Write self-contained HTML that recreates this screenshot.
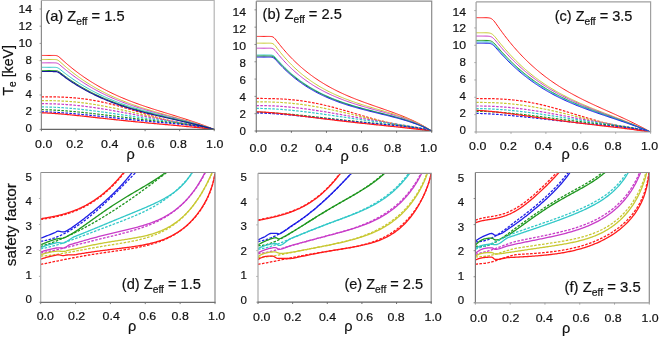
<!DOCTYPE html><html><head><meta charset="utf-8"><style>html,body{margin:0;padding:0;background:#fff;overflow:hidden;}svg{display:block;will-change:transform;}text{font-family:"Liberation Sans",sans-serif;stroke:#111111;stroke-width:0.2px;}</style></head><body>
<svg width="659" height="337" viewBox="0 0 659 337">
<rect width="659" height="337" fill="#fff"/>
<clipPath id="cla"><rect x="41.4" y="0.4" width="172.79999999999998" height="129.0"/></clipPath>
<g clip-path="url(#cla)">
<path d="M41.40,96.81 42.49,96.81 43.57,96.81 44.66,96.81 45.75,96.81 46.83,96.81 47.92,96.82 49.01,96.83 50.09,96.84 51.18,96.85 52.27,96.86 53.35,96.88 54.44,96.90 55.53,96.92 56.62,96.94 57.70,96.97 58.79,97.00 59.88,97.03 60.96,97.07 62.05,97.11 63.14,97.16 64.22,97.21 65.31,97.26 66.40,97.32 67.48,97.38 68.57,97.45 69.66,97.52 70.74,97.60 71.83,97.68 72.92,97.76 74.00,97.85 75.09,97.95 76.18,98.05 77.26,98.15 78.35,98.26 79.44,98.38 80.52,98.50 81.61,98.62 82.70,98.75 83.78,98.89 84.87,99.03 85.96,99.18 87.05,99.34 88.13,99.49 89.22,99.66 90.31,99.83 91.39,100.00 92.48,100.19 93.57,100.37 94.65,100.56 95.74,100.76 96.83,100.96 97.91,101.17 99.00,101.39 100.09,101.60 101.17,101.83 102.26,102.06 103.35,102.29 104.43,102.53 105.52,102.77 106.61,103.02 107.69,103.28 108.78,103.53 109.87,103.80 110.95,104.06 112.04,104.34 113.13,104.61 114.22,104.89 115.30,105.17 116.39,105.46 117.48,105.75 118.56,106.05 119.65,106.34 120.74,106.65 121.82,106.95 122.91,107.26 124.00,107.57 125.08,107.88 126.17,108.19 127.26,108.51 128.34,108.83 129.43,109.15 130.52,109.47 131.60,109.79 132.69,110.12 133.78,110.45 134.86,110.77 135.95,111.10 137.04,111.43 138.12,111.76 139.21,112.09 140.30,112.42 141.38,112.74 142.47,113.07 143.56,113.40 144.65,113.73 145.73,114.06 146.82,114.38 147.91,114.71 148.99,115.03 150.08,115.35 151.17,115.67 152.25,115.99 153.34,116.30 154.43,116.62 155.51,116.93 156.60,117.24 157.69,117.55 158.77,117.85 159.86,118.16 160.95,118.46 162.03,118.75 163.12,119.05 164.21,119.34 165.29,119.62 166.38,119.91 167.47,120.19 168.55,120.47 169.64,120.74 170.73,121.01 171.82,121.28 172.90,121.55 173.99,121.81 175.08,122.07 176.16,122.32 177.25,122.57 178.34,122.82 179.42,123.06 180.51,123.30 181.60,123.54 182.68,123.78 183.77,124.01 184.86,124.23 185.94,124.46 187.03,124.68 188.12,124.90 189.20,125.11 190.29,125.33 191.38,125.54 192.46,125.74 193.55,125.95 194.64,126.15 195.72,126.35 196.81,126.55 197.90,126.74 198.98,126.93 200.07,127.12 201.16,127.31 202.25,127.50 203.33,127.68 204.42,127.86 205.51,128.04 206.59,128.22 207.68,128.39 208.77,128.56 209.85,128.73 210.94,128.90 212.03,129.07 213.11,129.24 214.20,129.40" fill="none" stroke="#ff1a1a" stroke-width="1.2" stroke-dasharray="2.6,1.4" stroke-linejoin="round"/>
<path d="M41.40,100.59 42.49,100.59 43.57,100.59 44.66,100.60 45.75,100.60 46.83,100.61 47.92,100.62 49.01,100.63 50.09,100.65 51.18,100.66 52.27,100.69 53.35,100.71 54.44,100.74 55.53,100.77 56.62,100.80 57.70,100.84 58.79,100.88 59.88,100.93 60.96,100.98 62.05,101.03 63.14,101.08 64.22,101.14 65.31,101.21 66.40,101.28 67.48,101.35 68.57,101.43 69.66,101.51 70.74,101.59 71.83,101.68 72.92,101.77 74.00,101.87 75.09,101.97 76.18,102.07 77.26,102.18 78.35,102.30 79.44,102.41 80.52,102.54 81.61,102.66 82.70,102.79 83.78,102.93 84.87,103.07 85.96,103.21 87.05,103.36 88.13,103.51 89.22,103.66 90.31,103.82 91.39,103.98 92.48,104.15 93.57,104.32 94.65,104.49 95.74,104.67 96.83,104.85 97.91,105.04 99.00,105.22 100.09,105.42 101.17,105.61 102.26,105.81 103.35,106.01 104.43,106.21 105.52,106.42 106.61,106.63 107.69,106.85 108.78,107.06 109.87,107.28 110.95,107.50 112.04,107.73 113.13,107.96 114.22,108.18 115.30,108.42 116.39,108.65 117.48,108.88 118.56,109.12 119.65,109.36 120.74,109.60 121.82,109.84 122.91,110.09 124.00,110.33 125.08,110.58 126.17,110.83 127.26,111.08 128.34,111.33 129.43,111.58 130.52,111.83 131.60,112.08 132.69,112.33 133.78,112.59 134.86,112.84 135.95,113.09 137.04,113.35 138.12,113.60 139.21,113.85 140.30,114.11 141.38,114.36 142.47,114.61 143.56,114.87 144.65,115.12 145.73,115.37 146.82,115.62 147.91,115.87 148.99,116.12 150.08,116.37 151.17,116.61 152.25,116.86 153.34,117.10 154.43,117.34 155.51,117.59 156.60,117.83 157.69,118.07 158.77,118.30 159.86,118.54 160.95,118.77 162.03,119.01 163.12,119.24 164.21,119.47 165.29,119.70 166.38,119.92 167.47,120.15 168.55,120.37 169.64,120.59 170.73,120.81 171.82,121.03 172.90,121.25 173.99,121.46 175.08,121.68 176.16,121.89 177.25,122.10 178.34,122.31 179.42,122.52 180.51,122.73 181.60,122.94 182.68,123.14 183.77,123.35 184.86,123.55 185.94,123.76 187.03,123.96 188.12,124.17 189.20,124.37 190.29,124.57 191.38,124.78 192.46,124.98 193.55,125.18 194.64,125.39 195.72,125.60 196.81,125.80 197.90,126.01 198.98,126.22 200.07,126.43 201.16,126.64 202.25,126.86 203.33,127.07 204.42,127.29 205.51,127.51 206.59,127.74 207.68,127.97 208.77,128.20 209.85,128.43 210.94,128.67 212.03,128.91 213.11,129.15 214.20,129.40" fill="none" stroke="#c8c832" stroke-width="1.2" stroke-dasharray="2.6,1.4" stroke-linejoin="round"/>
<path d="M41.40,103.69 42.49,103.69 43.57,103.69 44.66,103.70 45.75,103.71 46.83,103.72 47.92,103.74 49.01,103.75 50.09,103.78 51.18,103.80 52.27,103.83 53.35,103.87 54.44,103.90 55.53,103.94 56.62,103.99 57.70,104.03 58.79,104.08 59.88,104.14 60.96,104.19 62.05,104.26 63.14,104.32 64.22,104.39 65.31,104.46 66.40,104.54 67.48,104.62 68.57,104.70 69.66,104.78 70.74,104.87 71.83,104.97 72.92,105.06 74.00,105.16 75.09,105.27 76.18,105.37 77.26,105.48 78.35,105.60 79.44,105.71 80.52,105.83 81.61,105.95 82.70,106.08 83.78,106.21 84.87,106.34 85.96,106.48 87.05,106.61 88.13,106.76 89.22,106.90 90.31,107.05 91.39,107.19 92.48,107.35 93.57,107.50 94.65,107.66 95.74,107.82 96.83,107.98 97.91,108.14 99.00,108.31 100.09,108.48 101.17,108.65 102.26,108.82 103.35,109.00 104.43,109.17 105.52,109.35 106.61,109.53 107.69,109.72 108.78,109.90 109.87,110.09 110.95,110.27 112.04,110.46 113.13,110.65 114.22,110.84 115.30,111.04 116.39,111.23 117.48,111.43 118.56,111.62 119.65,111.82 120.74,112.02 121.82,112.21 122.91,112.41 124.00,112.61 125.08,112.81 126.17,113.02 127.26,113.22 128.34,113.42 129.43,113.62 130.52,113.82 131.60,114.03 132.69,114.23 133.78,114.43 134.86,114.63 135.95,114.84 137.04,115.04 138.12,115.24 139.21,115.44 140.30,115.65 141.38,115.85 142.47,116.05 143.56,116.25 144.65,116.45 145.73,116.65 146.82,116.85 147.91,117.04 148.99,117.24 150.08,117.44 151.17,117.63 152.25,117.83 153.34,118.02 154.43,118.21 155.51,118.41 156.60,118.60 157.69,118.79 158.77,118.98 159.86,119.17 160.95,119.35 162.03,119.54 163.12,119.73 164.21,119.91 165.29,120.09 166.38,120.28 167.47,120.46 168.55,120.64 169.64,120.82 170.73,121.00 171.82,121.18 172.90,121.36 173.99,121.54 175.08,121.72 176.16,121.90 177.25,122.07 178.34,122.25 179.42,122.43 180.51,122.61 181.60,122.78 182.68,122.96 183.77,123.14 184.86,123.32 185.94,123.50 187.03,123.68 188.12,123.87 189.20,124.05 190.29,124.24 191.38,124.42 192.46,124.62 193.55,124.81 194.64,125.00 195.72,125.20 196.81,125.41 197.90,125.61 198.98,125.82 200.07,126.04 201.16,126.26 202.25,126.48 203.33,126.71 204.42,126.95 205.51,127.19 206.59,127.44 207.68,127.69 208.77,127.95 209.85,128.23 210.94,128.51 212.03,128.79 213.11,129.09 214.20,129.40" fill="none" stroke="#c83cc8" stroke-width="1.2" stroke-dasharray="2.6,1.4" stroke-linejoin="round"/>
<path d="M41.40,106.95 42.49,106.96 43.57,106.96 44.66,106.98 45.75,106.99 46.83,107.01 47.92,107.04 49.01,107.07 50.09,107.10 51.18,107.14 52.27,107.18 53.35,107.22 54.44,107.27 55.53,107.32 56.62,107.37 57.70,107.43 58.79,107.49 59.88,107.55 60.96,107.62 62.05,107.69 63.14,107.76 64.22,107.84 65.31,107.91 66.40,108.00 67.48,108.08 68.57,108.17 69.66,108.26 70.74,108.35 71.83,108.45 72.92,108.55 74.00,108.65 75.09,108.75 76.18,108.86 77.26,108.96 78.35,109.08 79.44,109.19 80.52,109.30 81.61,109.42 82.70,109.54 83.78,109.66 84.87,109.78 85.96,109.91 87.05,110.04 88.13,110.17 89.22,110.30 90.31,110.43 91.39,110.56 92.48,110.70 93.57,110.84 94.65,110.98 95.74,111.12 96.83,111.26 97.91,111.40 99.00,111.55 100.09,111.69 101.17,111.84 102.26,111.99 103.35,112.14 104.43,112.29 105.52,112.44 106.61,112.59 107.69,112.74 108.78,112.90 109.87,113.05 110.95,113.21 112.04,113.36 113.13,113.52 114.22,113.68 115.30,113.83 116.39,113.99 117.48,114.15 118.56,114.31 119.65,114.47 120.74,114.63 121.82,114.79 122.91,114.95 124.00,115.11 125.08,115.27 126.17,115.43 127.26,115.59 128.34,115.74 129.43,115.90 130.52,116.06 131.60,116.22 132.69,116.38 133.78,116.54 134.86,116.70 135.95,116.86 137.04,117.02 138.12,117.17 139.21,117.33 140.30,117.49 141.38,117.64 142.47,117.80 143.56,117.96 144.65,118.11 145.73,118.26 146.82,118.42 147.91,118.57 148.99,118.72 150.08,118.87 151.17,119.03 152.25,119.18 153.34,119.33 154.43,119.47 155.51,119.62 156.60,119.77 157.69,119.92 158.77,120.06 159.86,120.21 160.95,120.36 162.03,120.50 163.12,120.64 164.21,120.79 165.29,120.93 166.38,121.07 167.47,121.22 168.55,121.36 169.64,121.50 170.73,121.64 171.82,121.78 172.90,121.93 173.99,122.07 175.08,122.21 176.16,122.35 177.25,122.49 178.34,122.64 179.42,122.78 180.51,122.92 181.60,123.07 182.68,123.22 183.77,123.37 184.86,123.52 185.94,123.67 187.03,123.82 188.12,123.98 189.20,124.14 190.29,124.30 191.38,124.46 192.46,124.63 193.55,124.80 194.64,124.98 195.72,125.16 196.81,125.34 197.90,125.53 198.98,125.73 200.07,125.93 201.16,126.14 202.25,126.36 203.33,126.58 204.42,126.82 205.51,127.06 206.59,127.31 207.68,127.57 208.77,127.85 209.85,128.13 210.94,128.43 212.03,128.74 213.11,129.06 214.20,129.40" fill="none" stroke="#32c8c8" stroke-width="1.2" stroke-dasharray="2.6,1.4" stroke-linejoin="round"/>
<path d="M41.40,109.71 42.49,109.71 43.57,109.73 44.66,109.74 45.75,109.77 46.83,109.80 47.92,109.83 49.01,109.87 50.09,109.91 51.18,109.96 52.27,110.01 53.35,110.06 54.44,110.11 55.53,110.17 56.62,110.24 57.70,110.30 58.79,110.37 59.88,110.44 60.96,110.51 62.05,110.59 63.14,110.67 64.22,110.75 65.31,110.83 66.40,110.92 67.48,111.00 68.57,111.09 69.66,111.19 70.74,111.28 71.83,111.38 72.92,111.47 74.00,111.57 75.09,111.68 76.18,111.78 77.26,111.88 78.35,111.99 79.44,112.10 80.52,112.21 81.61,112.32 82.70,112.43 83.78,112.55 84.87,112.66 85.96,112.78 87.05,112.90 88.13,113.02 89.22,113.14 90.31,113.26 91.39,113.38 92.48,113.50 93.57,113.62 94.65,113.75 95.74,113.87 96.83,114.00 97.91,114.13 99.00,114.25 100.09,114.38 101.17,114.51 102.26,114.64 103.35,114.77 104.43,114.90 105.52,115.03 106.61,115.16 107.69,115.29 108.78,115.42 109.87,115.56 110.95,115.69 112.04,115.82 113.13,115.95 114.22,116.08 115.30,116.22 116.39,116.35 117.48,116.48 118.56,116.61 119.65,116.75 120.74,116.88 121.82,117.01 122.91,117.14 124.00,117.28 125.08,117.41 126.17,117.54 127.26,117.67 128.34,117.80 129.43,117.93 130.52,118.06 131.60,118.19 132.69,118.32 133.78,118.45 134.86,118.58 135.95,118.71 137.04,118.83 138.12,118.96 139.21,119.09 140.30,119.21 141.38,119.34 142.47,119.47 143.56,119.59 144.65,119.71 145.73,119.84 146.82,119.96 147.91,120.08 148.99,120.20 150.08,120.33 151.17,120.45 152.25,120.57 153.34,120.69 154.43,120.80 155.51,120.92 156.60,121.04 157.69,121.16 158.77,121.27 159.86,121.39 160.95,121.51 162.03,121.62 163.12,121.74 164.21,121.85 165.29,121.96 166.38,122.08 167.47,122.19 168.55,122.31 169.64,122.42 170.73,122.53 171.82,122.65 172.90,122.76 173.99,122.87 175.08,122.99 176.16,123.10 177.25,123.22 178.34,123.34 179.42,123.45 180.51,123.57 181.60,123.69 182.68,123.81 183.77,123.93 184.86,124.06 185.94,124.18 187.03,124.31 188.12,124.44 189.20,124.58 190.29,124.71 191.38,124.85 192.46,125.00 193.55,125.15 194.64,125.30 195.72,125.46 196.81,125.62 197.90,125.79 198.98,125.96 200.07,126.14 201.16,126.33 202.25,126.53 203.33,126.73 204.42,126.95 205.51,127.17 206.59,127.40 207.68,127.65 208.77,127.91 209.85,128.18 210.94,128.46 212.03,128.76 213.11,129.07 214.20,129.40" fill="none" stroke="#1e961e" stroke-width="1.2" stroke-dasharray="2.6,1.4" stroke-linejoin="round"/>
<path d="M41.40,111.77 42.49,111.78 43.57,111.80 44.66,111.82 45.75,111.85 46.83,111.89 47.92,111.93 49.01,111.97 50.09,112.02 51.18,112.07 52.27,112.12 53.35,112.18 54.44,112.24 55.53,112.30 56.62,112.37 57.70,112.43 58.79,112.51 59.88,112.58 60.96,112.65 62.05,112.73 63.14,112.81 64.22,112.89 65.31,112.98 66.40,113.06 67.48,113.15 68.57,113.24 69.66,113.33 70.74,113.42 71.83,113.52 72.92,113.61 74.00,113.71 75.09,113.81 76.18,113.91 77.26,114.01 78.35,114.11 79.44,114.21 80.52,114.32 81.61,114.42 82.70,114.53 83.78,114.63 84.87,114.74 85.96,114.85 87.05,114.96 88.13,115.07 89.22,115.18 90.31,115.29 91.39,115.41 92.48,115.52 93.57,115.63 94.65,115.75 95.74,115.86 96.83,115.97 97.91,116.09 99.00,116.20 100.09,116.32 101.17,116.44 102.26,116.55 103.35,116.67 104.43,116.78 105.52,116.90 106.61,117.02 107.69,117.13 108.78,117.25 109.87,117.37 110.95,117.48 112.04,117.60 113.13,117.72 114.22,117.83 115.30,117.95 116.39,118.07 117.48,118.18 118.56,118.30 119.65,118.41 120.74,118.53 121.82,118.64 122.91,118.76 124.00,118.87 125.08,118.99 126.17,119.10 127.26,119.21 128.34,119.33 129.43,119.44 130.52,119.55 131.60,119.66 132.69,119.78 133.78,119.89 134.86,120.00 135.95,120.11 137.04,120.22 138.12,120.32 139.21,120.43 140.30,120.54 141.38,120.65 142.47,120.75 143.56,120.86 144.65,120.97 145.73,121.07 146.82,121.18 147.91,121.28 148.99,121.38 150.08,121.49 151.17,121.59 152.25,121.69 153.34,121.79 154.43,121.89 155.51,121.99 156.60,122.09 157.69,122.19 158.77,122.29 159.86,122.39 160.95,122.48 162.03,122.58 163.12,122.68 164.21,122.77 165.29,122.87 166.38,122.97 167.47,123.06 168.55,123.16 169.64,123.26 170.73,123.35 171.82,123.45 172.90,123.54 173.99,123.64 175.08,123.74 176.16,123.83 177.25,123.93 178.34,124.03 179.42,124.13 180.51,124.23 181.60,124.33 182.68,124.44 183.77,124.54 184.86,124.65 185.94,124.75 187.03,124.86 188.12,124.98 189.20,125.09 190.29,125.21 191.38,125.33 192.46,125.46 193.55,125.59 194.64,125.72 195.72,125.86 196.81,126.00 197.90,126.15 198.98,126.30 200.07,126.46 201.16,126.63 202.25,126.80 203.33,126.99 204.42,127.18 205.51,127.38 206.59,127.59 207.68,127.81 208.77,128.04 209.85,128.28 210.94,128.54 212.03,128.81 213.11,129.10 214.20,129.40" fill="none" stroke="#1e1ee6" stroke-width="1.2" stroke-dasharray="2.6,1.4" stroke-linejoin="round"/>
<path d="M41.40,112.80 42.49,112.82 43.57,112.85 44.66,112.88 45.75,112.93 46.83,112.98 47.92,113.03 49.01,113.09 50.09,113.16 51.18,113.22 52.27,113.29 53.35,113.37 54.44,113.45 55.53,113.53 56.62,113.61 57.70,113.70 58.79,113.78 59.88,113.87 60.96,113.97 62.05,114.06 63.14,114.16 64.22,114.26 65.31,114.36 66.40,114.46 67.48,114.56 68.57,114.67 69.66,114.77 70.74,114.88 71.83,114.99 72.92,115.10 74.00,115.21 75.09,115.32 76.18,115.43 77.26,115.54 78.35,115.66 79.44,115.77 80.52,115.89 81.61,116.01 82.70,116.12 83.78,116.24 84.87,116.36 85.96,116.47 87.05,116.59 88.13,116.71 89.22,116.83 90.31,116.95 91.39,117.07 92.48,117.19 93.57,117.31 94.65,117.43 95.74,117.55 96.83,117.67 97.91,117.79 99.00,117.91 100.09,118.03 101.17,118.15 102.26,118.27 103.35,118.39 104.43,118.51 105.52,118.62 106.61,118.74 107.69,118.86 108.78,118.98 109.87,119.10 110.95,119.21 112.04,119.33 113.13,119.45 114.22,119.56 115.30,119.68 116.39,119.80 117.48,119.91 118.56,120.02 119.65,120.14 120.74,120.25 121.82,120.37 122.91,120.48 124.00,120.59 125.08,120.70 126.17,120.81 127.26,120.92 128.34,121.03 129.43,121.14 130.52,121.25 131.60,121.36 132.69,121.47 133.78,121.58 134.86,121.68 135.95,121.79 137.04,121.90 138.12,122.00 139.21,122.11 140.30,122.21 141.38,122.32 142.47,122.42 143.56,122.52 144.65,122.63 145.73,122.73 146.82,122.83 147.91,122.93 148.99,123.04 150.08,123.14 151.17,123.24 152.25,123.34 153.34,123.44 154.43,123.54 155.51,123.64 156.60,123.74 157.69,123.84 158.77,123.94 159.86,124.03 160.95,124.13 162.03,124.23 163.12,124.33 164.21,124.43 165.29,124.53 166.38,124.63 167.47,124.72 168.55,124.82 169.64,124.92 170.73,125.02 171.82,125.12 172.90,125.22 173.99,125.32 175.08,125.42 176.16,125.52 177.25,125.62 178.34,125.72 179.42,125.82 180.51,125.92 181.60,126.02 182.68,126.12 183.77,126.22 184.86,126.33 185.94,126.43 187.03,126.53 188.12,126.64 189.20,126.74 190.29,126.85 191.38,126.96 192.46,127.06 193.55,127.17 194.64,127.28 195.72,127.39 196.81,127.50 197.90,127.61 198.98,127.72 200.07,127.84 201.16,127.95 202.25,128.07 203.33,128.18 204.42,128.30 205.51,128.42 206.59,128.54 207.68,128.66 208.77,128.78 209.85,128.90 210.94,129.02 212.03,129.15 213.11,129.27 214.20,129.40" fill="none" stroke="#ff1a1a" stroke-width="1.2" stroke-linejoin="round"/>
<path d="M41.40,55.44 42.49,55.44 43.57,55.44 44.66,55.44 45.75,55.44 46.83,55.44 47.92,55.44 49.01,55.44 50.09,55.44 51.18,55.44 52.27,55.44 53.35,55.45 54.44,55.46 55.53,55.51 56.62,55.66 57.70,56.05 58.79,56.74 59.88,57.64 60.96,58.61 62.05,59.60 63.14,60.59 64.22,61.56 65.31,62.53 66.40,63.47 67.48,64.41 68.57,65.33 69.66,66.24 70.74,67.13 71.83,68.02 72.92,68.89 74.00,69.74 75.09,70.59 76.18,71.42 77.26,72.24 78.35,73.05 79.44,73.85 80.52,74.64 81.61,75.42 82.70,76.18 83.78,76.94 84.87,77.68 85.96,78.41 87.05,79.14 88.13,79.85 89.22,80.55 90.31,81.24 91.39,81.93 92.48,82.60 93.57,83.26 94.65,83.92 95.74,84.56 96.83,85.20 97.91,85.83 99.00,86.45 100.09,87.06 101.17,87.66 102.26,88.25 103.35,88.84 104.43,89.41 105.52,89.98 106.61,90.54 107.69,91.09 108.78,91.64 109.87,92.18 110.95,92.71 112.04,93.23 113.13,93.75 114.22,94.26 115.30,94.76 116.39,95.26 117.48,95.75 118.56,96.23 119.65,96.71 120.74,97.18 121.82,97.64 122.91,98.10 124.00,98.55 125.08,99.00 126.17,99.44 127.26,99.88 128.34,100.31 129.43,100.74 130.52,101.16 131.60,101.58 132.69,101.99 133.78,102.39 134.86,102.80 135.95,103.20 137.04,103.59 138.12,103.98 139.21,104.37 140.30,104.75 141.38,105.13 142.47,105.50 143.56,105.88 144.65,106.24 145.73,106.61 146.82,106.97 147.91,107.33 148.99,107.69 150.08,108.04 151.17,108.40 152.25,108.75 153.34,109.09 154.43,109.44 155.51,109.78 156.60,110.13 157.69,110.47 158.77,110.80 159.86,111.14 160.95,111.48 162.03,111.81 163.12,112.15 164.21,112.48 165.29,112.82 166.38,113.15 167.47,113.48 168.55,113.81 169.64,114.15 170.73,114.48 171.82,114.81 172.90,115.14 173.99,115.48 175.08,115.81 176.16,116.15 177.25,116.48 178.34,116.82 179.42,117.16 180.51,117.50 181.60,117.84 182.68,118.18 183.77,118.52 184.86,118.87 185.94,119.22 187.03,119.57 188.12,119.92 189.20,120.28 190.29,120.63 191.38,120.99 192.46,121.36 193.55,121.72 194.64,122.09 195.72,122.46 196.81,122.84 197.90,123.22 198.98,123.60 200.07,123.99 201.16,124.38 202.25,124.77 203.33,125.17 204.42,125.57 205.51,125.98 206.59,126.39 207.68,126.80 208.77,127.23 209.85,127.65 210.94,128.08 212.03,128.51 213.11,128.95 214.20,129.40" fill="none" stroke="#ff1a1a" stroke-width="1.0" stroke-linejoin="round"/>
<path d="M41.40,59.48 42.49,59.48 43.57,59.48 44.66,59.48 45.75,59.48 46.83,59.48 47.92,59.48 49.01,59.48 50.09,59.48 51.18,59.48 52.27,59.48 53.35,59.49 54.44,59.50 55.53,59.55 56.62,59.70 57.70,60.08 58.79,60.76 59.88,61.65 60.96,62.61 62.05,63.59 63.14,64.56 64.22,65.52 65.31,66.46 66.40,67.39 67.48,68.31 68.57,69.21 69.66,70.10 70.74,70.98 71.83,71.84 72.92,72.70 74.00,73.54 75.09,74.36 76.18,75.18 77.26,75.98 78.35,76.77 79.44,77.55 80.52,78.31 81.61,79.07 82.70,79.82 83.78,80.55 84.87,81.27 85.96,81.98 87.05,82.69 88.13,83.38 89.22,84.06 90.31,84.73 91.39,85.39 92.48,86.04 93.57,86.68 94.65,87.32 95.74,87.94 96.83,88.55 97.91,89.16 99.00,89.75 100.09,90.34 101.17,90.92 102.26,91.49 103.35,92.05 104.43,92.61 105.52,93.15 106.61,93.69 107.69,94.22 108.78,94.74 109.87,95.26 110.95,95.77 112.04,96.27 113.13,96.76 114.22,97.25 115.30,97.73 116.39,98.20 117.48,98.67 118.56,99.13 119.65,99.58 120.74,100.03 121.82,100.47 122.91,100.91 124.00,101.34 125.08,101.76 126.17,102.18 127.26,102.60 128.34,103.00 129.43,103.41 130.52,103.81 131.60,104.20 132.69,104.59 133.78,104.97 134.86,105.35 135.95,105.73 137.04,106.10 138.12,106.46 139.21,106.83 140.30,107.18 141.38,107.54 142.47,107.89 143.56,108.24 144.65,108.58 145.73,108.93 146.82,109.26 147.91,109.60 148.99,109.93 150.08,110.26 151.17,110.59 152.25,110.91 153.34,111.24 154.43,111.56 155.51,111.88 156.60,112.19 157.69,112.51 158.77,112.82 159.86,113.13 160.95,113.44 162.03,113.75 163.12,114.06 164.21,114.36 165.29,114.67 166.38,114.97 167.47,115.28 168.55,115.58 169.64,115.88 170.73,116.19 171.82,116.49 172.90,116.79 173.99,117.10 175.08,117.40 176.16,117.70 177.25,118.00 178.34,118.31 179.42,118.61 180.51,118.92 181.60,119.23 182.68,119.53 183.77,119.84 184.86,120.15 185.94,120.46 187.03,120.78 188.12,121.09 189.20,121.41 190.29,121.72 191.38,122.04 192.46,122.37 193.55,122.69 194.64,123.02 195.72,123.35 196.81,123.68 197.90,124.01 198.98,124.35 200.07,124.69 201.16,125.03 202.25,125.38 203.33,125.72 204.42,126.08 205.51,126.43 206.59,126.79 207.68,127.15 208.77,127.52 209.85,127.89 210.94,128.26 212.03,128.63 213.11,129.02 214.20,129.40" fill="none" stroke="#c8c832" stroke-width="1.0" stroke-linejoin="round"/>
<path d="M41.40,62.84 42.49,62.84 43.57,62.84 44.66,62.84 45.75,62.84 46.83,62.84 47.92,62.84 49.01,62.84 50.09,62.84 51.18,62.84 52.27,62.84 53.35,62.84 54.44,62.86 55.53,62.90 56.62,63.05 57.70,63.41 58.79,64.06 59.88,64.90 60.96,65.81 62.05,66.74 63.14,67.67 64.22,68.58 65.31,69.48 66.40,70.37 67.48,71.24 68.57,72.10 69.66,72.95 70.74,73.78 71.83,74.61 72.92,75.42 74.00,76.22 75.09,77.00 76.18,77.78 77.26,78.54 78.35,79.29 79.44,80.03 80.52,80.77 81.61,81.48 82.70,82.19 83.78,82.89 84.87,83.58 85.96,84.26 87.05,84.93 88.13,85.58 89.22,86.23 90.31,86.87 91.39,87.50 92.48,88.12 93.57,88.73 94.65,89.33 95.74,89.93 96.83,90.51 97.91,91.09 99.00,91.66 100.09,92.22 101.17,92.77 102.26,93.31 103.35,93.84 104.43,94.37 105.52,94.89 106.61,95.40 107.69,95.91 108.78,96.41 109.87,96.90 110.95,97.38 112.04,97.86 113.13,98.33 114.22,98.79 115.30,99.25 116.39,99.70 117.48,100.14 118.56,100.58 119.65,101.01 120.74,101.44 121.82,101.86 122.91,102.28 124.00,102.68 125.08,103.09 126.17,103.49 127.26,103.88 128.34,104.27 129.43,104.65 130.52,105.03 131.60,105.41 132.69,105.78 133.78,106.14 134.86,106.50 135.95,106.86 137.04,107.21 138.12,107.56 139.21,107.91 140.30,108.25 141.38,108.59 142.47,108.92 143.56,109.25 144.65,109.58 145.73,109.91 146.82,110.23 147.91,110.55 148.99,110.87 150.08,111.18 151.17,111.49 152.25,111.80 153.34,112.11 154.43,112.41 155.51,112.72 156.60,113.02 157.69,113.32 158.77,113.62 159.86,113.91 160.95,114.21 162.03,114.50 163.12,114.79 164.21,115.09 165.29,115.38 166.38,115.67 167.47,115.96 168.55,116.24 169.64,116.53 170.73,116.82 171.82,117.11 172.90,117.40 173.99,117.69 175.08,117.97 176.16,118.26 177.25,118.55 178.34,118.84 179.42,119.13 180.51,119.42 181.60,119.71 182.68,120.01 183.77,120.30 184.86,120.60 185.94,120.89 187.03,121.19 188.12,121.49 189.20,121.79 190.29,122.09 191.38,122.40 192.46,122.70 193.55,123.01 194.64,123.32 195.72,123.64 196.81,123.95 197.90,124.27 198.98,124.59 200.07,124.91 201.16,125.24 202.25,125.57 203.33,125.90 204.42,126.24 205.51,126.57 206.59,126.91 207.68,127.26 208.77,127.61 209.85,127.96 210.94,128.31 212.03,128.67 213.11,129.03 214.20,129.40" fill="none" stroke="#c83cc8" stroke-width="1.0" stroke-linejoin="round"/>
<path d="M41.40,67.31 42.49,67.31 43.57,67.31 44.66,67.31 45.75,67.31 46.83,67.31 47.92,67.31 49.01,67.31 50.09,67.31 51.18,67.31 52.27,67.31 53.35,67.31 54.44,67.33 55.53,67.37 56.62,67.50 57.70,67.84 58.79,68.45 59.88,69.23 60.96,70.09 62.05,70.95 63.14,71.81 64.22,72.67 65.31,73.51 66.40,74.33 67.48,75.15 68.57,75.95 69.66,76.74 70.74,77.52 71.83,78.29 72.92,79.04 74.00,79.79 75.09,80.52 76.18,81.25 77.26,81.96 78.35,82.66 79.44,83.35 80.52,84.03 81.61,84.70 82.70,85.37 83.78,86.02 84.87,86.66 85.96,87.29 87.05,87.91 88.13,88.53 89.22,89.13 90.31,89.73 91.39,90.32 92.48,90.89 93.57,91.46 94.65,92.03 95.74,92.58 96.83,93.12 97.91,93.66 99.00,94.19 100.09,94.71 101.17,95.23 102.26,95.73 103.35,96.23 104.43,96.73 105.52,97.21 106.61,97.69 107.69,98.16 108.78,98.62 109.87,99.08 110.95,99.53 112.04,99.98 113.13,100.42 114.22,100.85 115.30,101.27 116.39,101.69 117.48,102.11 118.56,102.52 119.65,102.92 120.74,103.32 121.82,103.71 122.91,104.10 124.00,104.48 125.08,104.86 126.17,105.23 127.26,105.60 128.34,105.96 129.43,106.32 130.52,106.67 131.60,107.02 132.69,107.36 133.78,107.71 134.86,108.04 135.95,108.38 137.04,108.70 138.12,109.03 139.21,109.35 140.30,109.67 141.38,109.99 142.47,110.30 143.56,110.61 144.65,110.91 145.73,111.22 146.82,111.52 147.91,111.82 148.99,112.11 150.08,112.40 151.17,112.70 152.25,112.98 153.34,113.27 154.43,113.55 155.51,113.84 156.60,114.12 157.69,114.40 158.77,114.68 159.86,114.95 160.95,115.23 162.03,115.50 163.12,115.77 164.21,116.05 165.29,116.32 166.38,116.59 167.47,116.86 168.55,117.13 169.64,117.40 170.73,117.67 171.82,117.94 172.90,118.20 173.99,118.47 175.08,118.74 176.16,119.01 177.25,119.28 178.34,119.55 179.42,119.82 180.51,120.09 181.60,120.36 182.68,120.64 183.77,120.91 184.86,121.19 185.94,121.46 187.03,121.74 188.12,122.02 189.20,122.30 190.29,122.58 191.38,122.87 192.46,123.15 193.55,123.44 194.64,123.73 195.72,124.02 196.81,124.32 197.90,124.61 198.98,124.91 200.07,125.22 201.16,125.52 202.25,125.83 203.33,126.14 204.42,126.45 205.51,126.76 206.59,127.08 207.68,127.40 208.77,127.73 209.85,128.05 210.94,128.39 212.03,128.72 213.11,129.06 214.20,129.40" fill="none" stroke="#32c8c8" stroke-width="1.0" stroke-linejoin="round"/>
<path d="M41.40,70.49 42.49,70.49 43.57,70.49 44.66,70.49 45.75,70.49 46.83,70.49 47.92,70.49 49.01,70.49 50.09,70.49 51.18,70.49 52.27,70.49 53.35,70.49 54.44,70.51 55.53,70.55 56.62,70.68 57.70,71.00 58.79,71.57 59.88,72.32 60.96,73.13 62.05,73.95 63.14,74.77 64.22,75.57 65.31,76.37 66.40,77.15 67.48,77.93 68.57,78.69 69.66,79.44 70.74,80.18 71.83,80.91 72.92,81.62 74.00,82.33 75.09,83.03 76.18,83.71 77.26,84.39 78.35,85.06 79.44,85.71 80.52,86.36 81.61,86.99 82.70,87.62 83.78,88.24 84.87,88.85 85.96,89.45 87.05,90.04 88.13,90.62 89.22,91.20 90.31,91.76 91.39,92.32 92.48,92.87 93.57,93.41 94.65,93.94 95.74,94.47 96.83,94.98 97.91,95.49 99.00,96.00 100.09,96.49 101.17,96.98 102.26,97.46 103.35,97.93 104.43,98.40 105.52,98.86 106.61,99.31 107.69,99.76 108.78,100.20 109.87,100.63 110.95,101.06 112.04,101.48 113.13,101.90 114.22,102.31 115.30,102.71 116.39,103.11 117.48,103.51 118.56,103.89 119.65,104.28 120.74,104.65 121.82,105.03 122.91,105.39 124.00,105.76 125.08,106.11 126.17,106.47 127.26,106.82 128.34,107.16 129.43,107.50 130.52,107.83 131.60,108.17 132.69,108.49 133.78,108.82 134.86,109.14 135.95,109.45 137.04,109.77 138.12,110.07 139.21,110.38 140.30,110.68 141.38,110.98 142.47,111.28 143.56,111.57 144.65,111.86 145.73,112.15 146.82,112.43 147.91,112.72 148.99,113.00 150.08,113.28 151.17,113.55 152.25,113.83 153.34,114.10 154.43,114.37 155.51,114.64 156.60,114.90 157.69,115.17 158.77,115.43 159.86,115.69 160.95,115.95 162.03,116.21 163.12,116.47 164.21,116.73 165.29,116.99 166.38,117.25 167.47,117.50 168.55,117.76 169.64,118.01 170.73,118.27 171.82,118.52 172.90,118.78 173.99,119.03 175.08,119.29 176.16,119.54 177.25,119.80 178.34,120.05 179.42,120.31 180.51,120.57 181.60,120.83 182.68,121.09 183.77,121.35 184.86,121.61 185.94,121.87 187.03,122.13 188.12,122.40 189.20,122.67 190.29,122.93 191.38,123.20 192.46,123.47 193.55,123.75 194.64,124.02 195.72,124.30 196.81,124.58 197.90,124.86 198.98,125.14 200.07,125.43 201.16,125.72 202.25,126.01 203.33,126.30 204.42,126.60 205.51,126.90 206.59,127.20 207.68,127.50 208.77,127.81 209.85,128.12 210.94,128.44 212.03,128.76 213.11,129.08 214.20,129.40" fill="none" stroke="#1e961e" stroke-width="1.0" stroke-linejoin="round"/>
<path d="M41.40,71.52 42.49,71.52 43.57,71.52 44.66,71.52 45.75,71.52 46.83,71.52 47.92,71.52 49.01,71.52 50.09,71.52 51.18,71.52 52.27,71.52 53.35,71.53 54.44,71.54 55.53,71.58 56.62,71.71 57.70,72.03 58.79,72.60 59.88,73.35 60.96,74.15 62.05,74.98 63.14,75.79 64.22,76.60 65.31,77.39 66.40,78.17 67.48,78.94 68.57,79.70 69.66,80.45 70.74,81.19 71.83,81.91 72.92,82.63 74.00,83.33 75.09,84.02 76.18,84.71 77.26,85.38 78.35,86.04 79.44,86.69 80.52,87.34 81.61,87.97 82.70,88.59 83.78,89.21 84.87,89.81 85.96,90.41 87.05,90.99 88.13,91.57 89.22,92.14 90.31,92.70 91.39,93.25 92.48,93.80 93.57,94.33 94.65,94.86 95.74,95.38 96.83,95.89 97.91,96.40 99.00,96.89 100.09,97.38 101.17,97.87 102.26,98.34 103.35,98.81 104.43,99.27 105.52,99.73 106.61,100.17 107.69,100.61 108.78,101.05 109.87,101.48 110.95,101.90 112.04,102.32 113.13,102.73 114.22,103.13 115.30,103.53 116.39,103.92 117.48,104.31 118.56,104.69 119.65,105.07 120.74,105.44 121.82,105.81 122.91,106.17 124.00,106.52 125.08,106.88 126.17,107.22 127.26,107.57 128.34,107.90 129.43,108.24 130.52,108.57 131.60,108.89 132.69,109.21 133.78,109.53 134.86,109.84 135.95,110.15 137.04,110.46 138.12,110.76 139.21,111.06 140.30,111.36 141.38,111.65 142.47,111.94 143.56,112.23 144.65,112.51 145.73,112.79 146.82,113.07 147.91,113.35 148.99,113.62 150.08,113.89 151.17,114.16 152.25,114.43 153.34,114.69 154.43,114.96 155.51,115.22 156.60,115.48 157.69,115.74 158.77,115.99 159.86,116.25 160.95,116.50 162.03,116.75 163.12,117.01 164.21,117.26 165.29,117.51 166.38,117.76 167.47,118.00 168.55,118.25 169.64,118.50 170.73,118.75 171.82,118.99 172.90,119.24 173.99,119.48 175.08,119.73 176.16,119.98 177.25,120.22 178.34,120.47 179.42,120.72 180.51,120.97 181.60,121.22 182.68,121.47 183.77,121.72 184.86,121.97 185.94,122.22 187.03,122.47 188.12,122.73 189.20,122.98 190.29,123.24 191.38,123.50 192.46,123.76 193.55,124.02 194.64,124.28 195.72,124.55 196.81,124.81 197.90,125.08 198.98,125.35 200.07,125.63 201.16,125.90 202.25,126.18 203.33,126.46 204.42,126.74 205.51,127.02 206.59,127.31 207.68,127.60 208.77,127.89 209.85,128.19 210.94,128.49 212.03,128.79 213.11,129.09 214.20,129.40" fill="none" stroke="#16169a" stroke-width="1.2" stroke-linejoin="round"/>
</g>
<path d="M41.4,0.4 H214.2 V129.4" fill="none" stroke="#b4b4b4" stroke-width="1.2"/>
<line x1="41.4" y1="0.4" x2="41.4" y2="129.4" stroke="#8c8c8c" stroke-width="1.2"/>
<line x1="40.8" y1="129.4" x2="214.79999999999998" y2="129.4" stroke="#656565" stroke-width="1.2"/>
<line x1="39.6" y1="129.40" x2="41.4" y2="129.40" stroke="#8c8c8c" stroke-width="0.9"/>
<line x1="39.6" y1="112.20" x2="41.4" y2="112.20" stroke="#8c8c8c" stroke-width="0.9"/>
<line x1="39.6" y1="95.00" x2="41.4" y2="95.00" stroke="#8c8c8c" stroke-width="0.9"/>
<line x1="39.6" y1="77.80" x2="41.4" y2="77.80" stroke="#8c8c8c" stroke-width="0.9"/>
<line x1="39.6" y1="60.60" x2="41.4" y2="60.60" stroke="#8c8c8c" stroke-width="0.9"/>
<line x1="39.6" y1="43.40" x2="41.4" y2="43.40" stroke="#8c8c8c" stroke-width="0.9"/>
<line x1="39.6" y1="26.20" x2="41.4" y2="26.20" stroke="#8c8c8c" stroke-width="0.9"/>
<line x1="39.6" y1="9.00" x2="41.4" y2="9.00" stroke="#8c8c8c" stroke-width="0.9"/>
<line x1="41.40" y1="129.4" x2="41.40" y2="131.20000000000002" stroke="#656565" stroke-width="0.9"/>
<line x1="75.96" y1="129.4" x2="75.96" y2="131.20000000000002" stroke="#656565" stroke-width="0.9"/>
<line x1="110.52" y1="129.4" x2="110.52" y2="131.20000000000002" stroke="#656565" stroke-width="0.9"/>
<line x1="145.08" y1="129.4" x2="145.08" y2="131.20000000000002" stroke="#656565" stroke-width="0.9"/>
<line x1="179.64" y1="129.4" x2="179.64" y2="131.20000000000002" stroke="#656565" stroke-width="0.9"/>
<line x1="214.20" y1="129.4" x2="214.20" y2="131.20000000000002" stroke="#656565" stroke-width="0.9"/>
<clipPath id="clb"><rect x="256.3" y="1.2" width="175.39999999999998" height="129.8"/></clipPath>
<g clip-path="url(#clb)">
<path d="M256.30,98.46 257.40,98.46 258.51,98.46 259.61,98.47 260.71,98.47 261.82,98.47 262.92,98.48 264.02,98.49 265.13,98.49 266.23,98.51 267.33,98.52 268.43,98.54 269.54,98.56 270.64,98.58 271.74,98.60 272.85,98.63 273.95,98.66 275.05,98.70 276.16,98.74 277.26,98.78 278.36,98.83 279.47,98.88 280.57,98.93 281.67,98.99 282.78,99.05 283.88,99.12 284.98,99.19 286.08,99.27 287.19,99.35 288.29,99.44 289.39,99.53 290.50,99.63 291.60,99.73 292.70,99.83 293.81,99.94 294.91,100.06 296.01,100.18 297.12,100.31 298.22,100.44 299.32,100.58 300.43,100.72 301.53,100.87 302.63,101.03 303.74,101.19 304.84,101.35 305.94,101.52 307.04,101.70 308.15,101.88 309.25,102.06 310.35,102.26 311.46,102.45 312.56,102.66 313.66,102.86 314.77,103.08 315.87,103.30 316.97,103.52 318.08,103.75 319.18,103.98 320.28,104.22 321.39,104.46 322.49,104.71 323.59,104.96 324.69,105.22 325.80,105.48 326.90,105.75 328.00,106.02 329.11,106.29 330.21,106.57 331.31,106.85 332.42,107.14 333.52,107.42 334.62,107.72 335.73,108.01 336.83,108.31 337.93,108.61 339.04,108.92 340.14,109.22 341.24,109.53 342.35,109.84 343.45,110.16 344.55,110.47 345.65,110.79 346.76,111.11 347.86,111.43 348.96,111.75 350.07,112.07 351.17,112.40 352.27,112.72 353.38,113.05 354.48,113.37 355.58,113.70 356.69,114.02 357.79,114.35 358.89,114.67 360.00,115.00 361.10,115.32 362.20,115.64 363.31,115.97 364.41,116.29 365.51,116.61 366.61,116.93 367.72,117.24 368.82,117.56 369.92,117.87 371.03,118.18 372.13,118.49 373.23,118.80 374.34,119.10 375.44,119.40 376.54,119.70 377.65,120.00 378.75,120.29 379.85,120.58 380.96,120.87 382.06,121.16 383.16,121.44 384.26,121.72 385.37,121.99 386.47,122.27 387.57,122.54 388.68,122.80 389.78,123.07 390.88,123.33 391.99,123.58 393.09,123.84 394.19,124.09 395.30,124.33 396.40,124.58 397.50,124.82 398.61,125.05 399.71,125.29 400.81,125.52 401.92,125.75 403.02,125.97 404.12,126.19 405.22,126.41 406.33,126.63 407.43,126.84 408.53,127.05 409.64,127.26 410.74,127.47 411.84,127.67 412.95,127.87 414.05,128.07 415.15,128.27 416.26,128.47 417.36,128.66 418.46,128.85 419.57,129.04 420.67,129.22 421.77,129.41 422.87,129.59 423.98,129.77 425.08,129.95 426.18,130.13 427.29,130.31 428.39,130.48 429.49,130.66 430.60,130.83 431.70,131.00" fill="none" stroke="#ff1a1a" stroke-width="1.2" stroke-dasharray="2.6,1.4" stroke-linejoin="round"/>
<path d="M256.30,101.84 257.40,101.84 258.51,101.84 259.61,101.84 260.71,101.85 261.82,101.86 262.92,101.87 264.02,101.88 265.13,101.89 266.23,101.91 267.33,101.93 268.43,101.96 269.54,101.98 270.64,102.01 271.74,102.05 272.85,102.09 273.95,102.13 275.05,102.17 276.16,102.22 277.26,102.27 278.36,102.33 279.47,102.39 280.57,102.45 281.67,102.52 282.78,102.59 283.88,102.67 284.98,102.75 286.08,102.83 287.19,102.92 288.29,103.02 289.39,103.11 290.50,103.21 291.60,103.32 292.70,103.43 293.81,103.54 294.91,103.66 296.01,103.79 297.12,103.91 298.22,104.04 299.32,104.18 300.43,104.32 301.53,104.46 302.63,104.61 303.74,104.76 304.84,104.92 305.94,105.08 307.04,105.24 308.15,105.41 309.25,105.58 310.35,105.76 311.46,105.94 312.56,106.12 313.66,106.31 314.77,106.50 315.87,106.69 316.97,106.89 318.08,107.09 319.18,107.30 320.28,107.50 321.39,107.72 322.49,107.93 323.59,108.15 324.69,108.37 325.80,108.59 326.90,108.81 328.00,109.04 329.11,109.27 330.21,109.50 331.31,109.74 332.42,109.98 333.52,110.22 334.62,110.46 335.73,110.70 336.83,110.94 337.93,111.19 339.04,111.44 340.14,111.69 341.24,111.94 342.35,112.19 343.45,112.45 344.55,112.70 345.65,112.95 346.76,113.21 347.86,113.47 348.96,113.72 350.07,113.98 351.17,114.24 352.27,114.50 353.38,114.76 354.48,115.02 355.58,115.27 356.69,115.53 357.79,115.79 358.89,116.05 360.00,116.30 361.10,116.56 362.20,116.82 363.31,117.07 364.41,117.33 365.51,117.58 366.61,117.83 367.72,118.08 368.82,118.33 369.92,118.58 371.03,118.83 372.13,119.08 373.23,119.32 374.34,119.56 375.44,119.81 376.54,120.05 377.65,120.28 378.75,120.52 379.85,120.76 380.96,120.99 382.06,121.22 383.16,121.45 384.26,121.68 385.37,121.91 386.47,122.14 387.57,122.36 388.68,122.58 389.78,122.80 390.88,123.02 391.99,123.24 393.09,123.46 394.19,123.67 395.30,123.88 396.40,124.10 397.50,124.31 398.61,124.52 399.71,124.73 400.81,124.93 401.92,125.14 403.02,125.35 404.12,125.55 405.22,125.76 406.33,125.97 407.43,126.17 408.53,126.38 409.64,126.58 410.74,126.79 411.84,126.99 412.95,127.20 414.05,127.41 415.15,127.62 416.26,127.83 417.36,128.04 418.46,128.25 419.57,128.47 420.67,128.68 421.77,128.90 422.87,129.12 423.98,129.35 425.08,129.57 426.18,129.80 427.29,130.04 428.39,130.27 429.49,130.51 430.60,130.75 431.70,131.00" fill="none" stroke="#c8c832" stroke-width="1.2" stroke-dasharray="2.6,1.4" stroke-linejoin="round"/>
<path d="M256.30,105.56 257.40,105.56 258.51,105.56 259.61,105.57 260.71,105.58 261.82,105.60 262.92,105.61 264.02,105.63 265.13,105.66 266.23,105.68 267.33,105.72 268.43,105.75 269.54,105.79 270.64,105.83 271.74,105.87 272.85,105.92 273.95,105.97 275.05,106.03 276.16,106.09 277.26,106.15 278.36,106.22 279.47,106.29 280.57,106.36 281.67,106.44 282.78,106.52 283.88,106.60 284.98,106.69 286.08,106.78 287.19,106.88 288.29,106.97 289.39,107.07 290.50,107.18 291.60,107.28 292.70,107.40 293.81,107.51 294.91,107.63 296.01,107.75 297.12,107.87 298.22,107.99 299.32,108.12 300.43,108.26 301.53,108.39 302.63,108.53 303.74,108.67 304.84,108.81 305.94,108.96 307.04,109.10 308.15,109.25 309.25,109.41 310.35,109.56 311.46,109.72 312.56,109.88 313.66,110.04 314.77,110.21 315.87,110.38 316.97,110.54 318.08,110.71 319.18,110.89 320.28,111.06 321.39,111.24 322.49,111.42 323.59,111.60 324.69,111.78 325.80,111.96 326.90,112.14 328.00,112.33 329.11,112.51 330.21,112.70 331.31,112.89 332.42,113.08 333.52,113.27 334.62,113.46 335.73,113.66 336.83,113.85 337.93,114.04 339.04,114.24 340.14,114.43 341.24,114.63 342.35,114.83 343.45,115.02 344.55,115.22 345.65,115.42 346.76,115.61 347.86,115.81 348.96,116.01 350.07,116.21 351.17,116.41 352.27,116.60 353.38,116.80 354.48,117.00 355.58,117.19 356.69,117.39 357.79,117.59 358.89,117.78 360.00,117.98 361.10,118.17 362.20,118.36 363.31,118.56 364.41,118.75 365.51,118.94 366.61,119.13 367.72,119.32 368.82,119.51 369.92,119.70 371.03,119.89 372.13,120.08 373.23,120.26 374.34,120.45 375.44,120.63 376.54,120.82 377.65,121.00 378.75,121.18 379.85,121.36 380.96,121.54 382.06,121.72 383.16,121.90 384.26,122.08 385.37,122.26 386.47,122.43 387.57,122.61 388.68,122.78 389.78,122.96 390.88,123.13 391.99,123.31 393.09,123.48 394.19,123.65 395.30,123.83 396.40,124.00 397.50,124.18 398.61,124.35 399.71,124.53 400.81,124.70 401.92,124.88 403.02,125.06 404.12,125.24 405.22,125.42 406.33,125.60 407.43,125.79 408.53,125.97 409.64,126.16 410.74,126.35 411.84,126.55 412.95,126.75 414.05,126.95 415.15,127.16 416.26,127.37 417.36,127.58 418.46,127.80 419.57,128.03 420.67,128.26 421.77,128.50 422.87,128.74 423.98,128.99 425.08,129.25 426.18,129.52 427.29,129.80 428.39,130.08 429.49,130.38 430.60,130.68 431.70,131.00" fill="none" stroke="#c83cc8" stroke-width="1.2" stroke-dasharray="2.6,1.4" stroke-linejoin="round"/>
<path d="M256.30,108.41 257.40,108.42 258.51,108.43 259.61,108.44 260.71,108.45 261.82,108.48 262.92,108.50 264.02,108.53 265.13,108.56 266.23,108.60 267.33,108.64 268.43,108.68 269.54,108.73 270.64,108.78 271.74,108.83 272.85,108.89 273.95,108.95 275.05,109.01 276.16,109.08 277.26,109.15 278.36,109.23 279.47,109.30 280.57,109.38 281.67,109.46 282.78,109.55 283.88,109.64 284.98,109.73 286.08,109.82 287.19,109.92 288.29,110.02 289.39,110.12 290.50,110.22 291.60,110.33 292.70,110.44 293.81,110.55 294.91,110.66 296.01,110.78 297.12,110.90 298.22,111.02 299.32,111.14 300.43,111.26 301.53,111.39 302.63,111.52 303.74,111.65 304.84,111.78 305.94,111.91 307.04,112.05 308.15,112.18 309.25,112.32 310.35,112.46 311.46,112.60 312.56,112.75 313.66,112.89 314.77,113.04 315.87,113.18 316.97,113.33 318.08,113.48 319.18,113.63 320.28,113.78 321.39,113.93 322.49,114.09 323.59,114.24 324.69,114.39 325.80,114.55 326.90,114.71 328.00,114.86 329.11,115.02 330.21,115.18 331.31,115.34 332.42,115.50 333.52,115.66 334.62,115.81 335.73,115.97 336.83,116.14 337.93,116.30 339.04,116.46 340.14,116.62 341.24,116.78 342.35,116.94 343.45,117.10 344.55,117.26 345.65,117.42 346.76,117.58 347.86,117.74 348.96,117.90 350.07,118.06 351.17,118.22 352.27,118.38 353.38,118.54 354.48,118.70 355.58,118.86 356.69,119.01 357.79,119.17 358.89,119.33 360.00,119.48 361.10,119.64 362.20,119.80 363.31,119.95 364.41,120.10 365.51,120.26 366.61,120.41 367.72,120.56 368.82,120.71 369.92,120.86 371.03,121.01 372.13,121.16 373.23,121.31 374.34,121.46 375.44,121.61 376.54,121.75 377.65,121.90 378.75,122.05 379.85,122.19 380.96,122.33 382.06,122.48 383.16,122.62 384.26,122.77 385.37,122.91 386.47,123.05 387.57,123.19 388.68,123.34 389.78,123.48 390.88,123.62 391.99,123.76 393.09,123.91 394.19,124.05 395.30,124.19 396.40,124.34 397.50,124.48 398.61,124.63 399.71,124.78 400.81,124.93 401.92,125.08 403.02,125.23 404.12,125.39 405.22,125.54 406.33,125.70 407.43,125.87 408.53,126.03 409.64,126.20 410.74,126.37 411.84,126.55 412.95,126.73 414.05,126.92 415.15,127.11 416.26,127.31 417.36,127.51 418.46,127.72 419.57,127.94 420.67,128.17 421.77,128.40 422.87,128.65 423.98,128.90 425.08,129.16 426.18,129.44 427.29,129.72 428.39,130.02 429.49,130.33 430.60,130.66 431.70,131.00" fill="none" stroke="#32c8c8" stroke-width="1.2" stroke-dasharray="2.6,1.4" stroke-linejoin="round"/>
<path d="M256.30,112.22 257.40,112.23 258.51,112.25 259.61,112.27 260.71,112.30 261.82,112.33 262.92,112.37 264.02,112.41 265.13,112.45 266.23,112.50 267.33,112.55 268.43,112.61 269.54,112.67 270.64,112.73 271.74,112.80 272.85,112.86 273.95,112.93 275.05,113.01 276.16,113.08 277.26,113.16 278.36,113.24 279.47,113.32 280.57,113.41 281.67,113.49 282.78,113.58 283.88,113.67 284.98,113.77 286.08,113.86 287.19,113.96 288.29,114.06 289.39,114.15 290.50,114.26 291.60,114.36 292.70,114.46 293.81,114.57 294.91,114.67 296.01,114.78 297.12,114.89 298.22,115.00 299.32,115.11 300.43,115.23 301.53,115.34 302.63,115.45 303.74,115.57 304.84,115.69 305.94,115.80 307.04,115.92 308.15,116.04 309.25,116.16 310.35,116.28 311.46,116.40 312.56,116.52 313.66,116.64 314.77,116.76 315.87,116.89 316.97,117.01 318.08,117.13 319.18,117.26 320.28,117.38 321.39,117.50 322.49,117.63 323.59,117.75 324.69,117.88 325.80,118.00 326.90,118.13 328.00,118.25 329.11,118.38 330.21,118.50 331.31,118.63 332.42,118.75 333.52,118.88 334.62,119.00 335.73,119.12 336.83,119.25 337.93,119.37 339.04,119.50 340.14,119.62 341.24,119.74 342.35,119.87 343.45,119.99 344.55,120.11 345.65,120.23 346.76,120.35 347.86,120.48 348.96,120.60 350.07,120.72 351.17,120.84 352.27,120.96 353.38,121.07 354.48,121.19 355.58,121.31 356.69,121.43 357.79,121.54 358.89,121.66 360.00,121.77 361.10,121.89 362.20,122.00 363.31,122.12 364.41,122.23 365.51,122.34 366.61,122.46 367.72,122.57 368.82,122.68 369.92,122.79 371.03,122.90 372.13,123.01 373.23,123.12 374.34,123.22 375.44,123.33 376.54,123.44 377.65,123.55 378.75,123.65 379.85,123.76 380.96,123.86 382.06,123.97 383.16,124.07 384.26,124.18 385.37,124.28 386.47,124.39 387.57,124.49 388.68,124.60 389.78,124.70 390.88,124.81 391.99,124.92 393.09,125.02 394.19,125.13 395.30,125.24 396.40,125.34 397.50,125.45 398.61,125.57 399.71,125.68 400.81,125.79 401.92,125.91 403.02,126.02 404.12,126.14 405.22,126.27 406.33,126.39 407.43,126.52 408.53,126.65 409.64,126.79 410.74,126.93 411.84,127.07 412.95,127.22 414.05,127.37 415.15,127.53 416.26,127.70 417.36,127.87 418.46,128.05 419.57,128.24 420.67,128.43 421.77,128.64 422.87,128.85 423.98,129.07 425.08,129.31 426.18,129.56 427.29,129.82 428.39,130.09 429.49,130.38 430.60,130.68 431.70,131.00" fill="none" stroke="#1e961e" stroke-width="1.2" stroke-dasharray="2.6,1.4" stroke-linejoin="round"/>
<path d="M256.30,113.00 257.40,113.01 258.51,113.03 259.61,113.05 260.71,113.08 261.82,113.12 262.92,113.16 264.02,113.20 265.13,113.25 266.23,113.30 267.33,113.35 268.43,113.41 269.54,113.47 270.64,113.53 271.74,113.60 272.85,113.67 273.95,113.74 275.05,113.81 276.16,113.89 277.26,113.97 278.36,114.05 279.47,114.13 280.57,114.21 281.67,114.30 282.78,114.39 283.88,114.48 284.98,114.57 286.08,114.67 287.19,114.76 288.29,114.86 289.39,114.96 290.50,115.05 291.60,115.16 292.70,115.26 293.81,115.36 294.91,115.47 296.01,115.57 297.12,115.68 298.22,115.79 299.32,115.89 300.43,116.00 301.53,116.12 302.63,116.23 303.74,116.34 304.84,116.45 305.94,116.56 307.04,116.68 308.15,116.79 309.25,116.91 310.35,117.02 311.46,117.14 312.56,117.26 313.66,117.38 314.77,117.49 315.87,117.61 316.97,117.73 318.08,117.85 319.18,117.97 320.28,118.08 321.39,118.20 322.49,118.32 323.59,118.44 324.69,118.56 325.80,118.68 326.90,118.80 328.00,118.92 329.11,119.04 330.21,119.16 331.31,119.28 332.42,119.39 333.52,119.51 334.62,119.63 335.73,119.75 336.83,119.87 337.93,119.99 339.04,120.10 340.14,120.22 341.24,120.34 342.35,120.45 343.45,120.57 344.55,120.68 345.65,120.80 346.76,120.92 347.86,121.03 348.96,121.14 350.07,121.26 351.17,121.37 352.27,121.48 353.38,121.59 354.48,121.71 355.58,121.82 356.69,121.93 357.79,122.04 358.89,122.15 360.00,122.26 361.10,122.36 362.20,122.47 363.31,122.58 364.41,122.69 365.51,122.79 366.61,122.90 367.72,123.00 368.82,123.11 369.92,123.21 371.03,123.31 372.13,123.41 373.23,123.52 374.34,123.62 375.44,123.72 376.54,123.82 377.65,123.92 378.75,124.02 379.85,124.12 380.96,124.22 382.06,124.32 383.16,124.42 384.26,124.51 385.37,124.61 386.47,124.71 387.57,124.81 388.68,124.91 389.78,125.01 390.88,125.11 391.99,125.21 393.09,125.31 394.19,125.41 395.30,125.51 396.40,125.61 397.50,125.71 398.61,125.82 399.71,125.92 400.81,126.03 401.92,126.14 403.02,126.25 404.12,126.36 405.22,126.48 406.33,126.60 407.43,126.72 408.53,126.84 409.64,126.97 410.74,127.10 411.84,127.24 412.95,127.38 414.05,127.52 415.15,127.68 416.26,127.83 417.36,128.00 418.46,128.17 419.57,128.35 420.67,128.53 421.77,128.73 422.87,128.93 423.98,129.15 425.08,129.37 426.18,129.61 427.29,129.86 428.39,130.12 429.49,130.40 430.60,130.69 431.70,131.00" fill="none" stroke="#1e1ee6" stroke-width="1.2" stroke-dasharray="2.6,1.4" stroke-linejoin="round"/>
<path d="M256.30,111.79 257.40,111.81 258.51,111.84 259.61,111.88 260.71,111.94 261.82,111.99 262.92,112.06 264.02,112.13 265.13,112.20 266.23,112.28 267.33,112.36 268.43,112.45 269.54,112.54 270.64,112.63 271.74,112.72 272.85,112.82 273.95,112.93 275.05,113.03 276.16,113.14 277.26,113.25 278.36,113.36 279.47,113.47 280.57,113.59 281.67,113.71 282.78,113.83 283.88,113.95 284.98,114.07 286.08,114.19 287.19,114.32 288.29,114.45 289.39,114.57 290.50,114.70 291.60,114.83 292.70,114.96 293.81,115.10 294.91,115.23 296.01,115.36 297.12,115.50 298.22,115.63 299.32,115.77 300.43,115.90 301.53,116.04 302.63,116.18 303.74,116.32 304.84,116.45 305.94,116.59 307.04,116.73 308.15,116.87 309.25,117.01 310.35,117.15 311.46,117.28 312.56,117.42 313.66,117.56 314.77,117.70 315.87,117.84 316.97,117.98 318.08,118.12 319.18,118.25 320.28,118.39 321.39,118.53 322.49,118.67 323.59,118.80 324.69,118.94 325.80,119.08 326.90,119.21 328.00,119.35 329.11,119.48 330.21,119.62 331.31,119.75 332.42,119.88 333.52,120.02 334.62,120.15 335.73,120.28 336.83,120.41 337.93,120.54 339.04,120.67 340.14,120.80 341.24,120.93 342.35,121.06 343.45,121.19 344.55,121.32 345.65,121.44 346.76,121.57 347.86,121.70 348.96,121.82 350.07,121.95 351.17,122.07 352.27,122.19 353.38,122.32 354.48,122.44 355.58,122.56 356.69,122.68 357.79,122.80 358.89,122.92 360.00,123.04 361.10,123.16 362.20,123.28 363.31,123.40 364.41,123.52 365.51,123.63 366.61,123.75 367.72,123.87 368.82,123.98 369.92,124.10 371.03,124.22 372.13,124.33 373.23,124.45 374.34,124.56 375.44,124.68 376.54,124.79 377.65,124.90 378.75,125.02 379.85,125.13 380.96,125.25 382.06,125.36 383.16,125.48 384.26,125.59 385.37,125.70 386.47,125.82 387.57,125.93 388.68,126.05 389.78,126.16 390.88,126.28 391.99,126.39 393.09,126.51 394.19,126.62 395.30,126.74 396.40,126.85 397.50,126.97 398.61,127.09 399.71,127.21 400.81,127.32 401.92,127.44 403.02,127.56 404.12,127.68 405.22,127.80 406.33,127.93 407.43,128.05 408.53,128.17 409.64,128.30 410.74,128.42 411.84,128.55 412.95,128.67 414.05,128.80 415.15,128.93 416.26,129.06 417.36,129.19 418.46,129.32 419.57,129.46 420.67,129.59 421.77,129.72 422.87,129.86 423.98,130.00 425.08,130.14 426.18,130.28 427.29,130.42 428.39,130.56 429.49,130.71 430.60,130.85 431.70,131.00" fill="none" stroke="#ff1a1a" stroke-width="1.2" stroke-linejoin="round"/>
<path d="M256.30,36.42 257.40,36.42 258.51,36.42 259.61,36.42 260.71,36.42 261.82,36.42 262.92,36.42 264.02,36.42 265.13,36.42 266.23,36.42 267.33,36.42 268.43,36.42 269.54,36.43 270.64,36.47 271.74,36.58 272.85,36.90 273.95,37.63 275.05,38.77 276.16,40.13 277.26,41.55 278.36,42.97 279.47,44.37 280.57,45.75 281.67,47.10 282.78,48.43 283.88,49.73 284.98,51.01 286.08,52.26 287.19,53.49 288.29,54.70 289.39,55.88 290.50,57.05 291.60,58.19 292.70,59.30 293.81,60.40 294.91,61.48 296.01,62.54 297.12,63.57 298.22,64.59 299.32,65.59 300.43,66.58 301.53,67.54 302.63,68.49 303.74,69.41 304.84,70.33 305.94,71.22 307.04,72.10 308.15,72.96 309.25,73.81 310.35,74.65 311.46,75.46 312.56,76.27 313.66,77.06 314.77,77.83 315.87,78.59 316.97,79.34 318.08,80.07 319.18,80.80 320.28,81.51 321.39,82.20 322.49,82.89 323.59,83.56 324.69,84.22 325.80,84.88 326.90,85.52 328.00,86.14 329.11,86.76 330.21,87.37 331.31,87.97 332.42,88.56 333.52,89.14 334.62,89.71 335.73,90.27 336.83,90.82 337.93,91.36 339.04,91.90 340.14,92.43 341.24,92.94 342.35,93.46 343.45,93.96 344.55,94.46 345.65,94.95 346.76,95.43 347.86,95.91 348.96,96.37 350.07,96.84 351.17,97.30 352.27,97.75 353.38,98.19 354.48,98.64 355.58,99.07 356.69,99.50 357.79,99.93 358.89,100.35 360.00,100.77 361.10,101.18 362.20,101.59 363.31,102.00 364.41,102.40 365.51,102.80 366.61,103.20 367.72,103.60 368.82,103.99 369.92,104.38 371.03,104.77 372.13,105.15 373.23,105.54 374.34,105.92 375.44,106.31 376.54,106.69 377.65,107.07 378.75,107.45 379.85,107.83 380.96,108.21 382.06,108.59 383.16,108.98 384.26,109.36 385.37,109.74 386.47,110.13 387.57,110.52 388.68,110.91 389.78,111.30 390.88,111.69 391.99,112.09 393.09,112.49 394.19,112.90 395.30,113.30 396.40,113.72 397.50,114.13 398.61,114.55 399.71,114.98 400.81,115.41 401.92,115.85 403.02,116.29 404.12,116.74 405.22,117.19 406.33,117.65 407.43,118.12 408.53,118.60 409.64,119.08 410.74,119.57 411.84,120.07 412.95,120.58 414.05,121.10 415.15,121.63 416.26,122.17 417.36,122.72 418.46,123.28 419.57,123.85 420.67,124.44 421.77,125.03 422.87,125.64 423.98,126.26 425.08,126.89 426.18,127.54 427.29,128.20 428.39,128.88 429.49,129.57 430.60,130.28 431.70,131.00" fill="none" stroke="#ff1a1a" stroke-width="1.0" stroke-linejoin="round"/>
<path d="M256.30,43.17 257.40,43.17 258.51,43.17 259.61,43.17 260.71,43.17 261.82,43.17 262.92,43.17 264.02,43.17 265.13,43.17 266.23,43.17 267.33,43.17 268.43,43.17 269.54,43.18 270.64,43.22 271.74,43.33 272.85,43.66 273.95,44.40 275.05,45.55 276.16,46.93 277.26,48.37 278.36,49.80 279.47,51.21 280.57,52.59 281.67,53.94 282.78,55.26 283.88,56.55 284.98,57.82 286.08,59.05 287.19,60.27 288.29,61.45 289.39,62.61 290.50,63.75 291.60,64.86 292.70,65.95 293.81,67.01 294.91,68.05 296.01,69.07 297.12,70.07 298.22,71.05 299.32,72.01 300.43,72.95 301.53,73.87 302.63,74.77 303.74,75.65 304.84,76.51 305.94,77.36 307.04,78.19 308.15,79.00 309.25,79.79 310.35,80.57 311.46,81.34 312.56,82.08 313.66,82.82 314.77,83.53 315.87,84.24 316.97,84.93 318.08,85.61 319.18,86.27 320.28,86.92 321.39,87.56 322.49,88.18 323.59,88.80 324.69,89.40 325.80,89.99 326.90,90.57 328.00,91.13 329.11,91.69 330.21,92.24 331.31,92.77 332.42,93.30 333.52,93.82 334.62,94.33 335.73,94.83 336.83,95.32 337.93,95.80 339.04,96.27 340.14,96.74 341.24,97.19 342.35,97.64 343.45,98.08 344.55,98.52 345.65,98.95 346.76,99.37 347.86,99.78 348.96,100.19 350.07,100.59 351.17,100.99 352.27,101.38 353.38,101.77 354.48,102.15 355.58,102.52 356.69,102.89 357.79,103.26 358.89,103.62 360.00,103.98 361.10,104.33 362.20,104.68 363.31,105.03 364.41,105.37 365.51,105.71 366.61,106.05 367.72,106.39 368.82,106.72 369.92,107.05 371.03,107.38 372.13,107.71 373.23,108.03 374.34,108.36 375.44,108.68 376.54,109.00 377.65,109.33 378.75,109.65 379.85,109.97 380.96,110.29 382.06,110.62 383.16,110.94 384.26,111.27 385.37,111.59 386.47,111.92 387.57,112.25 388.68,112.59 389.78,112.92 390.88,113.26 391.99,113.60 393.09,113.95 394.19,114.29 395.30,114.65 396.40,115.00 397.50,115.36 398.61,115.73 399.71,116.10 400.81,116.48 401.92,116.86 403.02,117.25 404.12,117.65 405.22,118.05 406.33,118.46 407.43,118.88 408.53,119.31 409.64,119.74 410.74,120.19 411.84,120.64 412.95,121.11 414.05,121.58 415.15,122.07 416.26,122.57 417.36,123.07 418.46,123.60 419.57,124.13 420.67,124.68 421.77,125.24 422.87,125.81 423.98,126.40 425.08,127.01 426.18,127.63 427.29,128.27 428.39,128.92 429.49,129.60 430.60,130.29 431.70,131.00" fill="none" stroke="#c8c832" stroke-width="1.0" stroke-linejoin="round"/>
<path d="M256.30,48.19 257.40,48.19 258.51,48.19 259.61,48.19 260.71,48.19 261.82,48.19 262.92,48.19 264.02,48.19 265.13,48.19 266.23,48.19 267.33,48.19 268.43,48.19 269.54,48.20 270.64,48.23 271.74,48.34 272.85,48.65 273.95,49.35 275.05,50.44 276.16,51.73 277.26,53.09 278.36,54.44 279.47,55.77 280.57,57.07 281.67,58.34 282.78,59.59 283.88,60.81 284.98,62.00 286.08,63.17 287.19,64.31 288.29,65.43 289.39,66.52 290.50,67.59 291.60,68.64 292.70,69.66 293.81,70.67 294.91,71.65 296.01,72.61 297.12,73.56 298.22,74.48 299.32,75.38 300.43,76.27 301.53,77.13 302.63,77.98 303.74,78.81 304.84,79.63 305.94,80.42 307.04,81.20 308.15,81.97 309.25,82.72 310.35,83.45 311.46,84.17 312.56,84.88 313.66,85.57 314.77,86.25 315.87,86.91 316.97,87.56 318.08,88.20 319.18,88.83 320.28,89.44 321.39,90.04 322.49,90.63 323.59,91.21 324.69,91.77 325.80,92.33 326.90,92.88 328.00,93.41 329.11,93.94 330.21,94.45 331.31,94.96 332.42,95.46 333.52,95.94 334.62,96.42 335.73,96.89 336.83,97.36 337.93,97.81 339.04,98.26 340.14,98.69 341.24,99.13 342.35,99.55 343.45,99.97 344.55,100.38 345.65,100.78 346.76,101.18 347.86,101.57 348.96,101.95 350.07,102.33 351.17,102.71 352.27,103.07 353.38,103.44 354.48,103.80 355.58,104.15 356.69,104.50 357.79,104.84 358.89,105.19 360.00,105.52 361.10,105.86 362.20,106.19 363.31,106.51 364.41,106.84 365.51,107.16 366.61,107.48 367.72,107.79 368.82,108.11 369.92,108.42 371.03,108.73 372.13,109.04 373.23,109.34 374.34,109.65 375.44,109.96 376.54,110.26 377.65,110.56 378.75,110.87 379.85,111.17 380.96,111.48 382.06,111.78 383.16,112.09 384.26,112.40 385.37,112.70 386.47,113.01 387.57,113.32 388.68,113.64 389.78,113.95 390.88,114.27 391.99,114.60 393.09,114.92 394.19,115.25 395.30,115.58 396.40,115.92 397.50,116.26 398.61,116.60 399.71,116.95 400.81,117.31 401.92,117.67 403.02,118.04 404.12,118.41 405.22,118.79 406.33,119.18 407.43,119.57 408.53,119.98 409.64,120.39 410.74,120.81 411.84,121.24 412.95,121.67 414.05,122.12 415.15,122.58 416.26,123.05 417.36,123.53 418.46,124.02 419.57,124.52 420.67,125.04 421.77,125.57 422.87,126.11 423.98,126.67 425.08,127.24 426.18,127.82 427.29,128.42 428.39,129.04 429.49,129.68 430.60,130.33 431.70,131.00" fill="none" stroke="#c83cc8" stroke-width="1.0" stroke-linejoin="round"/>
<path d="M256.30,55.02 257.40,55.02 258.51,55.02 259.61,55.02 260.71,55.02 261.82,55.02 262.92,55.02 264.02,55.02 265.13,55.02 266.23,55.02 267.33,55.02 268.43,55.03 269.54,55.04 270.64,55.06 271.74,55.16 272.85,55.45 273.95,56.09 275.05,57.09 276.16,58.28 277.26,59.52 278.36,60.76 279.47,61.98 280.57,63.17 281.67,64.34 282.78,65.48 283.88,66.60 284.98,67.69 286.08,68.77 287.19,69.81 288.29,70.84 289.39,71.84 290.50,72.82 291.60,73.79 292.70,74.73 293.81,75.65 294.91,76.55 296.01,77.43 297.12,78.30 298.22,79.14 299.32,79.97 300.43,80.78 301.53,81.58 302.63,82.36 303.74,83.12 304.84,83.87 305.94,84.60 307.04,85.32 308.15,86.02 309.25,86.70 310.35,87.38 311.46,88.04 312.56,88.69 313.66,89.32 314.77,89.94 315.87,90.55 316.97,91.15 318.08,91.73 319.18,92.31 320.28,92.87 321.39,93.42 322.49,93.96 323.59,94.49 324.69,95.01 325.80,95.52 326.90,96.02 328.00,96.51 329.11,97.00 330.21,97.47 331.31,97.93 332.42,98.39 333.52,98.84 334.62,99.28 335.73,99.71 336.83,100.13 337.93,100.55 339.04,100.96 340.14,101.36 341.24,101.76 342.35,102.15 343.45,102.53 344.55,102.90 345.65,103.27 346.76,103.64 347.86,104.00 348.96,104.35 350.07,104.70 351.17,105.04 352.27,105.38 353.38,105.71 354.48,106.04 355.58,106.37 356.69,106.69 357.79,107.00 358.89,107.32 360.00,107.63 361.10,107.93 362.20,108.23 363.31,108.53 364.41,108.83 365.51,109.13 366.61,109.42 367.72,109.71 368.82,110.00 369.92,110.28 371.03,110.57 372.13,110.85 373.23,111.13 374.34,111.41 375.44,111.69 376.54,111.97 377.65,112.25 378.75,112.53 379.85,112.81 380.96,113.09 382.06,113.37 383.16,113.65 384.26,113.93 385.37,114.21 386.47,114.50 387.57,114.78 388.68,115.07 389.78,115.36 390.88,115.65 391.99,115.95 393.09,116.25 394.19,116.55 395.30,116.85 396.40,117.16 397.50,117.47 398.61,117.79 399.71,118.11 400.81,118.44 401.92,118.77 403.02,119.11 404.12,119.45 405.22,119.80 406.33,120.15 407.43,120.52 408.53,120.89 409.64,121.26 410.74,121.65 411.84,122.04 412.95,122.44 414.05,122.85 415.15,123.27 416.26,123.70 417.36,124.14 418.46,124.59 419.57,125.06 420.67,125.53 421.77,126.02 422.87,126.51 423.98,127.02 425.08,127.55 426.18,128.09 427.29,128.64 428.39,129.20 429.49,129.79 430.60,130.39 431.70,131.00" fill="none" stroke="#32c8c8" stroke-width="1.0" stroke-linejoin="round"/>
<path d="M256.30,56.06 257.40,56.06 258.51,56.06 259.61,56.06 260.71,56.06 261.82,56.06 262.92,56.06 264.02,56.06 265.13,56.06 266.23,56.06 267.33,56.06 268.43,56.07 269.54,56.07 270.64,56.10 271.74,56.20 272.85,56.48 273.95,57.11 275.05,58.10 276.16,59.27 277.26,60.50 278.36,61.72 279.47,62.92 280.57,64.10 281.67,65.25 282.78,66.38 283.88,67.48 284.98,68.56 286.08,69.62 287.19,70.65 288.29,71.66 289.39,72.65 290.50,73.62 291.60,74.57 292.70,75.50 293.81,76.40 294.91,77.29 296.01,78.17 297.12,79.02 298.22,79.85 299.32,80.67 300.43,81.47 301.53,82.26 302.63,83.02 303.74,83.77 304.84,84.51 305.94,85.23 307.04,85.94 308.15,86.63 309.25,87.31 310.35,87.97 311.46,88.63 312.56,89.26 313.66,89.89 314.77,90.50 315.87,91.10 316.97,91.69 318.08,92.27 319.18,92.84 320.28,93.39 321.39,93.93 322.49,94.47 323.59,94.99 324.69,95.50 325.80,96.01 326.90,96.50 328.00,96.99 329.11,97.46 330.21,97.93 331.31,98.39 332.42,98.84 333.52,99.28 334.62,99.71 335.73,100.14 336.83,100.55 337.93,100.97 339.04,101.37 340.14,101.77 341.24,102.16 342.35,102.54 343.45,102.92 344.55,103.29 345.65,103.65 346.76,104.01 347.86,104.37 348.96,104.71 350.07,105.06 351.17,105.40 352.27,105.73 353.38,106.06 354.48,106.38 355.58,106.70 356.69,107.02 357.79,107.33 358.89,107.64 360.00,107.95 361.10,108.25 362.20,108.55 363.31,108.84 364.41,109.13 365.51,109.42 366.61,109.71 367.72,110.00 368.82,110.28 369.92,110.57 371.03,110.85 372.13,111.13 373.23,111.40 374.34,111.68 375.44,111.96 376.54,112.23 377.65,112.51 378.75,112.78 379.85,113.06 380.96,113.33 382.06,113.61 383.16,113.89 384.26,114.16 385.37,114.44 386.47,114.72 387.57,115.01 388.68,115.29 389.78,115.58 390.88,115.86 391.99,116.15 393.09,116.45 394.19,116.75 395.30,117.05 396.40,117.35 397.50,117.66 398.61,117.97 399.71,118.29 400.81,118.61 401.92,118.94 403.02,119.27 404.12,119.61 405.22,119.95 406.33,120.30 407.43,120.66 408.53,121.02 409.64,121.40 410.74,121.78 411.84,122.16 412.95,122.56 414.05,122.97 415.15,123.38 416.26,123.80 417.36,124.24 418.46,124.68 419.57,125.14 420.67,125.60 421.77,126.08 422.87,126.57 423.98,127.08 425.08,127.59 426.18,128.12 427.29,128.67 428.39,129.23 429.49,129.80 430.60,130.39 431.70,131.00" fill="none" stroke="#1e961e" stroke-width="1.0" stroke-linejoin="round"/>
<path d="M256.30,57.10 257.40,57.10 258.51,57.10 259.61,57.10 260.71,57.10 261.82,57.10 262.92,57.10 264.02,57.10 265.13,57.10 266.23,57.10 267.33,57.10 268.43,57.10 269.54,57.11 270.64,57.14 271.74,57.24 272.85,57.52 273.95,58.15 275.05,59.14 276.16,60.31 277.26,61.53 278.36,62.75 279.47,63.95 280.57,65.13 281.67,66.28 282.78,67.41 283.88,68.51 284.98,69.59 286.08,70.64 287.19,71.67 288.29,72.68 289.39,73.67 290.50,74.63 291.60,75.58 292.70,76.50 293.81,77.41 294.91,78.30 296.01,79.16 297.12,80.01 298.22,80.85 299.32,81.66 300.43,82.46 301.53,83.24 302.63,84.00 303.74,84.75 304.84,85.48 305.94,86.20 307.04,86.90 308.15,87.59 309.25,88.27 310.35,88.93 311.46,89.57 312.56,90.21 313.66,90.83 314.77,91.44 315.87,92.03 316.97,92.62 318.08,93.19 319.18,93.75 320.28,94.31 321.39,94.85 322.49,95.37 323.59,95.89 324.69,96.40 325.80,96.90 326.90,97.39 328.00,97.87 329.11,98.34 330.21,98.81 331.31,99.26 332.42,99.71 333.52,100.14 334.62,100.57 335.73,100.99 336.83,101.41 337.93,101.81 339.04,102.21 340.14,102.61 341.24,102.99 342.35,103.37 343.45,103.74 344.55,104.11 345.65,104.47 346.76,104.83 347.86,105.18 348.96,105.52 350.07,105.86 351.17,106.19 352.27,106.52 353.38,106.85 354.48,107.17 355.58,107.48 356.69,107.80 357.79,108.10 358.89,108.41 360.00,108.71 361.10,109.01 362.20,109.30 363.31,109.59 364.41,109.88 365.51,110.17 366.61,110.45 367.72,110.73 368.82,111.01 369.92,111.29 371.03,111.56 372.13,111.84 373.23,112.11 374.34,112.38 375.44,112.65 376.54,112.92 377.65,113.19 378.75,113.46 379.85,113.73 380.96,114.00 382.06,114.27 383.16,114.54 384.26,114.81 385.37,115.08 386.47,115.36 387.57,115.63 388.68,115.91 389.78,116.19 390.88,116.47 391.99,116.75 393.09,117.04 394.19,117.33 395.30,117.62 396.40,117.91 397.50,118.21 398.61,118.51 399.71,118.82 400.81,119.13 401.92,119.45 403.02,119.77 404.12,120.10 405.22,120.43 406.33,120.77 407.43,121.11 408.53,121.46 409.64,121.82 410.74,122.18 411.84,122.56 412.95,122.94 414.05,123.33 415.15,123.72 416.26,124.13 417.36,124.55 418.46,124.97 419.57,125.41 420.67,125.85 421.77,126.31 422.87,126.78 423.98,127.26 425.08,127.76 426.18,128.26 427.29,128.78 428.39,129.31 429.49,129.86 430.60,130.42 431.70,131.00" fill="none" stroke="#1e1ee6" stroke-width="1.0" stroke-linejoin="round"/>
</g>
<path d="M256.3,1.2 H431.7 V131.0" fill="none" stroke="#8c8c8c" stroke-width="1.2"/>
<line x1="256.3" y1="1.2" x2="256.3" y2="131.0" stroke="#808080" stroke-width="1.2"/>
<line x1="255.70000000000002" y1="131.0" x2="432.3" y2="131.0" stroke="#5a5a5a" stroke-width="1.2"/>
<line x1="254.5" y1="131.00" x2="256.3" y2="131.00" stroke="#808080" stroke-width="0.9"/>
<line x1="254.5" y1="113.69" x2="256.3" y2="113.69" stroke="#808080" stroke-width="0.9"/>
<line x1="254.5" y1="96.39" x2="256.3" y2="96.39" stroke="#808080" stroke-width="0.9"/>
<line x1="254.5" y1="79.08" x2="256.3" y2="79.08" stroke="#808080" stroke-width="0.9"/>
<line x1="254.5" y1="61.77" x2="256.3" y2="61.77" stroke="#808080" stroke-width="0.9"/>
<line x1="254.5" y1="44.47" x2="256.3" y2="44.47" stroke="#808080" stroke-width="0.9"/>
<line x1="254.5" y1="27.16" x2="256.3" y2="27.16" stroke="#808080" stroke-width="0.9"/>
<line x1="254.5" y1="9.85" x2="256.3" y2="9.85" stroke="#808080" stroke-width="0.9"/>
<line x1="256.30" y1="131.0" x2="256.30" y2="132.8" stroke="#5a5a5a" stroke-width="0.9"/>
<line x1="291.38" y1="131.0" x2="291.38" y2="132.8" stroke="#5a5a5a" stroke-width="0.9"/>
<line x1="326.46" y1="131.0" x2="326.46" y2="132.8" stroke="#5a5a5a" stroke-width="0.9"/>
<line x1="361.54" y1="131.0" x2="361.54" y2="132.8" stroke="#5a5a5a" stroke-width="0.9"/>
<line x1="396.62" y1="131.0" x2="396.62" y2="132.8" stroke="#5a5a5a" stroke-width="0.9"/>
<line x1="431.70" y1="131.0" x2="431.70" y2="132.8" stroke="#5a5a5a" stroke-width="0.9"/>
<clipPath id="clc"><rect x="476.1" y="1.9" width="174.5" height="130.1"/></clipPath>
<g clip-path="url(#clc)">
<path d="M476.10,98.52 477.20,98.52 478.29,98.52 479.39,98.52 480.49,98.53 481.59,98.53 482.68,98.54 483.78,98.54 484.88,98.55 485.98,98.56 487.07,98.58 488.17,98.59 489.27,98.61 490.37,98.63 491.46,98.66 492.56,98.69 493.66,98.72 494.76,98.76 495.85,98.79 496.95,98.84 498.05,98.88 499.15,98.93 500.24,98.99 501.34,99.05 502.44,99.11 503.54,99.18 504.63,99.25 505.73,99.33 506.83,99.41 507.93,99.50 509.02,99.59 510.12,99.69 511.22,99.79 512.32,99.90 513.41,100.02 514.51,100.13 515.61,100.26 516.71,100.39 517.80,100.52 518.90,100.66 520.00,100.81 521.10,100.96 522.19,101.12 523.29,101.28 524.39,101.45 525.49,101.63 526.58,101.81 527.68,101.99 528.78,102.18 529.88,102.38 530.97,102.58 532.07,102.79 533.17,103.01 534.27,103.22 535.36,103.45 536.46,103.68 537.56,103.91 538.66,104.15 539.75,104.40 540.85,104.65 541.95,104.91 543.05,105.17 544.14,105.43 545.24,105.70 546.34,105.98 547.44,106.26 548.53,106.54 549.63,106.83 550.73,107.12 551.83,107.41 552.92,107.71 554.02,108.01 555.12,108.32 556.22,108.63 557.31,108.94 558.41,109.26 559.51,109.57 560.61,109.89 561.70,110.22 562.80,110.54 563.90,110.87 565.00,111.20 566.09,111.53 567.19,111.86 568.29,112.20 569.39,112.53 570.48,112.87 571.58,113.20 572.68,113.54 573.78,113.88 574.87,114.22 575.97,114.55 577.07,114.89 578.17,115.23 579.26,115.57 580.36,115.90 581.46,116.24 582.56,116.57 583.65,116.91 584.75,117.24 585.85,117.57 586.95,117.90 588.04,118.22 589.14,118.55 590.24,118.87 591.34,119.19 592.43,119.51 593.53,119.83 594.63,120.14 595.73,120.45 596.82,120.76 597.92,121.06 599.02,121.36 600.12,121.66 601.21,121.96 602.31,122.25 603.41,122.54 604.51,122.82 605.60,123.11 606.70,123.39 607.80,123.66 608.90,123.93 609.99,124.20 611.09,124.47 612.19,124.73 613.29,124.99 614.38,125.24 615.48,125.49 616.58,125.74 617.68,125.98 618.77,126.22 619.87,126.46 620.97,126.69 622.07,126.92 623.16,127.15 624.26,127.38 625.36,127.60 626.46,127.82 627.55,128.03 628.65,128.25 629.75,128.46 630.85,128.66 631.94,128.87 633.04,129.07 634.14,129.27 635.24,129.47 636.33,129.66 637.43,129.85 638.53,130.04 639.63,130.23 640.72,130.42 641.82,130.60 642.92,130.78 644.02,130.96 645.11,131.14 646.21,131.32 647.31,131.49 648.41,131.66 649.50,131.83 650.60,132.00" fill="none" stroke="#ff1a1a" stroke-width="1.2" stroke-dasharray="2.6,1.4" stroke-linejoin="round"/>
<path d="M476.10,102.42 477.20,102.42 478.29,102.43 479.39,102.43 480.49,102.43 481.59,102.44 482.68,102.45 483.78,102.46 484.88,102.48 485.98,102.49 487.07,102.51 488.17,102.54 489.27,102.56 490.37,102.59 491.46,102.63 492.56,102.66 493.66,102.70 494.76,102.75 495.85,102.79 496.95,102.85 498.05,102.90 499.15,102.96 500.24,103.02 501.34,103.09 502.44,103.16 503.54,103.24 504.63,103.32 505.73,103.40 506.83,103.49 507.93,103.58 509.02,103.68 510.12,103.78 511.22,103.89 512.32,104.00 513.41,104.11 514.51,104.23 515.61,104.35 516.71,104.48 517.80,104.61 518.90,104.75 520.00,104.89 521.10,105.03 522.19,105.18 523.29,105.34 524.39,105.49 525.49,105.66 526.58,105.82 527.68,105.99 528.78,106.17 529.88,106.34 530.97,106.53 532.07,106.71 533.17,106.90 534.27,107.09 535.36,107.29 536.46,107.49 537.56,107.70 538.66,107.90 539.75,108.12 540.85,108.33 541.95,108.55 543.05,108.77 544.14,108.99 545.24,109.22 546.34,109.45 547.44,109.68 548.53,109.92 549.63,110.16 550.73,110.40 551.83,110.64 552.92,110.88 554.02,111.13 555.12,111.38 556.22,111.63 557.31,111.88 558.41,112.14 559.51,112.39 560.61,112.65 561.70,112.91 562.80,113.17 563.90,113.43 565.00,113.69 566.09,113.95 567.19,114.22 568.29,114.48 569.39,114.74 570.48,115.01 571.58,115.27 572.68,115.54 573.78,115.80 574.87,116.07 575.97,116.34 577.07,116.60 578.17,116.86 579.26,117.13 580.36,117.39 581.46,117.66 582.56,117.92 583.65,118.18 584.75,118.44 585.85,118.70 586.95,118.96 588.04,119.21 589.14,119.47 590.24,119.72 591.34,119.98 592.43,120.23 593.53,120.48 594.63,120.73 595.73,120.97 596.82,121.22 597.92,121.46 599.02,121.70 600.12,121.94 601.21,122.18 602.31,122.42 603.41,122.65 604.51,122.88 605.60,123.11 606.70,123.34 607.80,123.57 608.90,123.80 609.99,124.02 611.09,124.24 612.19,124.46 613.29,124.68 614.38,124.90 615.48,125.12 616.58,125.33 617.68,125.54 618.77,125.76 619.87,125.97 620.97,126.18 622.07,126.39 623.16,126.60 624.26,126.80 625.36,127.01 626.46,127.22 627.55,127.43 628.65,127.63 629.75,127.84 630.85,128.05 631.94,128.25 633.04,128.46 634.14,128.67 635.24,128.88 636.33,129.09 637.43,129.30 638.53,129.52 639.63,129.73 640.72,129.95 641.82,130.17 642.92,130.39 644.02,130.61 645.11,130.83 646.21,131.06 647.31,131.29 648.41,131.52 649.50,131.76 650.60,132.00" fill="none" stroke="#c8c832" stroke-width="1.2" stroke-dasharray="2.6,1.4" stroke-linejoin="round"/>
<path d="M476.10,105.98 477.20,105.98 478.29,105.98 479.39,105.99 480.49,106.00 481.59,106.01 482.68,106.03 483.78,106.05 484.88,106.07 485.98,106.10 487.07,106.13 488.17,106.16 489.27,106.20 490.37,106.24 491.46,106.28 492.56,106.33 493.66,106.38 494.76,106.43 495.85,106.49 496.95,106.55 498.05,106.62 499.15,106.68 500.24,106.76 501.34,106.83 502.44,106.91 503.54,107.00 504.63,107.08 505.73,107.17 506.83,107.27 507.93,107.36 509.02,107.46 510.12,107.57 511.22,107.68 512.32,107.79 513.41,107.90 514.51,108.02 515.61,108.14 516.71,108.26 517.80,108.39 518.90,108.52 520.00,108.65 521.10,108.79 522.19,108.93 523.29,109.07 524.39,109.22 525.49,109.36 526.58,109.52 527.68,109.67 528.78,109.83 529.88,109.98 530.97,110.15 532.07,110.31 533.17,110.48 534.27,110.64 535.36,110.82 536.46,110.99 537.56,111.16 538.66,111.34 539.75,111.52 540.85,111.70 541.95,111.88 543.05,112.07 544.14,112.26 545.24,112.44 546.34,112.63 547.44,112.82 548.53,113.02 549.63,113.21 550.73,113.41 551.83,113.60 552.92,113.80 554.02,114.00 555.12,114.20 556.22,114.40 557.31,114.60 558.41,114.80 559.51,115.01 560.61,115.21 561.70,115.41 562.80,115.62 563.90,115.82 565.00,116.03 566.09,116.23 567.19,116.44 568.29,116.64 569.39,116.85 570.48,117.06 571.58,117.26 572.68,117.47 573.78,117.67 574.87,117.88 575.97,118.08 577.07,118.29 578.17,118.49 579.26,118.69 580.36,118.90 581.46,119.10 582.56,119.30 583.65,119.50 584.75,119.70 585.85,119.90 586.95,120.10 588.04,120.30 589.14,120.49 590.24,120.69 591.34,120.89 592.43,121.08 593.53,121.27 594.63,121.47 595.73,121.66 596.82,121.85 597.92,122.04 599.02,122.23 600.12,122.41 601.21,122.60 602.31,122.79 603.41,122.97 604.51,123.15 605.60,123.34 606.70,123.52 607.80,123.70 608.90,123.88 609.99,124.07 611.09,124.25 612.19,124.43 613.29,124.61 614.38,124.79 615.48,124.97 616.58,125.15 617.68,125.33 618.77,125.51 619.87,125.69 620.97,125.87 622.07,126.05 623.16,126.24 624.26,126.42 625.36,126.61 626.46,126.80 627.55,126.99 628.65,127.18 629.75,127.38 630.85,127.57 631.94,127.77 633.04,127.98 634.14,128.19 635.24,128.40 636.33,128.62 637.43,128.84 638.53,129.06 639.63,129.29 640.72,129.53 641.82,129.78 642.92,130.03 644.02,130.28 645.11,130.55 646.21,130.82 647.31,131.10 648.41,131.39 649.50,131.69 650.60,132.00" fill="none" stroke="#c83cc8" stroke-width="1.2" stroke-dasharray="2.6,1.4" stroke-linejoin="round"/>
<path d="M476.10,108.58 477.20,108.58 478.29,108.59 479.39,108.60 480.49,108.62 481.59,108.64 482.68,108.66 483.78,108.68 484.88,108.71 485.98,108.75 487.07,108.79 488.17,108.83 489.27,108.87 490.37,108.92 491.46,108.97 492.56,109.03 493.66,109.08 494.76,109.15 495.85,109.21 496.95,109.28 498.05,109.35 499.15,109.43 500.24,109.50 501.34,109.59 502.44,109.67 503.54,109.76 504.63,109.85 505.73,109.94 506.83,110.04 507.93,110.14 509.02,110.24 510.12,110.34 511.22,110.45 512.32,110.56 513.41,110.67 514.51,110.79 515.61,110.90 516.71,111.02 517.80,111.15 518.90,111.27 520.00,111.40 521.10,111.53 522.19,111.66 523.29,111.79 524.39,111.92 525.49,112.06 526.58,112.20 527.68,112.34 528.78,112.48 529.88,112.63 530.97,112.77 532.07,112.92 533.17,113.07 534.27,113.22 535.36,113.38 536.46,113.53 537.56,113.68 538.66,113.84 539.75,114.00 540.85,114.16 541.95,114.32 543.05,114.48 544.14,114.64 545.24,114.80 546.34,114.97 547.44,115.13 548.53,115.30 549.63,115.46 550.73,115.63 551.83,115.80 552.92,115.96 554.02,116.13 555.12,116.30 556.22,116.47 557.31,116.64 558.41,116.81 559.51,116.98 560.61,117.15 561.70,117.32 562.80,117.49 563.90,117.66 565.00,117.83 566.09,118.00 567.19,118.17 568.29,118.34 569.39,118.51 570.48,118.68 571.58,118.85 572.68,119.02 573.78,119.19 574.87,119.36 575.97,119.52 577.07,119.69 578.17,119.86 579.26,120.03 580.36,120.19 581.46,120.36 582.56,120.52 583.65,120.69 584.75,120.85 585.85,121.01 586.95,121.17 588.04,121.33 589.14,121.50 590.24,121.66 591.34,121.81 592.43,121.97 593.53,122.13 594.63,122.29 595.73,122.45 596.82,122.60 597.92,122.76 599.02,122.91 600.12,123.07 601.21,123.22 602.31,123.37 603.41,123.52 604.51,123.68 605.60,123.83 606.70,123.98 607.80,124.13 608.90,124.28 609.99,124.43 611.09,124.59 612.19,124.74 613.29,124.89 614.38,125.04 615.48,125.19 616.58,125.35 617.68,125.50 618.77,125.66 619.87,125.82 620.97,125.97 622.07,126.13 623.16,126.30 624.26,126.46 625.36,126.63 626.46,126.80 627.55,126.97 628.65,127.14 629.75,127.32 630.85,127.51 631.94,127.69 633.04,127.89 634.14,128.08 635.24,128.29 636.33,128.49 637.43,128.71 638.53,128.93 639.63,129.16 640.72,129.40 641.82,129.65 642.92,129.90 644.02,130.17 645.11,130.44 646.21,130.73 647.31,131.03 648.41,131.34 649.50,131.66 650.60,132.00" fill="none" stroke="#32c8c8" stroke-width="1.2" stroke-dasharray="2.6,1.4" stroke-linejoin="round"/>
<path d="M476.10,111.27 477.20,111.28 478.29,111.29 479.39,111.30 480.49,111.33 481.59,111.35 482.68,111.38 483.78,111.42 484.88,111.46 485.98,111.50 487.07,111.55 488.17,111.60 489.27,111.65 490.37,111.71 491.46,111.77 492.56,111.83 493.66,111.90 494.76,111.97 495.85,112.04 496.95,112.11 498.05,112.19 499.15,112.27 500.24,112.35 501.34,112.44 502.44,112.53 503.54,112.62 504.63,112.71 505.73,112.81 506.83,112.90 507.93,113.00 509.02,113.10 510.12,113.21 511.22,113.31 512.32,113.42 513.41,113.53 514.51,113.64 515.61,113.75 516.71,113.87 517.80,113.98 518.90,114.10 520.00,114.22 521.10,114.34 522.19,114.46 523.29,114.58 524.39,114.71 525.49,114.83 526.58,114.96 527.68,115.09 528.78,115.22 529.88,115.35 530.97,115.48 532.07,115.61 533.17,115.74 534.27,115.88 535.36,116.01 536.46,116.15 537.56,116.28 538.66,116.42 539.75,116.56 540.85,116.69 541.95,116.83 543.05,116.97 544.14,117.11 545.24,117.25 546.34,117.39 547.44,117.53 548.53,117.67 549.63,117.81 550.73,117.95 551.83,118.09 552.92,118.24 554.02,118.38 555.12,118.52 556.22,118.66 557.31,118.80 558.41,118.94 559.51,119.08 560.61,119.23 561.70,119.37 562.80,119.51 563.90,119.65 565.00,119.79 566.09,119.93 567.19,120.07 568.29,120.21 569.39,120.35 570.48,120.48 571.58,120.62 572.68,120.76 573.78,120.90 574.87,121.03 575.97,121.17 577.07,121.31 578.17,121.44 579.26,121.58 580.36,121.71 581.46,121.84 582.56,121.98 583.65,122.11 584.75,122.24 585.85,122.37 586.95,122.50 588.04,122.63 589.14,122.76 590.24,122.89 591.34,123.02 592.43,123.14 593.53,123.27 594.63,123.40 595.73,123.52 596.82,123.65 597.92,123.77 599.02,123.90 600.12,124.02 601.21,124.15 602.31,124.27 603.41,124.39 604.51,124.52 605.60,124.64 606.70,124.76 607.80,124.89 608.90,125.01 609.99,125.13 611.09,125.26 612.19,125.38 613.29,125.50 614.38,125.63 615.48,125.76 616.58,125.88 617.68,126.01 618.77,126.14 619.87,126.27 620.97,126.41 622.07,126.54 623.16,126.68 624.26,126.82 625.36,126.96 626.46,127.11 627.55,127.26 628.65,127.41 629.75,127.57 630.85,127.73 631.94,127.90 633.04,128.07 634.14,128.25 635.24,128.43 636.33,128.62 637.43,128.82 638.53,129.02 639.63,129.24 640.72,129.46 641.82,129.69 642.92,129.94 644.02,130.19 645.11,130.46 646.21,130.74 647.31,131.03 648.41,131.34 649.50,131.66 650.60,132.00" fill="none" stroke="#1e961e" stroke-width="1.2" stroke-dasharray="2.6,1.4" stroke-linejoin="round"/>
<path d="M476.10,113.44 477.20,113.45 478.29,113.46 479.39,113.49 480.49,113.52 481.59,113.55 482.68,113.59 483.78,113.63 484.88,113.68 485.98,113.73 487.07,113.78 488.17,113.83 489.27,113.89 490.37,113.96 491.46,114.02 492.56,114.09 493.66,114.16 494.76,114.24 495.85,114.31 496.95,114.39 498.05,114.47 499.15,114.55 500.24,114.64 501.34,114.73 502.44,114.81 503.54,114.91 504.63,115.00 505.73,115.09 506.83,115.19 507.93,115.29 509.02,115.39 510.12,115.49 511.22,115.59 512.32,115.69 513.41,115.80 514.51,115.90 515.61,116.01 516.71,116.12 517.80,116.23 518.90,116.34 520.00,116.45 521.10,116.57 522.19,116.68 523.29,116.79 524.39,116.91 525.49,117.03 526.58,117.14 527.68,117.26 528.78,117.38 529.88,117.50 530.97,117.62 532.07,117.74 533.17,117.86 534.27,117.98 535.36,118.10 536.46,118.22 537.56,118.34 538.66,118.46 539.75,118.59 540.85,118.71 541.95,118.83 543.05,118.96 544.14,119.08 545.24,119.20 546.34,119.32 547.44,119.45 548.53,119.57 549.63,119.69 550.73,119.82 551.83,119.94 552.92,120.06 554.02,120.19 555.12,120.31 556.22,120.43 557.31,120.55 558.41,120.68 559.51,120.80 560.61,120.92 561.70,121.04 562.80,121.16 563.90,121.28 565.00,121.40 566.09,121.52 567.19,121.64 568.29,121.76 569.39,121.88 570.48,121.99 571.58,122.11 572.68,122.23 573.78,122.34 574.87,122.46 575.97,122.57 577.07,122.69 578.17,122.80 579.26,122.92 580.36,123.03 581.46,123.14 582.56,123.25 583.65,123.36 584.75,123.47 585.85,123.58 586.95,123.69 588.04,123.80 589.14,123.91 590.24,124.02 591.34,124.13 592.43,124.23 593.53,124.34 594.63,124.44 595.73,124.55 596.82,124.65 597.92,124.76 599.02,124.86 600.12,124.97 601.21,125.07 602.31,125.17 603.41,125.28 604.51,125.38 605.60,125.48 606.70,125.58 607.80,125.69 608.90,125.79 609.99,125.89 611.09,126.00 612.19,126.10 613.29,126.21 614.38,126.31 615.48,126.42 616.58,126.53 617.68,126.64 618.77,126.75 619.87,126.86 620.97,126.97 622.07,127.09 623.16,127.20 624.26,127.32 625.36,127.45 626.46,127.57 627.55,127.70 628.65,127.84 629.75,127.97 630.85,128.12 631.94,128.26 633.04,128.41 634.14,128.57 635.24,128.73 636.33,128.90 637.43,129.08 638.53,129.26 639.63,129.46 640.72,129.66 641.82,129.87 642.92,130.09 644.02,130.33 645.11,130.57 646.21,130.83 647.31,131.10 648.41,131.38 649.50,131.68 650.60,132.00" fill="none" stroke="#1e1ee6" stroke-width="1.2" stroke-dasharray="2.6,1.4" stroke-linejoin="round"/>
<path d="M476.10,110.40 477.20,110.42 478.29,110.46 479.39,110.51 480.49,110.57 481.59,110.63 482.68,110.70 483.78,110.78 484.88,110.86 485.98,110.95 487.07,111.04 488.17,111.14 489.27,111.24 490.37,111.35 491.46,111.45 492.56,111.57 493.66,111.68 494.76,111.80 495.85,111.92 496.95,112.04 498.05,112.17 499.15,112.30 500.24,112.43 501.34,112.56 502.44,112.69 503.54,112.83 504.63,112.97 505.73,113.11 506.83,113.25 507.93,113.39 509.02,113.53 510.12,113.68 511.22,113.82 512.32,113.97 513.41,114.12 514.51,114.27 515.61,114.42 516.71,114.57 517.80,114.72 518.90,114.88 520.00,115.03 521.10,115.18 522.19,115.34 523.29,115.49 524.39,115.65 525.49,115.80 526.58,115.96 527.68,116.11 528.78,116.27 529.88,116.42 530.97,116.58 532.07,116.74 533.17,116.89 534.27,117.05 535.36,117.20 536.46,117.36 537.56,117.51 538.66,117.67 539.75,117.82 540.85,117.98 541.95,118.13 543.05,118.29 544.14,118.44 545.24,118.59 546.34,118.75 547.44,118.90 548.53,119.05 549.63,119.20 550.73,119.35 551.83,119.50 552.92,119.65 554.02,119.80 555.12,119.95 556.22,120.10 557.31,120.24 558.41,120.39 559.51,120.54 560.61,120.68 561.70,120.83 562.80,120.97 563.90,121.11 565.00,121.26 566.09,121.40 567.19,121.54 568.29,121.68 569.39,121.82 570.48,121.96 571.58,122.10 572.68,122.24 573.78,122.38 574.87,122.51 575.97,122.65 577.07,122.78 578.17,122.92 579.26,123.05 580.36,123.19 581.46,123.32 582.56,123.45 583.65,123.59 584.75,123.72 585.85,123.85 586.95,123.98 588.04,124.11 589.14,124.24 590.24,124.37 591.34,124.50 592.43,124.63 593.53,124.76 594.63,124.89 595.73,125.02 596.82,125.15 597.92,125.28 599.02,125.40 600.12,125.53 601.21,125.66 602.31,125.79 603.41,125.92 604.51,126.05 605.60,126.17 606.70,126.30 607.80,126.43 608.90,126.56 609.99,126.69 611.09,126.82 612.19,126.95 613.29,127.08 614.38,127.21 615.48,127.34 616.58,127.47 617.68,127.60 618.77,127.74 619.87,127.87 620.97,128.00 622.07,128.14 623.16,128.27 624.26,128.41 625.36,128.54 626.46,128.68 627.55,128.82 628.65,128.96 629.75,129.10 630.85,129.24 631.94,129.38 633.04,129.53 634.14,129.67 635.24,129.82 636.33,129.97 637.43,130.11 638.53,130.26 639.63,130.41 640.72,130.57 641.82,130.72 642.92,130.87 644.02,131.03 645.11,131.19 646.21,131.35 647.31,131.51 648.41,131.67 649.50,131.83 650.60,132.00" fill="none" stroke="#ff1a1a" stroke-width="1.2" stroke-linejoin="round"/>
<path d="M476.10,17.69 477.20,17.69 478.29,17.69 479.39,17.69 480.49,17.69 481.59,17.69 482.68,17.69 483.78,17.69 484.88,17.70 485.98,17.71 487.07,17.74 488.17,17.81 489.27,17.94 490.37,18.22 491.46,18.72 492.56,19.52 493.66,20.63 494.76,21.98 495.85,23.45 496.95,24.99 498.05,26.55 499.15,28.10 500.24,29.63 501.34,31.15 502.44,32.65 503.54,34.12 504.63,35.58 505.73,37.01 506.83,38.42 507.93,39.81 509.02,41.18 510.12,42.53 511.22,43.86 512.32,45.17 513.41,46.46 514.51,47.73 515.61,48.98 516.71,50.22 517.80,51.43 518.90,52.63 520.00,53.81 521.10,54.97 522.19,56.11 523.29,57.24 524.39,58.35 525.49,59.45 526.58,60.53 527.68,61.59 528.78,62.64 529.88,63.67 530.97,64.68 532.07,65.68 533.17,66.67 534.27,67.64 535.36,68.60 536.46,69.54 537.56,70.47 538.66,71.39 539.75,72.29 540.85,73.18 541.95,74.06 543.05,74.92 544.14,75.77 545.24,76.61 546.34,77.44 547.44,78.26 548.53,79.06 549.63,79.86 550.73,80.64 551.83,81.41 552.92,82.17 554.02,82.92 555.12,83.66 556.22,84.39 557.31,85.11 558.41,85.82 559.51,86.52 560.61,87.21 561.70,87.89 562.80,88.56 563.90,89.23 565.00,89.88 566.09,90.53 567.19,91.17 568.29,91.80 569.39,92.43 570.48,93.05 571.58,93.66 572.68,94.26 573.78,94.86 574.87,95.45 575.97,96.03 577.07,96.61 578.17,97.18 579.26,97.75 580.36,98.31 581.46,98.86 582.56,99.41 583.65,99.96 584.75,100.50 585.85,101.03 586.95,101.57 588.04,102.09 589.14,102.62 590.24,103.14 591.34,103.66 592.43,104.17 593.53,104.68 594.63,105.19 595.73,105.70 596.82,106.20 597.92,106.70 599.02,107.20 600.12,107.70 601.21,108.19 602.31,108.69 603.41,109.18 604.51,109.67 605.60,110.16 606.70,110.66 607.80,111.15 608.90,111.64 609.99,112.13 611.09,112.62 612.19,113.11 613.29,113.60 614.38,114.09 615.48,114.59 616.58,115.08 617.68,115.58 618.77,116.08 619.87,116.58 620.97,117.08 622.07,117.58 623.16,118.09 624.26,118.60 625.36,119.11 626.46,119.62 627.55,120.14 628.65,120.66 629.75,121.18 630.85,121.71 631.94,122.24 633.04,122.78 634.14,123.32 635.24,123.86 636.33,124.41 637.43,124.96 638.53,125.52 639.63,126.08 640.72,126.65 641.82,127.22 642.92,127.80 644.02,128.38 645.11,128.97 646.21,129.56 647.31,130.16 648.41,130.77 649.50,131.38 650.60,132.00" fill="none" stroke="#ff1a1a" stroke-width="1.0" stroke-linejoin="round"/>
<path d="M476.10,32.78 477.20,32.78 478.29,32.78 479.39,32.78 480.49,32.78 481.59,32.78 482.68,32.78 483.78,32.78 484.88,32.79 485.98,32.80 487.07,32.83 488.17,32.88 489.27,33.01 490.37,33.25 491.46,33.69 492.56,34.40 493.66,35.38 494.76,36.56 495.85,37.87 496.95,39.22 498.05,40.59 499.15,41.96 500.24,43.31 501.34,44.65 502.44,45.97 503.54,47.27 504.63,48.55 505.73,49.81 506.83,51.05 507.93,52.27 509.02,53.48 510.12,54.66 511.22,55.83 512.32,56.98 513.41,58.11 514.51,59.23 515.61,60.33 516.71,61.41 517.80,62.48 518.90,63.53 520.00,64.56 521.10,65.58 522.19,66.58 523.29,67.57 524.39,68.55 525.49,69.51 526.58,70.45 527.68,71.38 528.78,72.30 529.88,73.20 530.97,74.09 532.07,74.96 533.17,75.83 534.27,76.68 535.36,77.51 536.46,78.34 537.56,79.15 538.66,79.95 539.75,80.74 540.85,81.51 541.95,82.28 543.05,83.03 544.14,83.78 545.24,84.51 546.34,85.23 547.44,85.94 548.53,86.64 549.63,87.33 550.73,88.01 551.83,88.68 552.92,89.34 554.02,90.00 555.12,90.64 556.22,91.27 557.31,91.90 558.41,92.52 559.51,93.13 560.61,93.73 561.70,94.32 562.80,94.90 563.90,95.48 565.00,96.05 566.09,96.61 567.19,97.17 568.29,97.71 569.39,98.26 570.48,98.79 571.58,99.32 572.68,99.84 573.78,100.36 574.87,100.87 575.97,101.37 577.07,101.87 578.17,102.37 579.26,102.86 580.36,103.34 581.46,103.82 582.56,104.29 583.65,104.76 584.75,105.23 585.85,105.69 586.95,106.15 588.04,106.61 589.14,107.06 590.24,107.51 591.34,107.95 592.43,108.39 593.53,108.83 594.63,109.27 595.73,109.70 596.82,110.14 597.92,110.57 599.02,110.99 600.12,111.42 601.21,111.85 602.31,112.27 603.41,112.69 604.51,113.11 605.60,113.53 606.70,113.95 607.80,114.37 608.90,114.79 609.99,115.21 611.09,115.63 612.19,116.05 613.29,116.47 614.38,116.89 615.48,117.31 616.58,117.73 617.68,118.15 618.77,118.57 619.87,119.00 620.97,119.43 622.07,119.85 623.16,120.28 624.26,120.71 625.36,121.15 626.46,121.58 627.55,122.02 628.65,122.46 629.75,122.90 630.85,123.35 631.94,123.80 633.04,124.25 634.14,124.70 635.24,125.16 636.33,125.62 637.43,126.09 638.53,126.56 639.63,127.03 640.72,127.51 641.82,127.99 642.92,128.47 644.02,128.96 645.11,129.46 646.21,129.96 647.31,130.46 648.41,130.97 649.50,131.48 650.60,132.00" fill="none" stroke="#c8c832" stroke-width="1.0" stroke-linejoin="round"/>
<path d="M476.10,36.07 477.20,36.07 478.29,36.07 479.39,36.07 480.49,36.07 481.59,36.07 482.68,36.08 483.78,36.08 484.88,36.08 485.98,36.10 487.07,36.12 488.17,36.18 489.27,36.29 490.37,36.53 491.46,36.95 492.56,37.64 493.66,38.59 494.76,39.73 495.85,40.99 496.95,42.30 498.05,43.63 499.15,44.95 500.24,46.26 501.34,47.55 502.44,48.83 503.54,50.08 504.63,51.32 505.73,52.54 506.83,53.74 507.93,54.92 509.02,56.08 510.12,57.23 511.22,58.36 512.32,59.47 513.41,60.57 514.51,61.65 515.61,62.71 516.71,63.76 517.80,64.79 518.90,65.80 520.00,66.80 521.10,67.79 522.19,68.76 523.29,69.71 524.39,70.65 525.49,71.58 526.58,72.49 527.68,73.39 528.78,74.28 529.88,75.15 530.97,76.01 532.07,76.86 533.17,77.69 534.27,78.51 535.36,79.32 536.46,80.12 537.56,80.90 538.66,81.68 539.75,82.44 540.85,83.19 541.95,83.93 543.05,84.66 544.14,85.38 545.24,86.09 546.34,86.78 547.44,87.47 548.53,88.15 549.63,88.82 550.73,89.47 551.83,90.12 552.92,90.76 554.02,91.39 555.12,92.01 556.22,92.63 557.31,93.23 558.41,93.83 559.51,94.42 560.61,95.00 561.70,95.57 562.80,96.13 563.90,96.69 565.00,97.24 566.09,97.79 567.19,98.32 568.29,98.85 569.39,99.38 570.48,99.89 571.58,100.40 572.68,100.91 573.78,101.41 574.87,101.90 575.97,102.39 577.07,102.87 578.17,103.35 579.26,103.82 580.36,104.29 581.46,104.76 582.56,105.21 583.65,105.67 584.75,106.12 585.85,106.57 586.95,107.01 588.04,107.45 589.14,107.89 590.24,108.32 591.34,108.75 592.43,109.18 593.53,109.60 594.63,110.02 595.73,110.44 596.82,110.86 597.92,111.28 599.02,111.69 600.12,112.10 601.21,112.52 602.31,112.93 603.41,113.33 604.51,113.74 605.60,114.15 606.70,114.55 607.80,114.96 608.90,115.36 609.99,115.77 611.09,116.17 612.19,116.58 613.29,116.98 614.38,117.39 615.48,117.80 616.58,118.20 617.68,118.61 618.77,119.02 619.87,119.43 620.97,119.84 622.07,120.26 623.16,120.67 624.26,121.09 625.36,121.51 626.46,121.93 627.55,122.35 628.65,122.78 629.75,123.21 630.85,123.64 631.94,124.07 633.04,124.51 634.14,124.95 635.24,125.39 636.33,125.84 637.43,126.29 638.53,126.74 639.63,127.20 640.72,127.66 641.82,128.12 642.92,128.59 644.02,129.07 645.11,129.54 646.21,130.02 647.31,130.51 648.41,131.00 649.50,131.50 650.60,132.00" fill="none" stroke="#c83cc8" stroke-width="1.0" stroke-linejoin="round"/>
<path d="M476.10,40.41 477.20,40.41 478.29,40.41 479.39,40.41 480.49,40.41 481.59,40.41 482.68,40.41 483.78,40.41 484.88,40.42 485.98,40.43 487.07,40.46 488.17,40.51 489.27,40.62 490.37,40.84 491.46,41.25 492.56,41.90 493.66,42.81 494.76,43.90 495.85,45.11 496.95,46.36 498.05,47.62 499.15,48.89 500.24,50.14 501.34,51.37 502.44,52.59 503.54,53.79 504.63,54.97 505.73,56.13 506.83,57.28 507.93,58.40 509.02,59.52 510.12,60.61 511.22,61.69 512.32,62.75 513.41,63.80 514.51,64.83 515.61,65.84 516.71,66.84 517.80,67.83 518.90,68.80 520.00,69.75 521.10,70.69 522.19,71.62 523.29,72.53 524.39,73.43 525.49,74.31 526.58,75.18 527.68,76.04 528.78,76.89 529.88,77.72 530.97,78.54 532.07,79.35 533.17,80.15 534.27,80.93 535.36,81.70 536.46,82.46 537.56,83.21 538.66,83.95 539.75,84.68 540.85,85.40 541.95,86.10 543.05,86.80 544.14,87.49 545.24,88.16 546.34,88.83 547.44,89.48 548.53,90.13 549.63,90.77 550.73,91.40 551.83,92.02 552.92,92.63 554.02,93.23 555.12,93.82 556.22,94.41 557.31,94.98 558.41,95.55 559.51,96.12 560.61,96.67 561.70,97.22 562.80,97.76 563.90,98.29 565.00,98.81 566.09,99.33 567.19,99.85 568.29,100.35 569.39,100.85 570.48,101.34 571.58,101.83 572.68,102.31 573.78,102.79 574.87,103.26 575.97,103.73 577.07,104.19 578.17,104.65 579.26,105.10 580.36,105.54 581.46,105.99 582.56,106.43 583.65,106.86 584.75,107.29 585.85,107.72 586.95,108.14 588.04,108.56 589.14,108.98 590.24,109.39 591.34,109.80 592.43,110.21 593.53,110.62 594.63,111.02 595.73,111.42 596.82,111.82 597.92,112.22 599.02,112.61 600.12,113.00 601.21,113.40 602.31,113.79 603.41,114.18 604.51,114.57 605.60,114.95 606.70,115.34 607.80,115.73 608.90,116.12 609.99,116.50 611.09,116.89 612.19,117.28 613.29,117.66 614.38,118.05 615.48,118.44 616.58,118.83 617.68,119.22 618.77,119.61 619.87,120.00 620.97,120.39 622.07,120.79 623.16,121.18 624.26,121.58 625.36,121.98 626.46,122.38 627.55,122.79 628.65,123.19 629.75,123.60 630.85,124.01 631.94,124.43 633.04,124.85 634.14,125.27 635.24,125.69 636.33,126.11 637.43,126.54 638.53,126.98 639.63,127.41 640.72,127.85 641.82,128.30 642.92,128.75 644.02,129.20 645.11,129.65 646.21,130.11 647.31,130.58 648.41,131.05 649.50,131.52 650.60,132.00" fill="none" stroke="#1e961e" stroke-width="1.0" stroke-linejoin="round"/>
<path d="M476.10,41.88 477.20,41.88 478.29,41.88 479.39,41.88 480.49,41.88 481.59,41.88 482.68,41.89 483.78,41.89 484.88,41.89 485.98,41.90 487.07,41.93 488.17,41.98 489.27,42.09 490.37,42.31 491.46,42.71 492.56,43.35 493.66,44.25 494.76,45.32 495.85,46.51 496.95,47.74 498.05,48.98 499.15,50.22 500.24,51.45 501.34,52.67 502.44,53.86 503.54,55.04 504.63,56.21 505.73,57.35 506.83,58.48 507.93,59.59 509.02,60.68 510.12,61.76 511.22,62.82 512.32,63.87 513.41,64.90 514.51,65.91 515.61,66.91 516.71,67.89 517.80,68.86 518.90,69.81 520.00,70.75 521.10,71.68 522.19,72.59 523.29,73.49 524.39,74.37 525.49,75.24 526.58,76.10 527.68,76.94 528.78,77.78 529.88,78.60 530.97,79.40 532.07,80.20 533.17,80.98 534.27,81.75 535.36,82.51 536.46,83.26 537.56,84.00 538.66,84.73 539.75,85.44 540.85,86.15 541.95,86.84 543.05,87.53 544.14,88.20 545.24,88.87 546.34,89.52 547.44,90.17 548.53,90.80 549.63,91.43 550.73,92.05 551.83,92.66 552.92,93.26 554.02,93.85 555.12,94.44 556.22,95.01 557.31,95.58 558.41,96.14 559.51,96.69 560.61,97.24 561.70,97.78 562.80,98.31 563.90,98.83 565.00,99.35 566.09,99.86 567.19,100.36 568.29,100.86 569.39,101.35 570.48,101.84 571.58,102.32 572.68,102.79 573.78,103.26 574.87,103.73 575.97,104.18 577.07,104.64 578.17,105.09 579.26,105.53 580.36,105.97 581.46,106.41 582.56,106.84 583.65,107.26 584.75,107.69 585.85,108.11 586.95,108.52 588.04,108.94 589.14,109.35 590.24,109.75 591.34,110.16 592.43,110.56 593.53,110.96 594.63,111.36 595.73,111.75 596.82,112.14 597.92,112.53 599.02,112.92 600.12,113.31 601.21,113.70 602.31,114.08 603.41,114.46 604.51,114.85 605.60,115.23 606.70,115.61 607.80,115.99 608.90,116.37 609.99,116.75 611.09,117.13 612.19,117.51 613.29,117.89 614.38,118.27 615.48,118.66 616.58,119.04 617.68,119.42 618.77,119.81 619.87,120.19 620.97,120.58 622.07,120.97 623.16,121.36 624.26,121.75 625.36,122.14 626.46,122.54 627.55,122.94 628.65,123.34 629.75,123.74 630.85,124.14 631.94,124.55 633.04,124.96 634.14,125.37 635.24,125.79 636.33,126.21 637.43,126.63 638.53,127.06 639.63,127.49 640.72,127.92 641.82,128.36 642.92,128.80 644.02,129.24 645.11,129.69 646.21,130.14 647.31,130.60 648.41,131.06 649.50,131.53 650.60,132.00" fill="none" stroke="#32c8c8" stroke-width="1.0" stroke-linejoin="round"/>
<path d="M476.10,43.19 477.20,43.19 478.29,43.19 479.39,43.19 480.49,43.19 481.59,43.19 482.68,43.19 483.78,43.19 484.88,43.19 485.98,43.21 487.07,43.23 488.17,43.28 489.27,43.39 490.37,43.61 491.46,44.01 492.56,44.66 493.66,45.55 494.76,46.63 495.85,47.81 496.95,49.05 498.05,50.29 499.15,51.53 500.24,52.76 501.34,53.98 502.44,55.17 503.54,56.35 504.63,57.51 505.73,58.66 506.83,59.78 507.93,60.89 509.02,61.98 510.12,63.06 511.22,64.12 512.32,65.16 513.41,66.19 514.51,67.20 515.61,68.19 516.71,69.17 517.80,70.14 518.90,71.09 520.00,72.02 521.10,72.94 522.19,73.85 523.29,74.74 524.39,75.62 525.49,76.49 526.58,77.34 527.68,78.18 528.78,79.01 529.88,79.82 530.97,80.62 532.07,81.41 533.17,82.19 534.27,82.95 535.36,83.71 536.46,84.45 537.56,85.18 538.66,85.90 539.75,86.61 540.85,87.31 541.95,88.00 543.05,88.68 544.14,89.35 545.24,90.00 546.34,90.65 547.44,91.29 548.53,91.92 549.63,92.54 550.73,93.15 551.83,93.75 552.92,94.35 554.02,94.93 555.12,95.51 556.22,96.08 557.31,96.64 558.41,97.19 559.51,97.74 560.61,98.27 561.70,98.80 562.80,99.33 563.90,99.84 565.00,100.35 566.09,100.86 567.19,101.35 568.29,101.84 569.39,102.32 570.48,102.80 571.58,103.27 572.68,103.74 573.78,104.20 574.87,104.66 575.97,105.11 577.07,105.55 578.17,105.99 579.26,106.43 580.36,106.86 581.46,107.29 582.56,107.71 583.65,108.13 584.75,108.54 585.85,108.95 586.95,109.36 588.04,109.76 589.14,110.17 590.24,110.56 591.34,110.96 592.43,111.35 593.53,111.74 594.63,112.13 595.73,112.51 596.82,112.89 597.92,113.27 599.02,113.65 600.12,114.03 601.21,114.41 602.31,114.78 603.41,115.15 604.51,115.52 605.60,115.90 606.70,116.27 607.80,116.63 608.90,117.00 609.99,117.37 611.09,117.74 612.19,118.11 613.29,118.48 614.38,118.85 615.48,119.22 616.58,119.59 617.68,119.96 618.77,120.33 619.87,120.70 620.97,121.07 622.07,121.45 623.16,121.82 624.26,122.20 625.36,122.58 626.46,122.96 627.55,123.34 628.65,123.72 629.75,124.11 630.85,124.50 631.94,124.89 633.04,125.28 634.14,125.68 635.24,126.08 636.33,126.48 637.43,126.88 638.53,127.29 639.63,127.70 640.72,128.11 641.82,128.53 642.92,128.95 644.02,129.38 645.11,129.80 646.21,130.23 647.31,130.67 648.41,131.11 649.50,131.55 650.60,132.00" fill="none" stroke="#1e1ee6" stroke-width="1.0" stroke-linejoin="round"/>
</g>
<path d="M476.1,1.9 H650.6 V132.0" fill="none" stroke="#a0a0a0" stroke-width="1.2"/>
<line x1="476.1" y1="1.9" x2="476.1" y2="132.0" stroke="#a0a0a0" stroke-width="1.2"/>
<line x1="475.5" y1="132.0" x2="651.2" y2="132.0" stroke="#a0a0a0" stroke-width="1.2"/>
<line x1="474.3" y1="132.00" x2="476.1" y2="132.00" stroke="#a0a0a0" stroke-width="0.9"/>
<line x1="474.3" y1="114.65" x2="476.1" y2="114.65" stroke="#a0a0a0" stroke-width="0.9"/>
<line x1="474.3" y1="97.31" x2="476.1" y2="97.31" stroke="#a0a0a0" stroke-width="0.9"/>
<line x1="474.3" y1="79.96" x2="476.1" y2="79.96" stroke="#a0a0a0" stroke-width="0.9"/>
<line x1="474.3" y1="62.61" x2="476.1" y2="62.61" stroke="#a0a0a0" stroke-width="0.9"/>
<line x1="474.3" y1="45.27" x2="476.1" y2="45.27" stroke="#a0a0a0" stroke-width="0.9"/>
<line x1="474.3" y1="27.92" x2="476.1" y2="27.92" stroke="#a0a0a0" stroke-width="0.9"/>
<line x1="474.3" y1="10.57" x2="476.1" y2="10.57" stroke="#a0a0a0" stroke-width="0.9"/>
<line x1="476.10" y1="132.0" x2="476.10" y2="133.8" stroke="#a0a0a0" stroke-width="0.9"/>
<line x1="511.00" y1="132.0" x2="511.00" y2="133.8" stroke="#a0a0a0" stroke-width="0.9"/>
<line x1="545.90" y1="132.0" x2="545.90" y2="133.8" stroke="#a0a0a0" stroke-width="0.9"/>
<line x1="580.80" y1="132.0" x2="580.80" y2="133.8" stroke="#a0a0a0" stroke-width="0.9"/>
<line x1="615.70" y1="132.0" x2="615.70" y2="133.8" stroke="#a0a0a0" stroke-width="0.9"/>
<line x1="650.60" y1="132.0" x2="650.60" y2="133.8" stroke="#a0a0a0" stroke-width="0.9"/>
<clipPath id="cld"><rect x="40.7" y="172.5" width="174.3" height="129.8"/></clipPath>
<g clip-path="url(#cld)">
<path d="M40.70,219.48 41.24,219.40 41.77,219.32 42.31,219.24 42.85,219.16 43.39,219.08 43.92,218.99 44.46,218.91 45.00,218.82 45.53,218.73 46.07,218.64 46.61,218.55 47.15,218.46 47.68,218.37 48.22,218.28 48.76,218.18 49.29,218.09 49.83,217.99 50.37,217.89 50.91,217.79 51.44,217.68 51.98,217.58 52.52,217.47 53.05,217.37 53.59,217.26 54.13,217.15 54.67,217.03 55.20,216.92 55.74,216.80 56.28,216.68 56.81,216.56 57.35,216.44 57.89,216.32 58.43,216.19 58.96,216.06 59.50,215.93 60.04,215.80 60.57,215.66 61.11,215.53 61.65,215.39 62.19,215.24 62.72,215.10 63.26,214.95 63.80,214.80 64.33,214.65 64.87,214.50 65.41,214.34 65.95,214.18 66.48,214.02 67.02,213.85 67.56,213.68 68.09,213.51 68.63,213.34 69.17,213.16 69.71,212.99 70.24,212.80 70.78,212.62 71.32,212.43 71.85,212.24 72.39,212.05 72.93,211.85 73.47,211.65 74.00,211.44 74.54,211.24 75.08,211.03 75.61,210.81 76.15,210.60 76.69,210.38 77.23,210.15 77.76,209.92 78.30,209.69 78.84,209.46 79.37,209.22 79.91,208.98 80.45,208.73 80.99,208.49 81.52,208.23 82.06,207.98 82.60,207.72 83.13,207.45 83.67,207.18 84.21,206.91 84.75,206.63 85.28,206.35 85.82,206.07 86.36,205.78 86.89,205.49 87.43,205.19 87.97,204.89 88.51,204.59 89.04,204.28 89.58,203.96 90.12,203.64 90.66,203.32 91.19,202.99 91.73,202.66 92.27,202.33 92.80,201.98 93.34,201.64 93.88,201.29 94.42,200.93 94.95,200.57 95.49,200.21 96.03,199.84 96.56,199.47 97.10,199.09 97.64,198.70 98.18,198.31 98.71,197.92 99.25,197.52 99.79,197.12 100.32,196.71 100.86,196.29 101.40,195.87 101.94,195.45 102.47,195.02 103.01,194.58 103.55,194.14 104.08,193.70 104.62,193.24 105.16,192.79 105.70,192.32 106.23,191.86 106.77,191.38 107.31,190.90 107.84,190.42 108.38,189.93 108.92,189.43 109.46,188.93 109.99,188.42 110.53,187.90 111.07,187.38 111.60,186.86 112.14,186.32 112.68,185.79 113.22,185.24 113.75,184.69 114.29,184.13 114.83,183.57 115.36,183.00 115.90,182.43 116.44,181.85 116.98,181.26 117.51,180.66 118.05,180.06 118.59,179.45 119.12,178.84 119.66,178.22 120.20,177.59 120.74,176.96 121.27,176.32 121.81,175.67 122.35,175.02 122.88,174.36 123.42,173.69 123.96,173.02 124.50,172.34 125.03,171.65 125.57,170.95 126.11,170.25" fill="none" stroke="#ff1a1a" stroke-width="1.3" stroke-dasharray="2.6,1.4" stroke-linejoin="round"/>
<path d="M40.70,218.71 41.23,218.63 41.77,218.54 42.30,218.46 42.83,218.38 43.36,218.30 43.90,218.21 44.43,218.13 44.96,218.04 45.49,217.95 46.03,217.87 46.56,217.78 47.09,217.69 47.63,217.59 48.16,217.50 48.69,217.41 49.22,217.31 49.76,217.21 50.29,217.11 50.82,217.01 51.36,216.91 51.89,216.81 52.42,216.70 52.95,216.60 53.49,216.49 54.02,216.38 54.55,216.27 55.08,216.16 55.62,216.04 56.15,215.92 56.68,215.81 57.22,215.68 57.75,215.56 58.28,215.44 58.81,215.31 59.35,215.18 59.88,215.05 60.41,214.92 60.95,214.78 61.48,214.65 62.01,214.51 62.54,214.36 63.08,214.22 63.61,214.07 64.14,213.92 64.67,213.77 65.21,213.62 65.74,213.46 66.27,213.30 66.81,213.14 67.34,212.97 67.87,212.81 68.40,212.64 68.94,212.46 69.47,212.29 70.00,212.11 70.53,211.93 71.07,211.74 71.60,211.55 72.13,211.36 72.67,211.17 73.20,210.97 73.73,210.77 74.26,210.57 74.80,210.36 75.33,210.15 75.86,209.94 76.40,209.72 76.93,209.50 77.46,209.28 77.99,209.06 78.53,208.83 79.06,208.59 79.59,208.35 80.12,208.11 80.66,207.87 81.19,207.62 81.72,207.37 82.26,207.11 82.79,206.85 83.32,206.59 83.85,206.32 84.39,206.05 84.92,205.78 85.45,205.50 85.99,205.22 86.52,204.93 87.05,204.64 87.58,204.34 88.12,204.04 88.65,203.74 89.18,203.43 89.71,203.12 90.25,202.80 90.78,202.48 91.31,202.15 91.85,201.82 92.38,201.49 92.91,201.15 93.44,200.80 93.98,200.46 94.51,200.10 95.04,199.74 95.57,199.38 96.11,199.01 96.64,198.64 97.17,198.26 97.71,197.88 98.24,197.49 98.77,197.10 99.30,196.71 99.84,196.30 100.37,195.90 100.90,195.48 101.44,195.07 101.97,194.64 102.50,194.21 103.03,193.78 103.57,193.34 104.10,192.90 104.63,192.45 105.16,191.99 105.70,191.53 106.23,191.07 106.76,190.60 107.30,190.12 107.83,189.64 108.36,189.15 108.89,188.65 109.43,188.15 109.96,187.65 110.49,187.13 111.03,186.62 111.56,186.09 112.09,185.56 112.62,185.03 113.16,184.49 113.69,183.94 114.22,183.38 114.75,182.82 115.29,182.26 115.82,181.69 116.35,181.11 116.89,180.52 117.42,179.93 117.95,179.33 118.48,178.73 119.02,178.12 119.55,177.50 120.08,176.88 120.61,176.24 121.15,175.61 121.68,174.96 122.21,174.31 122.75,173.66 123.28,172.99 123.81,172.32 124.34,171.64 124.88,170.96 125.41,170.27" fill="none" stroke="#ff1a1a" stroke-width="1.3" stroke-linejoin="round"/>
<path d="M40.70,241.28 41.31,241.21 41.92,241.12 42.53,241.03 43.13,240.93 43.74,240.82 44.35,240.71 44.96,240.59 45.57,240.47 46.18,240.33 46.78,240.19 47.39,240.05 48.00,239.90 48.61,239.74 49.22,239.57 49.83,239.40 50.43,239.23 51.04,239.04 51.65,238.85 52.26,238.66 52.87,238.46 53.48,238.25 54.08,238.03 54.69,237.81 55.30,237.59 55.91,237.36 56.52,237.12 57.13,236.88 57.74,236.63 58.34,236.37 58.95,236.11 59.56,235.85 60.17,235.58 60.78,235.30 61.39,235.02 61.99,234.73 62.60,234.44 63.21,234.14 63.82,233.83 64.43,233.52 65.04,233.21 65.64,232.89 66.25,232.56 66.86,232.23 67.47,231.90 68.08,231.56 68.69,231.21 69.30,230.86 69.90,230.51 70.51,230.15 71.12,229.78 71.73,229.42 72.34,229.04 72.95,228.66 73.55,228.28 74.16,227.89 74.77,227.50 75.38,227.10 75.99,226.70 76.60,226.29 77.20,225.88 77.81,225.47 78.42,225.05 79.03,224.63 79.64,224.20 80.25,223.77 80.85,223.33 81.46,222.89 82.07,222.45 82.68,222.00 83.29,221.55 83.90,221.09 84.51,220.63 85.11,220.17 85.72,219.70 86.33,219.23 86.94,218.76 87.55,218.28 88.16,217.80 88.76,217.31 89.37,216.82 89.98,216.33 90.59,215.83 91.20,215.33 91.81,214.83 92.41,214.33 93.02,213.82 93.63,213.30 94.24,212.79 94.85,212.27 95.46,211.75 96.06,211.22 96.67,210.69 97.28,210.16 97.89,209.63 98.50,209.09 99.11,208.55 99.72,208.01 100.32,207.47 100.93,206.92 101.54,206.37 102.15,205.81 102.76,205.26 103.37,204.70 103.97,204.14 104.58,203.57 105.19,203.01 105.80,202.44 106.41,201.87 107.02,201.30 107.62,200.72 108.23,200.14 108.84,199.57 109.45,198.98 110.06,198.40 110.67,197.81 111.28,197.23 111.88,196.64 112.49,196.05 113.10,195.45 113.71,194.86 114.32,194.26 114.93,193.66 115.53,193.06 116.14,192.46 116.75,191.85 117.36,191.25 117.97,190.64 118.58,190.03 119.18,189.42 119.79,188.81 120.40,188.20 121.01,187.59 121.62,186.97 122.23,186.36 122.83,185.74 123.44,185.12 124.05,184.50 124.66,183.88 125.27,183.26 125.88,182.64 126.49,182.01 127.09,181.39 127.70,180.76 128.31,180.14 128.92,179.51 129.53,178.88 130.14,178.25 130.74,177.62 131.35,176.99 131.96,176.36 132.57,175.73 133.18,175.10 133.79,174.47 134.39,173.84 135.00,173.21 135.61,172.57 136.22,171.94 136.83,171.31 137.44,170.68" fill="none" stroke="#1e1ee6" stroke-width="1.3" stroke-dasharray="2.6,1.4" stroke-linejoin="round"/>
<path d="M40.70,238.18 41.29,237.96 41.87,237.74 42.46,237.52 43.04,237.30 43.63,237.08 44.21,236.86 44.80,236.63 45.38,236.40 45.97,236.18 46.55,235.95 47.14,235.71 47.72,235.48 48.31,235.25 48.90,235.01 49.48,234.78 50.07,234.54 50.65,234.30 51.24,234.06 51.82,233.81 52.41,233.57 52.99,233.32 53.58,233.07 54.16,232.82 54.75,232.57 55.33,232.30 55.92,231.98 56.51,231.64 57.09,231.36 57.68,231.19 58.26,231.18 58.85,231.23 59.43,231.33 60.02,231.45 60.60,231.59 61.19,231.72 61.77,231.83 62.36,231.91 62.94,231.95 63.53,231.92 64.12,231.82 64.70,231.66 65.29,231.44 65.87,231.19 66.46,230.89 67.04,230.57 67.63,230.23 68.21,229.88 68.80,229.52 69.38,229.17 69.97,228.84 70.55,228.50 71.14,228.12 71.73,227.72 72.31,227.31 72.90,226.88 73.48,226.46 74.07,226.05 74.65,225.64 75.24,225.23 75.82,224.81 76.41,224.39 76.99,223.97 77.58,223.54 78.16,223.12 78.75,222.69 79.34,222.25 79.92,221.81 80.51,221.37 81.09,220.93 81.68,220.49 82.26,220.04 82.85,219.59 83.43,219.14 84.02,218.69 84.60,218.23 85.19,217.77 85.77,217.31 86.36,216.85 86.95,216.39 87.53,215.92 88.12,215.46 88.70,214.99 89.29,214.52 89.87,214.04 90.46,213.57 91.04,213.09 91.63,212.62 92.21,212.14 92.80,211.66 93.38,211.17 93.97,210.69 94.56,210.20 95.14,209.72 95.73,209.23 96.31,208.74 96.90,208.24 97.48,207.75 98.07,207.25 98.65,206.75 99.24,206.25 99.82,205.75 100.41,205.25 100.99,204.74 101.58,204.23 102.17,203.72 102.75,203.21 103.34,202.70 103.92,202.18 104.51,201.66 105.09,201.14 105.68,200.62 106.26,200.09 106.85,199.56 107.43,199.03 108.02,198.50 108.60,197.96 109.19,197.42 109.78,196.87 110.36,196.33 110.95,195.78 111.53,195.22 112.12,194.66 112.70,194.10 113.29,193.54 113.87,192.97 114.46,192.40 115.04,191.82 115.63,191.24 116.21,190.65 116.80,190.06 117.39,189.47 117.97,188.87 118.56,188.26 119.14,187.65 119.73,187.03 120.31,186.41 120.90,185.78 121.48,185.15 122.07,184.51 122.65,183.86 123.24,183.21 123.82,182.55 124.41,181.89 125.00,181.21 125.58,180.53 126.17,179.84 126.75,179.15 127.34,178.44 127.92,177.73 128.51,177.01 129.09,176.28 129.68,175.55 130.26,174.80 130.85,174.04 131.43,173.28 132.02,172.50 132.61,171.72 133.19,170.92 133.78,170.12" fill="none" stroke="#1e1ee6" stroke-width="1.3" stroke-linejoin="round"/>
<path d="M40.70,246.54 41.50,246.28 42.30,246.03 43.11,245.77 43.91,245.50 44.71,245.23 45.51,244.96 46.32,244.69 47.12,244.41 47.92,244.13 48.72,243.84 49.53,243.55 50.33,243.26 51.13,242.96 51.93,242.66 52.74,242.36 53.54,242.05 54.34,241.74 55.14,241.43 55.95,241.11 56.75,240.79 57.55,240.47 58.35,240.14 59.16,239.81 59.96,239.48 60.76,239.14 61.56,238.80 62.37,238.46 63.17,238.11 63.97,237.76 64.77,237.41 65.58,237.05 66.38,236.70 67.18,236.33 67.98,235.97 68.79,235.60 69.59,235.23 70.39,234.85 71.19,234.47 72.00,234.09 72.80,233.71 73.60,233.32 74.40,232.93 75.20,232.54 76.01,232.14 76.81,231.74 77.61,231.34 78.41,230.94 79.22,230.53 80.02,230.12 80.82,229.70 81.62,229.29 82.43,228.87 83.23,228.45 84.03,228.02 84.83,227.59 85.64,227.16 86.44,226.73 87.24,226.29 88.04,225.86 88.85,225.41 89.65,224.97 90.45,224.52 91.25,224.07 92.06,223.62 92.86,223.17 93.66,222.71 94.46,222.25 95.27,221.79 96.07,221.32 96.87,220.86 97.67,220.39 98.48,219.91 99.28,219.44 100.08,218.96 100.88,218.48 101.69,218.00 102.49,217.52 103.29,217.03 104.09,216.54 104.90,216.05 105.70,215.55 106.50,215.06 107.30,214.56 108.10,214.06 108.91,213.55 109.71,213.05 110.51,212.54 111.31,212.03 112.12,211.52 112.92,211.00 113.72,210.49 114.52,209.97 115.33,209.45 116.13,208.92 116.93,208.40 117.73,207.87 118.54,207.34 119.34,206.81 120.14,206.28 120.94,205.74 121.75,205.20 122.55,204.66 123.35,204.12 124.15,203.58 124.96,203.03 125.76,202.49 126.56,201.94 127.36,201.39 128.17,200.83 128.97,200.28 129.77,199.72 130.57,199.16 131.38,198.60 132.18,198.04 132.98,197.48 133.78,196.91 134.59,196.35 135.39,195.78 136.19,195.21 136.99,194.63 137.79,194.06 138.60,193.48 139.40,192.91 140.20,192.33 141.00,191.75 141.81,191.16 142.61,190.58 143.41,190.00 144.21,189.41 145.02,188.82 145.82,188.23 146.62,187.64 147.42,187.05 148.23,186.45 149.03,185.86 149.83,185.26 150.63,184.66 151.44,184.06 152.24,183.46 153.04,182.86 153.84,182.25 154.65,181.65 155.45,181.04 156.25,180.43 157.05,179.82 157.86,179.21 158.66,178.60 159.46,177.99 160.26,177.38 161.07,176.76 161.87,176.14 162.67,175.53 163.47,174.91 164.28,174.29 165.08,173.67 165.88,173.05 166.68,172.42 167.49,171.80 168.29,171.17" fill="none" stroke="#1e961e" stroke-width="1.3" stroke-dasharray="2.6,1.4" stroke-linejoin="round"/>
<path d="M40.70,244.93 41.50,244.55 42.29,244.18 43.09,243.83 43.88,243.48 44.68,243.14 45.48,242.81 46.27,242.49 47.07,242.18 47.86,241.87 48.66,241.58 49.45,241.29 50.25,241.01 51.05,240.73 51.84,240.47 52.64,240.21 53.43,239.95 54.23,239.71 55.03,239.47 55.82,239.23 56.62,238.99 57.41,238.80 58.21,238.66 59.00,238.57 59.80,238.50 60.60,238.44 61.39,238.37 62.19,238.29 62.98,238.18 63.78,237.99 64.58,237.70 65.37,237.33 66.17,236.90 66.96,236.44 67.76,235.98 68.56,235.53 69.35,235.11 70.15,234.69 70.94,234.26 71.74,233.81 72.53,233.36 73.33,232.89 74.13,232.41 74.92,231.91 75.72,231.38 76.51,230.85 77.31,230.30 78.11,229.75 78.90,229.20 79.70,228.66 80.49,228.11 81.29,227.55 82.08,227.00 82.88,226.44 83.68,225.88 84.47,225.32 85.27,224.76 86.06,224.19 86.86,223.62 87.66,223.06 88.45,222.49 89.25,221.92 90.04,221.35 90.84,220.78 91.64,220.21 92.43,219.64 93.23,219.07 94.02,218.50 94.82,217.93 95.61,217.36 96.41,216.80 97.21,216.23 98.00,215.66 98.80,215.10 99.59,214.54 100.39,213.98 101.19,213.42 101.98,212.86 102.78,212.31 103.57,211.75 104.37,211.20 105.16,210.65 105.96,210.11 106.76,209.56 107.55,209.02 108.35,208.48 109.14,207.94 109.94,207.41 110.74,206.88 111.53,206.35 112.33,205.82 113.12,205.30 113.92,204.77 114.72,204.26 115.51,203.74 116.31,203.23 117.10,202.71 117.90,202.21 118.69,201.70 119.49,201.20 120.29,200.70 121.08,200.20 121.88,199.70 122.67,199.21 123.47,198.72 124.27,198.23 125.06,197.74 125.86,197.26 126.65,196.78 127.45,196.30 128.24,195.82 129.04,195.34 129.84,194.87 130.63,194.40 131.43,193.92 132.22,193.45 133.02,192.98 133.82,192.52 134.61,192.05 135.41,191.58 136.20,191.12 137.00,190.65 137.79,190.19 138.59,189.72 139.39,189.26 140.18,188.79 140.98,188.33 141.77,187.86 142.57,187.40 143.37,186.93 144.16,186.46 144.96,185.99 145.75,185.52 146.55,185.04 147.35,184.57 148.14,184.09 148.94,183.61 149.73,183.13 150.53,182.64 151.32,182.15 152.12,181.65 152.92,181.16 153.71,180.65 154.51,180.15 155.30,179.63 156.10,179.12 156.90,178.60 157.69,178.07 158.49,177.53 159.28,176.99 160.08,176.44 160.87,175.89 161.67,175.33 162.47,174.76 163.26,174.18 164.06,173.59 164.85,173.00 165.65,172.39 166.45,171.78 167.24,171.15" fill="none" stroke="#1e961e" stroke-width="1.3" stroke-linejoin="round"/>
<path d="M40.70,248.82 41.67,248.65 42.63,248.47 43.60,248.29 44.57,248.09 45.53,247.88 46.50,247.67 47.47,247.45 48.43,247.21 49.40,246.98 50.37,246.73 51.34,246.48 52.30,246.21 53.27,245.95 54.24,245.67 55.20,245.39 56.17,245.11 57.14,244.82 58.10,244.52 59.07,244.22 60.04,243.92 61.00,243.60 61.97,243.29 62.94,242.97 63.90,242.65 64.87,242.32 65.84,241.99 66.81,241.66 67.77,241.32 68.74,240.98 69.71,240.64 70.67,240.30 71.64,239.95 72.61,239.60 73.57,239.25 74.54,238.90 75.51,238.55 76.47,238.19 77.44,237.84 78.41,237.48 79.37,237.12 80.34,236.76 81.31,236.40 82.28,236.03 83.24,235.67 84.21,235.31 85.18,234.94 86.14,234.58 87.11,234.22 88.08,233.85 89.04,233.49 90.01,233.12 90.98,232.76 91.94,232.39 92.91,232.02 93.88,231.66 94.84,231.29 95.81,230.93 96.78,230.56 97.75,230.20 98.71,229.83 99.68,229.47 100.65,229.10 101.61,228.74 102.58,228.38 103.55,228.01 104.51,227.65 105.48,227.28 106.45,226.92 107.41,226.55 108.38,226.19 109.35,225.82 110.31,225.46 111.28,225.09 112.25,224.73 113.22,224.36 114.18,224.00 115.15,223.63 116.12,223.26 117.08,222.89 118.05,222.52 119.02,222.15 119.98,221.78 120.95,221.40 121.92,221.03 122.88,220.65 123.85,220.27 124.82,219.89 125.78,219.51 126.75,219.12 127.72,218.74 128.69,218.35 129.65,217.95 130.62,217.56 131.59,217.16 132.55,216.75 133.52,216.35 134.49,215.94 135.45,215.52 136.42,215.11 137.39,214.68 138.35,214.26 139.32,213.82 140.29,213.39 141.25,212.94 142.22,212.49 143.19,212.04 144.16,211.58 145.12,211.11 146.09,210.64 147.06,210.16 148.02,209.67 148.99,209.17 149.96,208.66 150.92,208.15 151.89,207.63 152.86,207.10 153.82,206.56 154.79,206.01 155.76,205.45 156.72,204.88 157.69,204.30 158.66,203.71 159.63,203.10 160.59,202.49 161.56,201.86 162.53,201.22 163.49,200.57 164.46,199.90 165.43,199.22 166.39,198.53 167.36,197.82 168.33,197.09 169.29,196.36 170.26,195.60 171.23,194.83 172.19,194.04 173.16,193.23 174.13,192.41 175.10,191.57 176.06,190.71 177.03,189.83 178.00,188.93 178.96,188.01 179.93,187.07 180.90,186.11 181.86,185.13 182.83,184.13 183.80,183.10 184.76,182.05 185.73,180.98 186.70,179.88 187.66,178.76 188.63,177.61 189.60,176.44 190.57,175.24 191.53,174.02 192.50,172.76 193.47,171.48 194.43,170.17" fill="none" stroke="#32c8c8" stroke-width="1.3" stroke-dasharray="2.6,1.4" stroke-linejoin="round"/>
<path d="M40.70,247.78 41.66,247.36 42.62,246.95 43.59,246.56 44.55,246.18 45.51,245.82 46.47,245.48 47.44,245.16 48.40,244.84 49.36,244.55 50.32,244.27 51.29,244.00 52.25,243.75 53.21,243.51 54.17,243.29 55.14,243.08 56.10,242.85 57.06,242.66 58.02,242.59 58.99,242.65 59.95,242.77 60.91,242.92 61.87,243.04 62.84,243.11 63.80,243.01 64.76,242.66 65.72,242.14 66.69,241.50 67.65,240.83 68.61,240.19 69.57,239.61 70.54,238.98 71.50,238.33 72.46,237.70 73.42,237.13 74.39,236.67 75.35,236.27 76.31,235.90 77.27,235.55 78.24,235.20 79.20,234.83 80.16,234.45 81.12,234.06 82.09,233.68 83.05,233.29 84.01,232.91 84.97,232.52 85.94,232.13 86.90,231.74 87.86,231.34 88.82,230.95 89.79,230.56 90.75,230.16 91.71,229.77 92.67,229.37 93.64,228.98 94.60,228.58 95.56,228.18 96.52,227.78 97.49,227.38 98.45,226.99 99.41,226.59 100.37,226.19 101.34,225.79 102.30,225.39 103.26,224.99 104.22,224.59 105.19,224.19 106.15,223.79 107.11,223.39 108.07,223.00 109.04,222.60 110.00,222.20 110.96,221.80 111.92,221.40 112.89,221.00 113.85,220.61 114.81,220.21 115.77,219.81 116.74,219.42 117.70,219.02 118.66,218.62 119.62,218.23 120.59,217.83 121.55,217.44 122.51,217.04 123.47,216.65 124.44,216.25 125.40,215.86 126.36,215.47 127.32,215.07 128.29,214.68 129.25,214.28 130.21,213.89 131.17,213.49 132.14,213.10 133.10,212.70 134.06,212.31 135.02,211.91 135.99,211.51 136.95,211.12 137.91,210.72 138.87,210.32 139.84,209.92 140.80,209.52 141.76,209.11 142.72,208.71 143.69,208.30 144.65,207.89 145.61,207.48 146.57,207.06 147.54,206.64 148.50,206.22 149.46,205.80 150.42,205.37 151.39,204.94 152.35,204.50 153.31,204.06 154.27,203.62 155.24,203.16 156.20,202.71 157.16,202.24 158.12,201.77 159.09,201.29 160.05,200.81 161.01,200.31 161.97,199.81 162.94,199.29 163.90,198.77 164.86,198.23 165.82,197.68 166.79,197.12 167.75,196.54 168.71,195.95 169.67,195.35 170.64,194.72 171.60,194.08 172.56,193.42 173.52,192.73 174.49,192.03 175.45,191.30 176.41,190.54 177.37,189.76 178.34,188.94 179.30,188.10 180.26,187.22 181.22,186.30 182.19,185.35 183.15,184.35 184.11,183.30 185.07,182.21 186.04,181.06 187.00,179.85 187.96,178.59 188.92,177.25 189.89,175.84 190.85,174.35 191.81,172.78 192.77,171.10 193.74,169.33" fill="none" stroke="#32c8c8" stroke-width="1.3" stroke-linejoin="round"/>
<path d="M40.70,252.98 41.75,252.81 42.79,252.64 43.84,252.46 44.89,252.27 45.93,252.08 46.98,251.88 48.03,251.68 49.08,251.47 50.12,251.26 51.17,251.04 52.22,250.81 53.26,250.59 54.31,250.36 55.36,250.12 56.40,249.88 57.45,249.64 58.50,249.40 59.54,249.15 60.59,248.90 61.64,248.65 62.68,248.40 63.73,248.14 64.78,247.88 65.83,247.62 66.87,247.36 67.92,247.10 68.97,246.84 70.01,246.57 71.06,246.31 72.11,246.04 73.15,245.78 74.20,245.51 75.25,245.24 76.29,244.98 77.34,244.71 78.39,244.44 79.44,244.18 80.48,243.91 81.53,243.64 82.58,243.38 83.62,243.11 84.67,242.84 85.72,242.58 86.76,242.31 87.81,242.05 88.86,241.79 89.90,241.52 90.95,241.26 92.00,241.00 93.04,240.74 94.09,240.48 95.14,240.22 96.19,239.96 97.23,239.70 98.28,239.44 99.33,239.18 100.37,238.92 101.42,238.67 102.47,238.41 103.51,238.15 104.56,237.90 105.61,237.64 106.65,237.38 107.70,237.13 108.75,236.87 109.80,236.61 110.84,236.36 111.89,236.10 112.94,235.84 113.98,235.58 115.03,235.32 116.08,235.06 117.12,234.80 118.17,234.53 119.22,234.27 120.26,234.00 121.31,233.73 122.36,233.46 123.40,233.18 124.45,232.91 125.50,232.63 126.55,232.35 127.59,232.06 128.64,231.77 129.69,231.48 130.73,231.18 131.78,230.88 132.83,230.58 133.87,230.27 134.92,229.95 135.97,229.63 137.01,229.31 138.06,228.98 139.11,228.64 140.16,228.29 141.20,227.94 142.25,227.58 143.30,227.22 144.34,226.84 145.39,226.46 146.44,226.07 147.48,225.67 148.53,225.26 149.58,224.84 150.62,224.42 151.67,223.98 152.72,223.53 153.76,223.06 154.81,222.59 155.86,222.10 156.91,221.61 157.95,221.09 159.00,220.57 160.05,220.03 161.09,219.47 162.14,218.90 163.19,218.32 164.23,217.72 165.28,217.10 166.33,216.46 167.37,215.81 168.42,215.14 169.47,214.44 170.52,213.73 171.56,213.00 172.61,212.25 173.66,211.47 174.70,210.68 175.75,209.85 176.80,209.01 177.84,208.14 178.89,207.25 179.94,206.33 180.98,205.38 182.03,204.40 183.08,203.40 184.12,202.37 185.17,201.30 186.22,200.20 187.27,199.07 188.31,197.91 189.36,196.71 190.41,195.47 191.45,194.20 192.50,192.88 193.55,191.53 194.59,190.13 195.64,188.69 196.69,187.20 197.73,185.65 198.78,184.06 199.83,182.41 200.88,180.70 201.92,178.93 202.97,177.09 204.02,175.18 205.06,173.19 206.11,171.10 207.16,168.91" fill="none" stroke="#c83cc8" stroke-width="1.3" stroke-dasharray="2.6,1.4" stroke-linejoin="round"/>
<path d="M40.70,251.94 41.74,251.61 42.79,251.29 43.83,250.99 44.87,250.69 45.92,250.41 46.96,250.13 48.01,249.87 49.05,249.61 50.09,249.36 51.14,249.12 52.18,248.89 53.22,248.67 54.27,248.45 55.31,248.24 56.35,248.00 57.40,247.82 58.44,247.79 59.48,247.84 60.53,247.92 61.57,247.99 62.62,248.04 63.66,247.98 64.70,247.65 65.75,247.12 66.79,246.47 67.83,245.79 68.88,245.17 69.92,244.69 70.96,244.35 72.01,244.06 73.05,243.79 74.10,243.50 75.14,243.19 76.18,242.88 77.23,242.58 78.27,242.27 79.31,241.96 80.36,241.66 81.40,241.36 82.44,241.05 83.49,240.75 84.53,240.46 85.58,240.16 86.62,239.86 87.66,239.57 88.71,239.28 89.75,238.99 90.79,238.70 91.84,238.41 92.88,238.13 93.92,237.84 94.97,237.56 96.01,237.29 97.05,237.01 98.10,236.74 99.14,236.46 100.19,236.20 101.23,235.93 102.27,235.66 103.32,235.40 104.36,235.14 105.40,234.88 106.45,234.62 107.49,234.37 108.53,234.11 109.58,233.86 110.62,233.61 111.67,233.36 112.71,233.11 113.75,232.86 114.80,232.61 115.84,232.37 116.88,232.12 117.93,231.88 118.97,231.63 120.01,231.39 121.06,231.14 122.10,230.90 123.14,230.65 124.19,230.41 125.23,230.16 126.28,229.91 127.32,229.66 128.36,229.41 129.41,229.16 130.45,228.90 131.49,228.64 132.54,228.38 133.58,228.11 134.62,227.84 135.67,227.57 136.71,227.30 137.76,227.01 138.80,226.73 139.84,226.44 140.89,226.14 141.93,225.83 142.97,225.52 144.02,225.21 145.06,224.88 146.10,224.55 147.15,224.21 148.19,223.86 149.24,223.50 150.28,223.13 151.32,222.75 152.37,222.36 153.41,221.96 154.45,221.55 155.50,221.13 156.54,220.69 157.58,220.24 158.63,219.78 159.67,219.30 160.71,218.81 161.76,218.30 162.80,217.77 163.85,217.23 164.89,216.67 165.93,216.09 166.98,215.49 168.02,214.88 169.06,214.24 170.11,213.58 171.15,212.90 172.19,212.20 173.24,211.47 174.28,210.72 175.33,209.94 176.37,209.14 177.41,208.31 178.46,207.46 179.50,206.57 180.54,205.66 181.59,204.71 182.63,203.73 183.67,202.72 184.72,201.68 185.76,200.60 186.81,199.48 187.85,198.33 188.89,197.14 189.94,195.90 190.98,194.63 192.02,193.31 193.07,191.94 194.11,190.53 195.15,189.07 196.20,187.56 197.24,185.99 198.28,184.36 199.33,182.68 200.37,180.93 201.42,179.11 202.46,177.22 203.50,175.25 204.55,173.19 205.59,171.04 206.63,168.79" fill="none" stroke="#c83cc8" stroke-width="1.3" stroke-linejoin="round"/>
<path d="M40.70,256.07 41.79,256.01 42.88,255.95 43.97,255.87 45.06,255.79 46.15,255.69 47.24,255.59 48.34,255.48 49.43,255.36 50.52,255.23 51.61,255.10 52.70,254.96 53.79,254.81 54.88,254.66 55.97,254.50 57.06,254.34 58.15,254.17 59.24,254.00 60.33,253.83 61.42,253.65 62.51,253.46 63.61,253.28 64.70,253.09 65.79,252.90 66.88,252.70 67.97,252.51 69.06,252.31 70.15,252.11 71.24,251.91 72.33,251.71 73.42,251.51 74.51,251.31 75.60,251.11 76.69,250.91 77.79,250.70 78.88,250.50 79.97,250.30 81.06,250.10 82.15,249.90 83.24,249.70 84.33,249.50 85.42,249.30 86.51,249.10 87.60,248.90 88.69,248.71 89.78,248.51 90.87,248.32 91.97,248.12 93.06,247.93 94.15,247.74 95.24,247.55 96.33,247.37 97.42,247.18 98.51,247.00 99.60,246.81 100.69,246.63 101.78,246.45 102.87,246.27 103.96,246.09 105.05,245.91 106.14,245.73 107.24,245.55 108.33,245.37 109.42,245.20 110.51,245.02 111.60,244.84 112.69,244.67 113.78,244.49 114.87,244.31 115.96,244.13 117.05,243.96 118.14,243.77 119.23,243.59 120.32,243.41 121.42,243.22 122.51,243.04 123.60,242.85 124.69,242.66 125.78,242.46 126.87,242.26 127.96,242.06 129.05,241.86 130.14,241.65 131.23,241.43 132.32,241.21 133.41,240.99 134.50,240.76 135.59,240.52 136.69,240.28 137.78,240.03 138.87,239.77 139.96,239.51 141.05,239.24 142.14,238.96 143.23,238.67 144.32,238.37 145.41,238.06 146.50,237.74 147.59,237.41 148.68,237.06 149.77,236.71 150.87,236.34 151.96,235.96 153.05,235.57 154.14,235.16 155.23,234.74 156.32,234.30 157.41,233.85 158.50,233.38 159.59,232.89 160.68,232.39 161.77,231.86 162.86,231.32 163.95,230.76 165.04,230.17 166.14,229.57 167.23,228.94 168.32,228.29 169.41,227.62 170.50,226.92 171.59,226.20 172.68,225.46 173.77,224.68 174.86,223.88 175.95,223.05 177.04,222.20 178.13,221.31 179.22,220.39 180.32,219.44 181.41,218.46 182.50,217.45 183.59,216.40 184.68,215.32 185.77,214.20 186.86,213.05 187.95,211.85 189.04,210.62 190.13,209.35 191.22,208.04 192.31,206.68 193.40,205.29 194.50,203.85 195.59,202.36 196.68,200.83 197.77,199.24 198.86,197.61 199.95,195.93 201.04,194.20 202.13,192.41 203.22,190.57 204.31,188.67 205.40,186.71 206.49,184.69 207.58,182.60 208.67,180.44 209.77,178.21 210.86,175.89 211.95,173.48 213.04,170.96 214.13,168.30" fill="none" stroke="#c8c832" stroke-width="1.3" stroke-dasharray="2.6,1.4" stroke-linejoin="round"/>
<path d="M40.70,254.79 41.79,254.41 42.88,254.05 43.97,253.71 45.05,253.40 46.14,253.10 47.23,252.82 48.32,252.56 49.41,252.32 50.50,252.11 51.59,251.91 52.67,251.73 53.76,251.57 54.85,251.43 55.94,251.30 57.03,251.20 58.12,251.16 59.21,251.20 60.29,251.27 61.38,251.35 62.47,251.41 63.56,251.40 64.65,251.26 65.74,251.02 66.83,250.72 67.91,250.40 69.00,250.09 70.09,249.84 71.18,249.63 72.27,249.44 73.36,249.24 74.45,249.02 75.53,248.77 76.62,248.52 77.71,248.27 78.80,248.02 79.89,247.77 80.98,247.53 82.07,247.29 83.15,247.04 84.24,246.80 85.33,246.57 86.42,246.33 87.51,246.10 88.60,245.87 89.68,245.64 90.77,245.41 91.86,245.19 92.95,244.97 94.04,244.75 95.13,244.53 96.22,244.32 97.30,244.11 98.39,243.90 99.48,243.70 100.57,243.50 101.66,243.30 102.75,243.11 103.84,242.91 104.92,242.72 106.01,242.53 107.10,242.35 108.19,242.17 109.28,241.99 110.37,241.81 111.46,241.63 112.54,241.46 113.63,241.28 114.72,241.11 115.81,240.94 116.90,240.77 117.99,240.61 119.08,240.44 120.16,240.27 121.25,240.11 122.34,239.94 123.43,239.77 124.52,239.60 125.61,239.44 126.70,239.27 127.78,239.09 128.87,238.92 129.96,238.75 131.05,238.57 132.14,238.39 133.23,238.20 134.32,238.01 135.40,237.82 136.49,237.62 137.58,237.42 138.67,237.21 139.76,237.00 140.85,236.77 141.94,236.55 143.02,236.31 144.11,236.07 145.20,235.81 146.29,235.55 147.38,235.28 148.47,235.00 149.56,234.71 150.64,234.40 151.73,234.09 152.82,233.76 153.91,233.41 155.00,233.06 156.09,232.69 157.18,232.30 158.26,231.90 159.35,231.48 160.44,231.04 161.53,230.59 162.62,230.11 163.71,229.62 164.80,229.10 165.88,228.57 166.97,228.01 168.06,227.43 169.15,226.82 170.24,226.19 171.33,225.54 172.41,224.86 173.50,224.15 174.59,223.41 175.68,222.65 176.77,221.85 177.86,221.02 178.95,220.16 180.03,219.27 181.12,218.35 182.21,217.39 183.30,216.39 184.39,215.36 185.48,214.28 186.57,213.17 187.65,212.02 188.74,210.83 189.83,209.59 190.92,208.31 192.01,206.99 193.10,205.61 194.19,204.19 195.27,202.72 196.36,201.21 197.45,199.63 198.54,198.01 199.63,196.33 200.72,194.59 201.81,192.80 202.89,190.94 203.98,189.02 205.07,187.03 206.16,184.98 207.25,182.85 208.34,180.65 209.43,178.36 210.51,175.99 211.60,173.52 212.69,170.93 213.78,168.19" fill="none" stroke="#c8c832" stroke-width="1.3" stroke-linejoin="round"/>
<path d="M40.70,264.40 41.80,264.18 42.89,263.96 43.99,263.74 45.08,263.52 46.18,263.30 47.28,263.07 48.37,262.85 49.47,262.62 50.57,262.39 51.66,262.17 52.76,261.94 53.85,261.71 54.95,261.48 56.05,261.26 57.14,261.03 58.24,260.80 59.34,260.58 60.43,260.35 61.53,260.12 62.62,259.90 63.72,259.68 64.82,259.46 65.91,259.24 67.01,259.02 68.11,258.80 69.20,258.58 70.30,258.37 71.39,258.16 72.49,257.94 73.59,257.74 74.68,257.53 75.78,257.32 76.88,257.12 77.97,256.92 79.07,256.72 80.16,256.52 81.26,256.32 82.36,256.13 83.45,255.94 84.55,255.75 85.65,255.56 86.74,255.38 87.84,255.19 88.93,255.01 90.03,254.83 91.13,254.65 92.22,254.48 93.32,254.31 94.42,254.13 95.51,253.96 96.61,253.79 97.70,253.63 98.80,253.46 99.90,253.30 100.99,253.14 102.09,252.97 103.18,252.81 104.28,252.66 105.38,252.50 106.47,252.34 107.57,252.18 108.67,252.03 109.76,251.87 110.86,251.72 111.95,251.56 113.05,251.41 114.15,251.25 115.24,251.09 116.34,250.94 117.44,250.78 118.53,250.62 119.63,250.46 120.72,250.30 121.82,250.14 122.92,249.98 124.01,249.81 125.11,249.64 126.21,249.47 127.30,249.30 128.40,249.12 129.49,248.95 130.59,248.76 131.69,248.58 132.78,248.39 133.88,248.19 134.98,247.99 136.07,247.79 137.17,247.58 138.26,247.37 139.36,247.15 140.46,246.92 141.55,246.69 142.65,246.45 143.75,246.20 144.84,245.95 145.94,245.68 147.03,245.41 148.13,245.13 149.23,244.85 150.32,244.55 151.42,244.24 152.52,243.92 153.61,243.59 154.71,243.25 155.80,242.90 156.90,242.54 158.00,242.16 159.09,241.77 160.19,241.37 161.28,240.95 162.38,240.52 163.48,240.07 164.57,239.60 165.67,239.12 166.77,238.63 167.86,238.11 168.96,237.58 170.05,237.03 171.15,236.45 172.25,235.86 173.34,235.25 174.44,234.61 175.54,233.96 176.63,233.27 177.73,232.57 178.82,231.84 179.92,231.08 181.02,230.29 182.11,229.48 183.21,228.64 184.31,227.76 185.40,226.86 186.50,225.92 187.59,224.95 188.69,223.94 189.79,222.89 190.88,221.80 191.98,220.67 193.08,219.50 194.17,218.28 195.27,217.01 196.36,215.69 197.46,214.32 198.56,212.88 199.65,211.38 200.75,209.81 201.85,208.17 202.94,206.44 204.04,204.62 205.13,202.69 206.23,200.64 207.33,198.45 208.42,196.10 209.52,193.54 210.62,190.73 211.71,187.57 212.81,183.93 213.90,179.54 215.00,173.78" fill="none" stroke="#ff1a1a" stroke-width="1.3" stroke-dasharray="2.6,1.4" stroke-linejoin="round"/>
<path d="M40.70,259.21 41.80,258.83 42.89,258.46 43.99,258.11 45.08,257.78 46.18,257.46 47.28,257.15 48.37,256.85 49.47,256.57 50.57,256.30 51.66,256.04 52.76,255.79 53.85,255.55 54.95,255.32 56.05,255.07 57.14,254.86 58.24,254.80 59.34,254.94 60.43,255.17 61.53,255.41 62.62,255.56 63.72,255.54 64.82,255.40 65.91,255.19 67.01,254.99 68.11,254.83 69.20,254.79 70.30,254.80 71.39,254.80 72.49,254.81 73.59,254.81 74.68,254.77 75.78,254.62 76.88,254.40 77.97,254.17 79.07,253.96 80.16,253.79 81.26,253.61 82.36,253.44 83.45,253.27 84.55,253.10 85.65,252.93 86.74,252.76 87.84,252.60 88.93,252.43 90.03,252.27 91.13,252.11 92.22,251.95 93.32,251.79 94.42,251.63 95.51,251.48 96.61,251.32 97.70,251.17 98.80,251.02 99.90,250.87 100.99,250.73 102.09,250.58 103.18,250.44 104.28,250.30 105.38,250.16 106.47,250.02 107.57,249.88 108.67,249.74 109.76,249.61 110.86,249.47 111.95,249.34 113.05,249.21 114.15,249.07 115.24,248.94 116.34,248.81 117.44,248.68 118.53,248.54 119.63,248.41 120.72,248.28 121.82,248.14 122.92,248.01 124.01,247.87 125.11,247.74 126.21,247.60 127.30,247.46 128.40,247.31 129.49,247.17 130.59,247.02 131.69,246.87 132.78,246.71 133.88,246.55 134.98,246.39 136.07,246.23 137.17,246.05 138.26,245.88 139.36,245.70 140.46,245.51 141.55,245.32 142.65,245.12 143.75,244.91 144.84,244.70 145.94,244.48 147.03,244.25 148.13,244.01 149.23,243.76 150.32,243.50 151.42,243.24 152.52,242.96 153.61,242.67 154.71,242.37 155.80,242.06 156.90,241.74 158.00,241.40 159.09,241.05 160.19,240.68 161.28,240.30 162.38,239.90 163.48,239.49 164.57,239.06 165.67,238.62 166.77,238.15 167.86,237.67 168.96,237.16 170.05,236.64 171.15,236.09 172.25,235.53 173.34,234.94 174.44,234.32 175.54,233.68 176.63,233.02 177.73,232.33 178.82,231.61 179.92,230.86 181.02,230.09 182.11,229.28 183.21,228.44 184.31,227.57 185.40,226.66 186.50,225.72 187.59,224.74 188.69,223.72 189.79,222.66 190.88,221.56 191.98,220.42 193.08,219.22 194.17,217.98 195.27,216.69 196.36,215.34 197.46,213.93 198.56,212.46 199.65,210.93 200.75,209.32 201.85,207.64 202.94,205.88 204.04,204.02 205.13,202.06 206.23,199.98 207.33,197.77 208.42,195.40 209.52,192.84 210.62,190.04 211.71,186.93 212.81,183.38 213.90,179.16 215.00,173.73" fill="none" stroke="#ff1a1a" stroke-width="1.3" stroke-linejoin="round"/>
</g>
<path d="M40.7,172.5 H215.0 V302.3" fill="none" stroke="#8c8c8c" stroke-width="1.2"/>
<line x1="40.7" y1="172.5" x2="40.7" y2="302.3" stroke="#aaaaaa" stroke-width="1.2"/>
<line x1="40.1" y1="302.3" x2="215.6" y2="302.3" stroke="#707070" stroke-width="1.2"/>
<line x1="38.900000000000006" y1="302.30" x2="40.7" y2="302.30" stroke="#aaaaaa" stroke-width="0.9"/>
<line x1="38.900000000000006" y1="276.34" x2="40.7" y2="276.34" stroke="#aaaaaa" stroke-width="0.9"/>
<line x1="38.900000000000006" y1="250.38" x2="40.7" y2="250.38" stroke="#aaaaaa" stroke-width="0.9"/>
<line x1="38.900000000000006" y1="224.42" x2="40.7" y2="224.42" stroke="#aaaaaa" stroke-width="0.9"/>
<line x1="38.900000000000006" y1="198.46" x2="40.7" y2="198.46" stroke="#aaaaaa" stroke-width="0.9"/>
<line x1="40.70" y1="302.3" x2="40.70" y2="304.1" stroke="#707070" stroke-width="0.9"/>
<line x1="75.56" y1="302.3" x2="75.56" y2="304.1" stroke="#707070" stroke-width="0.9"/>
<line x1="110.42" y1="302.3" x2="110.42" y2="304.1" stroke="#707070" stroke-width="0.9"/>
<line x1="145.28" y1="302.3" x2="145.28" y2="304.1" stroke="#707070" stroke-width="0.9"/>
<line x1="180.14" y1="302.3" x2="180.14" y2="304.1" stroke="#707070" stroke-width="0.9"/>
<line x1="215.00" y1="302.3" x2="215.00" y2="304.1" stroke="#707070" stroke-width="0.9"/>
<clipPath id="cle"><rect x="258.0" y="173.3" width="173.2" height="128.89999999999998"/></clipPath>
<g clip-path="url(#cle)">
<path d="M258.00,219.97 258.53,219.86 259.06,219.75 259.59,219.64 260.12,219.53 260.65,219.42 261.18,219.31 261.71,219.20 262.24,219.09 262.76,218.98 263.29,218.87 263.82,218.76 264.35,218.65 264.88,218.54 265.41,218.42 265.94,218.31 266.47,218.20 267.00,218.09 267.53,217.97 268.06,217.86 268.59,217.74 269.12,217.63 269.65,217.51 270.18,217.39 270.71,217.27 271.24,217.16 271.76,217.03 272.29,216.91 272.82,216.79 273.35,216.67 273.88,216.54 274.41,216.42 274.94,216.29 275.47,216.16 276.00,216.03 276.53,215.90 277.06,215.76 277.59,215.63 278.12,215.49 278.65,215.35 279.18,215.21 279.71,215.07 280.23,214.92 280.76,214.78 281.29,214.63 281.82,214.48 282.35,214.33 282.88,214.17 283.41,214.02 283.94,213.86 284.47,213.69 285.00,213.53 285.53,213.37 286.06,213.20 286.59,213.03 287.12,212.85 287.65,212.68 288.18,212.50 288.71,212.32 289.23,212.13 289.76,211.94 290.29,211.75 290.82,211.56 291.35,211.36 291.88,211.16 292.41,210.96 292.94,210.76 293.47,210.55 294.00,210.34 294.53,210.12 295.06,209.90 295.59,209.68 296.12,209.45 296.65,209.23 297.18,208.99 297.71,208.76 298.23,208.52 298.76,208.27 299.29,208.02 299.82,207.77 300.35,207.52 300.88,207.26 301.41,206.99 301.94,206.73 302.47,206.46 303.00,206.18 303.53,205.90 304.06,205.62 304.59,205.33 305.12,205.03 305.65,204.74 306.18,204.43 306.71,204.13 307.23,203.82 307.76,203.50 308.29,203.18 308.82,202.86 309.35,202.53 309.88,202.19 310.41,201.85 310.94,201.51 311.47,201.16 312.00,200.80 312.53,200.44 313.06,200.08 313.59,199.70 314.12,199.33 314.65,198.95 315.18,198.56 315.71,198.17 316.23,197.77 316.76,197.37 317.29,196.96 317.82,196.55 318.35,196.13 318.88,195.70 319.41,195.27 319.94,194.83 320.47,194.39 321.00,193.94 321.53,193.48 322.06,193.02 322.59,192.55 323.12,192.08 323.65,191.60 324.18,191.11 324.70,190.62 325.23,190.12 325.76,189.61 326.29,189.10 326.82,188.58 327.35,188.06 327.88,187.52 328.41,186.98 328.94,186.44 329.47,185.89 330.00,185.33 330.53,184.76 331.06,184.19 331.59,183.61 332.12,183.02 332.65,182.42 333.18,181.82 333.70,181.21 334.23,180.60 334.76,179.97 335.29,179.34 335.82,178.70 336.35,178.06 336.88,177.40 337.41,176.74 337.94,176.07 338.47,175.39 339.00,174.71 339.53,174.02 340.06,173.32 340.59,172.61 341.12,171.89 341.65,171.17 342.18,170.43" fill="none" stroke="#ff1a1a" stroke-width="1.3" stroke-dasharray="2.6,1.4" stroke-linejoin="round"/>
<path d="M258.00,220.49 258.53,220.38 259.06,220.26 259.59,220.15 260.12,220.04 260.65,219.93 261.18,219.82 261.71,219.71 262.24,219.60 262.76,219.49 263.29,219.38 263.82,219.27 264.35,219.16 264.88,219.05 265.41,218.94 265.94,218.83 266.47,218.72 267.00,218.60 267.53,218.49 268.06,218.37 268.59,218.26 269.12,218.14 269.65,218.03 270.18,217.91 270.71,217.79 271.24,217.67 271.76,217.55 272.29,217.43 272.82,217.31 273.35,217.18 273.88,217.06 274.41,216.93 274.94,216.80 275.47,216.67 276.00,216.54 276.53,216.41 277.06,216.28 277.59,216.14 278.12,216.00 278.65,215.87 279.18,215.73 279.71,215.58 280.23,215.44 280.76,215.29 281.29,215.14 281.82,214.99 282.35,214.84 282.88,214.69 283.41,214.53 283.94,214.37 284.47,214.21 285.00,214.05 285.53,213.88 286.06,213.71 286.59,213.54 287.12,213.37 287.65,213.19 288.18,213.01 288.71,212.83 289.23,212.65 289.76,212.46 290.29,212.27 290.82,212.08 291.35,211.88 291.88,211.68 292.41,211.48 292.94,211.27 293.47,211.06 294.00,210.85 294.53,210.64 295.06,210.42 295.59,210.20 296.12,209.97 296.65,209.74 297.18,209.51 297.71,209.27 298.23,209.03 298.76,208.79 299.29,208.54 299.82,208.29 300.35,208.03 300.88,207.77 301.41,207.51 301.94,207.24 302.47,206.97 303.00,206.70 303.53,206.42 304.06,206.13 304.59,205.84 305.12,205.55 305.65,205.25 306.18,204.95 306.71,204.64 307.23,204.33 307.76,204.02 308.29,203.70 308.82,203.37 309.35,203.04 309.88,202.71 310.41,202.37 310.94,202.02 311.47,201.67 312.00,201.32 312.53,200.96 313.06,200.59 313.59,200.22 314.12,199.84 314.65,199.46 315.18,199.08 315.71,198.68 316.23,198.29 316.76,197.88 317.29,197.48 317.82,197.06 318.35,196.64 318.88,196.22 319.41,195.78 319.94,195.35 320.47,194.90 321.00,194.45 321.53,194.00 322.06,193.54 322.59,193.07 323.12,192.59 323.65,192.11 324.18,191.63 324.70,191.13 325.23,190.63 325.76,190.13 326.29,189.62 326.82,189.10 327.35,188.57 327.88,188.04 328.41,187.50 328.94,186.95 329.47,186.40 330.00,185.84 330.53,185.28 331.06,184.70 331.59,184.12 332.12,183.53 332.65,182.94 333.18,182.34 333.70,181.73 334.23,181.11 334.76,180.49 335.29,179.86 335.82,179.22 336.35,178.57 336.88,177.92 337.41,177.26 337.94,176.59 338.47,175.91 339.00,175.22 339.53,174.53 340.06,173.83 340.59,173.12 341.12,172.41 341.65,171.68 342.18,170.95" fill="none" stroke="#ff1a1a" stroke-width="1.3" stroke-linejoin="round"/>
<path d="M258.00,241.62 258.60,241.50 259.20,241.37 259.79,241.24 260.39,241.10 260.99,240.96 261.59,240.81 262.19,240.66 262.78,240.51 263.38,240.34 263.98,240.18 264.58,240.01 265.18,239.83 265.77,239.65 266.37,239.47 266.97,239.28 267.57,239.08 268.17,238.88 268.76,238.66 269.36,238.45 269.96,238.22 270.56,237.98 271.16,237.74 271.75,237.49 272.35,237.24 272.95,236.98 273.55,236.71 274.15,236.43 274.74,236.15 275.34,235.87 275.94,235.57 276.54,235.27 277.14,234.97 277.73,234.66 278.33,234.34 278.93,234.02 279.53,233.69 280.13,233.36 280.73,233.03 281.32,232.69 281.92,232.34 282.52,231.99 283.12,231.63 283.72,231.27 284.31,230.91 284.91,230.54 285.51,230.17 286.11,229.80 286.71,229.42 287.30,229.04 287.90,228.65 288.50,228.26 289.10,227.87 289.70,227.48 290.29,227.08 290.89,226.68 291.49,226.27 292.09,225.87 292.69,225.46 293.28,225.05 293.88,224.64 294.48,224.22 295.08,223.81 295.68,223.39 296.27,222.97 296.87,222.55 297.47,222.13 298.07,221.71 298.67,221.28 299.26,220.86 299.86,220.43 300.46,220.01 301.06,219.58 301.66,219.15 302.25,218.72 302.85,218.29 303.45,217.85 304.05,217.41 304.65,216.97 305.24,216.52 305.84,216.07 306.44,215.61 307.04,215.15 307.64,214.69 308.23,214.23 308.83,213.76 309.43,213.29 310.03,212.81 310.63,212.34 311.22,211.86 311.82,211.37 312.42,210.88 313.02,210.39 313.62,209.90 314.21,209.40 314.81,208.90 315.41,208.40 316.01,207.90 316.61,207.39 317.20,206.87 317.80,206.36 318.40,205.84 319.00,205.32 319.60,204.80 320.20,204.27 320.79,203.74 321.39,203.21 321.99,202.67 322.59,202.13 323.19,201.59 323.78,201.05 324.38,200.50 324.98,199.95 325.58,199.40 326.18,198.85 326.77,198.29 327.37,197.73 327.97,197.17 328.57,196.60 329.17,196.03 329.76,195.46 330.36,194.89 330.96,194.32 331.56,193.74 332.16,193.16 332.75,192.57 333.35,191.99 333.95,191.40 334.55,190.81 335.15,190.22 335.74,189.62 336.34,189.02 336.94,188.42 337.54,187.82 338.14,187.22 338.73,186.61 339.33,186.00 339.93,185.38 340.53,184.77 341.13,184.15 341.72,183.53 342.32,182.91 342.92,182.28 343.52,181.65 344.12,181.02 344.71,180.39 345.31,179.76 345.91,179.12 346.51,178.48 347.11,177.84 347.70,177.19 348.30,176.55 348.90,175.90 349.50,175.25 350.10,174.60 350.69,173.95 351.29,173.29 351.89,172.63 352.49,171.97 353.09,171.31" fill="none" stroke="#1e1ee6" stroke-width="1.3" stroke-dasharray="2.6,1.4" stroke-linejoin="round"/>
<path d="M258.00,239.81 258.60,239.55 259.20,239.29 259.79,239.02 260.39,238.75 260.99,238.48 261.59,238.21 262.19,237.93 262.78,237.66 263.38,237.38 263.98,237.10 264.58,236.81 265.18,236.47 265.77,236.11 266.37,235.72 266.97,235.32 267.57,234.93 268.17,234.56 268.76,234.22 269.36,233.91 269.96,233.67 270.56,233.49 271.16,233.38 271.75,233.37 272.35,233.37 272.95,233.37 273.55,233.37 274.15,233.37 274.74,233.37 275.34,233.37 275.94,233.37 276.54,233.37 277.14,233.42 277.73,233.62 278.33,233.82 278.93,233.88 279.53,233.79 280.13,233.61 280.73,233.34 281.32,233.01 281.92,232.64 282.52,232.24 283.12,231.85 283.72,231.46 284.31,231.11 284.91,230.72 285.51,230.31 286.11,229.88 286.71,229.44 287.30,228.98 287.90,228.51 288.50,228.05 289.10,227.59 289.70,227.14 290.29,226.70 290.89,226.29 291.49,225.89 292.09,225.51 292.69,225.13 293.28,224.76 293.88,224.39 294.48,224.02 295.08,223.64 295.68,223.26 296.27,222.87 296.87,222.47 297.47,222.07 298.07,221.66 298.67,221.25 299.26,220.84 299.86,220.42 300.46,220.00 301.06,219.58 301.66,219.15 302.25,218.72 302.85,218.29 303.45,217.85 304.05,217.41 304.65,216.97 305.24,216.52 305.84,216.07 306.44,215.61 307.04,215.15 307.64,214.69 308.23,214.23 308.83,213.76 309.43,213.29 310.03,212.81 310.63,212.34 311.22,211.86 311.82,211.37 312.42,210.88 313.02,210.39 313.62,209.90 314.21,209.40 314.81,208.90 315.41,208.40 316.01,207.90 316.61,207.39 317.20,206.87 317.80,206.36 318.40,205.84 319.00,205.32 319.60,204.80 320.20,204.27 320.79,203.74 321.39,203.21 321.99,202.67 322.59,202.13 323.19,201.59 323.78,201.05 324.38,200.50 324.98,199.95 325.58,199.40 326.18,198.85 326.77,198.29 327.37,197.73 327.97,197.17 328.57,196.60 329.17,196.03 329.76,195.46 330.36,194.89 330.96,194.32 331.56,193.74 332.16,193.16 332.75,192.57 333.35,191.99 333.95,191.40 334.55,190.81 335.15,190.22 335.74,189.62 336.34,189.02 336.94,188.42 337.54,187.82 338.14,187.22 338.73,186.61 339.33,186.00 339.93,185.39 340.53,184.78 341.13,184.16 341.72,183.54 342.32,182.92 342.92,182.30 343.52,181.67 344.12,181.05 344.71,180.42 345.31,179.79 345.91,179.16 346.51,178.52 347.11,177.88 347.70,177.25 348.30,176.60 348.90,175.96 349.50,175.32 350.10,174.67 350.69,174.02 351.29,173.37 351.89,172.72 352.49,172.07 353.09,171.41" fill="none" stroke="#1e1ee6" stroke-width="1.3" stroke-linejoin="round"/>
<path d="M258.00,245.74 258.81,245.71 259.61,245.67 260.42,245.60 261.23,245.52 262.04,245.42 262.84,245.30 263.65,245.16 264.46,245.01 265.26,244.84 266.07,244.65 266.88,244.45 267.69,244.23 268.49,244.00 269.30,243.75 270.11,243.49 270.91,243.21 271.72,242.91 272.53,242.61 273.34,242.28 274.14,241.95 274.95,241.60 275.76,241.24 276.57,240.87 277.37,240.49 278.18,240.10 278.99,239.70 279.79,239.29 280.60,238.87 281.41,238.44 282.22,238.01 283.02,237.56 283.83,237.11 284.64,236.66 285.44,236.19 286.25,235.72 287.06,235.25 287.87,234.77 288.67,234.29 289.48,233.80 290.29,233.30 291.09,232.81 291.90,232.31 292.71,231.81 293.52,231.31 294.32,230.80 295.13,230.29 295.94,229.79 296.74,229.28 297.55,228.77 298.36,228.26 299.17,227.75 299.97,227.24 300.78,226.73 301.59,226.23 302.39,225.72 303.20,225.21 304.01,224.70 304.82,224.19 305.62,223.68 306.43,223.17 307.24,222.66 308.04,222.15 308.85,221.64 309.66,221.13 310.47,220.62 311.27,220.11 312.08,219.60 312.89,219.09 313.70,218.59 314.50,218.08 315.31,217.58 316.12,217.07 316.92,216.57 317.73,216.07 318.54,215.57 319.35,215.07 320.15,214.57 320.96,214.08 321.77,213.59 322.57,213.09 323.38,212.60 324.19,212.11 325.00,211.63 325.80,211.14 326.61,210.66 327.42,210.18 328.22,209.70 329.03,209.22 329.84,208.74 330.65,208.26 331.45,207.79 332.26,207.32 333.07,206.85 333.87,206.38 334.68,205.91 335.49,205.44 336.30,204.98 337.10,204.51 337.91,204.05 338.72,203.59 339.52,203.12 340.33,202.66 341.14,202.19 341.95,201.73 342.75,201.27 343.56,200.80 344.37,200.34 345.18,199.87 345.98,199.41 346.79,198.94 347.60,198.47 348.40,198.01 349.21,197.54 350.02,197.07 350.83,196.59 351.63,196.12 352.44,195.65 353.25,195.17 354.05,194.69 354.86,194.21 355.67,193.72 356.48,193.24 357.28,192.75 358.09,192.25 358.90,191.76 359.70,191.26 360.51,190.76 361.32,190.25 362.13,189.74 362.93,189.22 363.74,188.70 364.55,188.17 365.35,187.64 366.16,187.11 366.97,186.56 367.78,186.02 368.58,185.46 369.39,184.90 370.20,184.33 371.00,183.76 371.81,183.17 372.62,182.58 373.43,181.98 374.23,181.37 375.04,180.76 375.85,180.13 376.66,179.49 377.46,178.85 378.27,178.19 379.08,177.53 379.88,176.85 380.69,176.16 381.50,175.46 382.31,174.74 383.11,174.02 383.92,173.28 384.73,172.52 385.53,171.76 386.34,170.98" fill="none" stroke="#1e961e" stroke-width="1.3" stroke-dasharray="2.6,1.4" stroke-linejoin="round"/>
<path d="M258.00,244.97 258.81,244.48 259.61,244.00 260.42,243.54 261.23,243.10 262.04,242.67 262.84,242.26 263.65,241.86 264.46,241.48 265.26,241.12 266.07,240.77 266.88,240.43 267.69,240.11 268.49,239.80 269.30,239.51 270.11,239.23 270.91,238.97 271.72,238.71 272.53,238.45 273.34,238.18 274.14,237.96 274.95,237.80 275.76,237.75 276.57,237.96 277.37,238.34 278.18,238.68 278.99,238.78 279.79,238.65 280.60,238.39 281.41,238.04 282.22,237.63 283.02,237.20 283.83,236.79 284.64,236.40 285.44,235.98 286.25,235.54 287.06,235.07 287.87,234.59 288.67,234.10 289.48,233.61 290.29,233.12 291.09,232.65 291.90,232.17 292.71,231.69 293.52,231.21 294.32,230.72 295.13,230.23 295.94,229.74 296.74,229.24 297.55,228.74 298.36,228.24 299.17,227.74 299.97,227.24 300.78,226.73 301.59,226.23 302.39,225.72 303.20,225.21 304.01,224.70 304.82,224.19 305.62,223.68 306.43,223.17 307.24,222.66 308.04,222.15 308.85,221.64 309.66,221.13 310.47,220.62 311.27,220.11 312.08,219.60 312.89,219.09 313.70,218.59 314.50,218.08 315.31,217.58 316.12,217.07 316.92,216.57 317.73,216.07 318.54,215.57 319.35,215.07 320.15,214.57 320.96,214.08 321.77,213.59 322.57,213.09 323.38,212.60 324.19,212.11 325.00,211.63 325.80,211.14 326.61,210.66 327.42,210.18 328.22,209.70 329.03,209.22 329.84,208.74 330.65,208.26 331.45,207.79 332.26,207.32 333.07,206.85 333.87,206.38 334.68,205.91 335.49,205.44 336.30,204.98 337.10,204.52 337.91,204.05 338.72,203.59 339.52,203.13 340.33,202.67 341.14,202.21 341.95,201.75 342.75,201.29 343.56,200.84 344.37,200.38 345.18,199.92 345.98,199.46 346.79,199.01 347.60,198.55 348.40,198.09 349.21,197.63 350.02,197.17 350.83,196.71 351.63,196.25 352.44,195.79 353.25,195.32 354.05,194.86 354.86,194.39 355.67,193.92 356.48,193.44 357.28,192.97 358.09,192.49 358.90,192.01 359.70,191.52 360.51,191.03 361.32,190.54 362.13,190.05 362.93,189.54 363.74,189.04 364.55,188.53 365.35,188.01 366.16,187.49 366.97,186.97 367.78,186.43 368.58,185.89 369.39,185.35 370.20,184.79 371.00,184.23 371.81,183.66 372.62,183.09 373.43,182.50 374.23,181.91 375.04,181.31 375.85,180.69 376.66,180.07 377.46,179.44 378.27,178.80 379.08,178.14 379.88,177.48 380.69,176.80 381.50,176.11 382.31,175.41 383.11,174.69 383.92,173.96 384.73,173.22 385.53,172.46 386.34,171.69" fill="none" stroke="#1e961e" stroke-width="1.3" stroke-linejoin="round"/>
<path d="M258.00,249.36 258.97,249.21 259.93,249.05 260.90,248.88 261.86,248.69 262.83,248.49 263.79,248.28 264.76,248.06 265.72,247.83 266.69,247.59 267.65,247.34 268.62,247.07 269.58,246.79 270.55,246.50 271.51,246.20 272.48,245.89 273.44,245.57 274.41,245.23 275.37,244.89 276.34,244.54 277.30,244.19 278.27,243.82 279.23,243.45 280.20,243.08 281.16,242.70 282.13,242.31 283.09,241.92 284.06,241.52 285.02,241.12 285.99,240.72 286.95,240.31 287.92,239.91 288.88,239.50 289.85,239.09 290.81,238.68 291.78,238.26 292.74,237.85 293.71,237.44 294.67,237.03 295.64,236.62 296.61,236.21 297.57,235.81 298.54,235.40 299.50,235.00 300.47,234.60 301.43,234.21 302.40,233.82 303.36,233.42 304.33,233.03 305.29,232.64 306.26,232.25 307.22,231.86 308.19,231.47 309.15,231.08 310.12,230.69 311.08,230.31 312.05,229.92 313.01,229.54 313.98,229.16 314.94,228.78 315.91,228.40 316.87,228.02 317.84,227.64 318.80,227.27 319.77,226.89 320.73,226.52 321.70,226.15 322.66,225.78 323.63,225.41 324.59,225.04 325.56,224.68 326.52,224.31 327.49,223.95 328.45,223.59 329.42,223.23 330.38,222.87 331.35,222.51 332.31,222.15 333.28,221.79 334.25,221.44 335.21,221.08 336.18,220.73 337.14,220.37 338.11,220.01 339.07,219.65 340.04,219.29 341.00,218.92 341.97,218.56 342.93,218.19 343.90,217.82 344.86,217.44 345.83,217.06 346.79,216.68 347.76,216.30 348.72,215.92 349.69,215.53 350.65,215.13 351.62,214.74 352.58,214.34 353.55,213.93 354.51,213.52 355.48,213.11 356.44,212.69 357.41,212.27 358.37,211.84 359.34,211.41 360.30,210.97 361.27,210.52 362.23,210.07 363.20,209.61 364.16,209.15 365.13,208.68 366.09,208.20 367.06,207.71 368.02,207.21 368.99,206.71 369.95,206.20 370.92,205.67 371.88,205.14 372.85,204.60 373.82,204.05 374.78,203.49 375.75,202.92 376.71,202.33 377.68,201.74 378.64,201.13 379.61,200.51 380.57,199.88 381.54,199.23 382.50,198.57 383.47,197.90 384.43,197.21 385.40,196.50 386.36,195.78 387.33,195.05 388.29,194.29 389.26,193.52 390.22,192.74 391.19,191.93 392.15,191.11 393.12,190.26 394.08,189.40 395.05,188.52 396.01,187.62 396.98,186.69 397.94,185.74 398.91,184.77 399.87,183.77 400.84,182.75 401.80,181.70 402.77,180.62 403.73,179.52 404.70,178.38 405.66,177.22 406.63,176.03 407.59,174.81 408.56,173.56 409.52,172.27 410.49,170.95 411.46,169.60" fill="none" stroke="#32c8c8" stroke-width="1.3" stroke-dasharray="2.6,1.4" stroke-linejoin="round"/>
<path d="M258.00,248.58 258.97,248.10 259.93,247.64 260.90,247.20 261.86,246.78 262.83,246.39 263.79,246.02 264.76,245.68 265.72,245.36 266.69,245.06 267.65,244.79 268.62,244.54 269.58,244.31 270.55,244.11 271.51,243.94 272.48,243.77 273.44,243.61 274.41,243.49 275.37,243.43 276.34,243.67 277.30,244.53 278.27,245.33 279.23,245.46 280.20,245.29 281.16,244.95 282.13,244.49 283.09,243.91 284.06,243.26 285.02,242.54 285.99,241.80 286.95,241.05 287.92,240.32 288.88,239.64 289.85,239.03 290.81,238.51 291.78,238.08 292.74,237.68 293.71,237.31 294.67,236.94 295.64,236.56 296.61,236.17 297.57,235.78 298.54,235.39 299.50,235.00 300.47,234.60 301.43,234.21 302.40,233.82 303.36,233.42 304.33,233.03 305.29,232.64 306.26,232.25 307.22,231.86 308.19,231.47 309.15,231.08 310.12,230.69 311.08,230.31 312.05,229.92 313.01,229.54 313.98,229.16 314.94,228.78 315.91,228.40 316.87,228.02 317.84,227.64 318.80,227.27 319.77,226.89 320.73,226.52 321.70,226.15 322.66,225.78 323.63,225.41 324.59,225.04 325.56,224.68 326.52,224.31 327.49,223.95 328.45,223.59 329.42,223.23 330.38,222.87 331.35,222.51 332.31,222.15 333.28,221.79 334.25,221.44 335.21,221.08 336.18,220.73 337.14,220.37 338.11,220.02 339.07,219.66 340.04,219.30 341.00,218.95 341.97,218.59 342.93,218.23 343.90,217.88 344.86,217.52 345.83,217.16 346.79,216.79 347.76,216.43 348.72,216.06 349.69,215.70 350.65,215.33 351.62,214.95 352.58,214.58 353.55,214.20 354.51,213.81 355.48,213.43 356.44,213.04 357.41,212.64 358.37,212.24 359.34,211.84 360.30,211.43 361.27,211.01 362.23,210.59 363.20,210.16 364.16,209.73 365.13,209.28 366.09,208.84 367.06,208.38 368.02,207.91 368.99,207.44 369.95,206.96 370.92,206.47 371.88,205.97 372.85,205.45 373.82,204.93 374.78,204.40 375.75,203.85 376.71,203.30 377.68,202.73 378.64,202.15 379.61,201.55 380.57,200.94 381.54,200.32 382.50,199.68 383.47,199.03 384.43,198.36 385.40,197.68 386.36,196.97 387.33,196.25 388.29,195.52 389.26,194.76 390.22,193.99 391.19,193.19 392.15,192.38 393.12,191.54 394.08,190.68 395.05,189.81 396.01,188.90 396.98,187.98 397.94,187.03 398.91,186.06 399.87,185.06 400.84,184.04 401.80,182.99 402.77,181.91 403.73,180.81 404.70,179.67 405.66,178.51 406.63,177.32 407.59,176.10 408.56,174.84 409.52,173.56 410.49,172.24 411.46,170.89" fill="none" stroke="#32c8c8" stroke-width="1.3" stroke-linejoin="round"/>
<path d="M258.00,253.73 259.04,253.59 260.08,253.43 261.12,253.27 262.16,253.09 263.20,252.91 264.24,252.73 265.28,252.53 266.32,252.33 267.36,252.13 268.40,251.91 269.44,251.69 270.48,251.45 271.52,251.21 272.56,250.96 273.60,250.70 274.64,250.43 275.68,250.16 276.73,249.88 277.77,249.60 278.81,249.31 279.85,249.02 280.89,248.73 281.93,248.43 282.97,248.13 284.01,247.82 285.05,247.52 286.09,247.21 287.13,246.90 288.17,246.59 289.21,246.28 290.25,245.97 291.29,245.66 292.33,245.35 293.37,245.04 294.41,244.74 295.45,244.43 296.49,244.13 297.53,243.83 298.57,243.54 299.61,243.24 300.65,242.96 301.69,242.67 302.73,242.39 303.77,242.10 304.81,241.82 305.85,241.54 306.89,241.25 307.93,240.97 308.97,240.69 310.01,240.41 311.05,240.13 312.10,239.85 313.14,239.57 314.18,239.29 315.22,239.01 316.26,238.73 317.30,238.46 318.34,238.18 319.38,237.90 320.42,237.63 321.46,237.35 322.50,237.08 323.54,236.80 324.58,236.53 325.62,236.25 326.66,235.98 327.70,235.70 328.74,235.43 329.78,235.15 330.82,234.88 331.86,234.60 332.90,234.33 333.94,234.05 334.98,233.77 336.02,233.49 337.06,233.21 338.10,232.92 339.14,232.64 340.18,232.34 341.22,232.05 342.26,231.75 343.30,231.44 344.34,231.14 345.38,230.82 346.42,230.51 347.46,230.19 348.51,229.86 349.55,229.53 350.59,229.19 351.63,228.85 352.67,228.51 353.71,228.15 354.75,227.79 355.79,227.43 356.83,227.06 357.87,226.68 358.91,226.30 359.95,225.91 360.99,225.51 362.03,225.11 363.07,224.69 364.11,224.27 365.15,223.84 366.19,223.40 367.23,222.96 368.27,222.50 369.31,222.04 370.35,221.56 371.39,221.07 372.43,220.58 373.47,220.07 374.51,219.55 375.55,219.02 376.59,218.48 377.63,217.92 378.67,217.35 379.71,216.77 380.75,216.17 381.79,215.56 382.83,214.93 383.88,214.29 384.92,213.63 385.96,212.96 387.00,212.27 388.04,211.56 389.08,210.83 390.12,210.08 391.16,209.32 392.20,208.53 393.24,207.72 394.28,206.89 395.32,206.04 396.36,205.17 397.40,204.26 398.44,203.34 399.48,202.38 400.52,201.39 401.56,200.38 402.60,199.33 403.64,198.24 404.68,197.13 405.72,195.97 406.76,194.78 407.80,193.55 408.84,192.28 409.88,190.96 410.92,189.60 411.96,188.19 413.00,186.73 414.04,185.22 415.08,183.65 416.12,182.01 417.16,180.31 418.20,178.54 419.24,176.69 420.29,174.75 421.33,172.71 422.37,170.57 423.41,168.30" fill="none" stroke="#c83cc8" stroke-width="1.3" stroke-dasharray="2.6,1.4" stroke-linejoin="round"/>
<path d="M258.00,252.96 259.04,252.41 260.08,251.88 261.12,251.39 262.16,250.92 263.20,250.48 264.24,250.07 265.28,249.69 266.32,249.34 267.36,249.02 268.40,248.73 269.44,248.48 270.48,248.25 271.52,248.06 272.56,247.88 273.60,247.71 274.64,247.59 275.68,247.55 276.73,248.03 277.77,248.90 278.81,249.35 279.85,249.29 280.89,249.14 281.93,248.90 282.97,248.59 284.01,248.23 285.05,247.83 286.09,247.41 287.13,246.98 288.17,246.56 289.21,246.17 290.25,245.81 291.29,245.50 292.33,245.21 293.37,244.93 294.41,244.65 295.45,244.37 296.49,244.09 297.53,243.81 298.57,243.52 299.61,243.24 300.65,242.95 301.69,242.67 302.73,242.39 303.77,242.10 304.81,241.82 305.85,241.54 306.89,241.25 307.93,240.97 308.97,240.69 310.01,240.41 311.05,240.13 312.10,239.85 313.14,239.57 314.18,239.29 315.22,239.01 316.26,238.73 317.30,238.46 318.34,238.18 319.38,237.90 320.42,237.63 321.46,237.35 322.50,237.08 323.54,236.80 324.58,236.53 325.62,236.25 326.66,235.98 327.70,235.70 328.74,235.43 329.78,235.15 330.82,234.88 331.86,234.60 332.90,234.33 333.94,234.05 334.98,233.77 336.02,233.49 337.06,233.21 338.10,232.93 339.14,232.65 340.18,232.36 341.22,232.08 342.26,231.79 343.30,231.50 344.34,231.20 345.38,230.91 346.42,230.61 347.46,230.31 348.51,230.00 349.55,229.69 350.59,229.38 351.63,229.07 352.67,228.75 353.71,228.42 354.75,228.09 355.79,227.75 356.83,227.41 357.87,227.07 358.91,226.71 359.95,226.36 360.99,225.99 362.03,225.62 363.07,225.24 364.11,224.85 365.15,224.45 366.19,224.05 367.23,223.63 368.27,223.21 369.31,222.78 370.35,222.33 371.39,221.88 372.43,221.42 373.47,220.94 374.51,220.45 375.55,219.95 376.59,219.44 377.63,218.91 378.67,218.37 379.71,217.81 380.75,217.24 381.79,216.66 382.83,216.05 383.88,215.43 384.92,214.80 385.96,214.14 387.00,213.47 388.04,212.78 389.08,212.07 390.12,211.33 391.16,210.58 392.20,209.80 393.24,209.00 394.28,208.18 395.32,207.33 396.36,206.45 397.40,205.55 398.44,204.63 399.48,203.67 400.52,202.68 401.56,201.67 402.60,200.62 403.64,199.53 404.68,198.42 405.72,197.26 406.76,196.07 407.80,194.84 408.84,193.57 409.88,192.25 410.92,190.89 411.96,189.48 413.00,188.02 414.04,186.51 415.08,184.94 416.12,183.30 417.16,181.60 418.20,179.83 419.24,177.98 420.29,176.04 421.33,174.00 422.37,171.86 423.41,169.59" fill="none" stroke="#c83cc8" stroke-width="1.3" stroke-linejoin="round"/>
<path d="M258.00,257.34 259.08,257.30 260.15,257.24 261.23,257.18 262.30,257.11 263.38,257.03 264.46,256.94 265.53,256.85 266.61,256.75 267.69,256.64 268.76,256.52 269.84,256.39 270.91,256.25 271.99,256.10 273.07,255.95 274.14,255.78 275.22,255.61 276.30,255.43 277.37,255.25 278.45,255.06 279.52,254.86 280.60,254.66 281.68,254.46 282.75,254.25 283.83,254.04 284.91,253.82 285.98,253.60 287.06,253.38 288.13,253.16 289.21,252.94 290.29,252.72 291.36,252.50 292.44,252.27 293.52,252.05 294.59,251.83 295.67,251.61 296.74,251.39 297.82,251.18 298.90,250.97 299.97,250.76 301.05,250.55 302.13,250.35 303.20,250.14 304.28,249.94 305.35,249.73 306.43,249.52 307.51,249.32 308.58,249.11 309.66,248.90 310.74,248.69 311.81,248.48 312.89,248.27 313.96,248.06 315.04,247.85 316.12,247.64 317.19,247.43 318.27,247.22 319.35,247.01 320.42,246.79 321.50,246.58 322.57,246.37 323.65,246.15 324.73,245.94 325.80,245.72 326.88,245.50 327.96,245.28 329.03,245.06 330.11,244.84 331.18,244.62 332.26,244.39 333.34,244.17 334.41,243.94 335.49,243.71 336.57,243.48 337.64,243.24 338.72,243.00 339.79,242.75 340.87,242.50 341.95,242.24 343.02,241.98 344.10,241.71 345.18,241.44 346.25,241.16 347.33,240.88 348.40,240.59 349.48,240.29 350.56,239.99 351.63,239.68 352.71,239.36 353.79,239.04 354.86,238.71 355.94,238.37 357.01,238.03 358.09,237.68 359.17,237.32 360.24,236.95 361.32,236.57 362.39,236.19 363.47,235.79 364.55,235.39 365.62,234.97 366.70,234.55 367.78,234.12 368.85,233.67 369.93,233.22 371.00,232.75 372.08,232.27 373.16,231.78 374.23,231.28 375.31,230.76 376.39,230.23 377.46,229.69 378.54,229.13 379.61,228.56 380.69,227.98 381.77,227.37 382.84,226.76 383.92,226.12 385.00,225.47 386.07,224.80 387.15,224.11 388.22,223.40 389.30,222.68 390.38,221.93 391.45,221.17 392.53,220.38 393.61,219.57 394.68,218.73 395.76,217.87 396.83,216.99 397.91,216.08 398.99,215.14 400.06,214.17 401.14,213.17 402.22,212.14 403.29,211.07 404.37,209.97 405.44,208.83 406.52,207.65 407.60,206.43 408.67,205.17 409.75,203.86 410.83,202.51 411.90,201.11 412.98,199.66 414.05,198.15 415.13,196.59 416.21,194.96 417.28,193.26 418.36,191.49 419.44,189.63 420.51,187.69 421.59,185.65 422.66,183.49 423.74,181.20 424.82,178.75 425.89,176.11 426.97,173.23 428.05,170.04 429.12,168.14" fill="none" stroke="#c8c832" stroke-width="1.3" stroke-dasharray="2.6,1.4" stroke-linejoin="round"/>
<path d="M258.00,256.57 259.08,255.88 260.15,255.26 261.23,254.70 262.30,254.20 263.38,253.77 264.46,253.39 265.53,253.06 266.61,252.78 267.69,252.55 268.76,252.36 269.84,252.21 270.91,252.09 271.99,252.01 273.07,251.96 274.14,251.93 275.22,251.95 276.30,252.18 277.37,252.56 278.45,252.97 279.52,253.32 280.60,253.47 281.68,253.46 282.75,253.41 283.83,253.33 284.91,253.22 285.98,253.10 287.06,252.96 288.13,252.81 289.21,252.66 290.29,252.51 291.36,252.36 292.44,252.18 293.52,251.98 294.59,251.77 295.67,251.56 296.74,251.36 297.82,251.16 298.90,250.96 299.97,250.75 301.05,250.55 302.13,250.35 303.20,250.14 304.28,249.94 305.35,249.73 306.43,249.52 307.51,249.32 308.58,249.11 309.66,248.90 310.74,248.69 311.81,248.48 312.89,248.27 313.96,248.06 315.04,247.85 316.12,247.64 317.19,247.43 318.27,247.22 319.35,247.01 320.42,246.79 321.50,246.58 322.57,246.37 323.65,246.15 324.73,245.94 325.80,245.72 326.88,245.50 327.96,245.28 329.03,245.06 330.11,244.84 331.18,244.62 332.26,244.39 333.34,244.17 334.41,243.94 335.49,243.71 336.57,243.48 337.64,243.24 338.72,243.01 339.79,242.77 340.87,242.52 341.95,242.28 343.02,242.03 344.10,241.78 345.18,241.52 346.25,241.26 347.33,241.00 348.40,240.73 349.48,240.45 350.56,240.18 351.63,239.89 352.71,239.60 353.79,239.31 354.86,239.01 355.94,238.70 357.01,238.39 358.09,238.07 359.17,237.74 360.24,237.40 361.32,237.06 362.39,236.71 363.47,236.35 364.55,235.98 365.62,235.60 366.70,235.21 367.78,234.81 368.85,234.40 369.93,233.98 371.00,233.54 372.08,233.10 373.16,232.64 374.23,232.17 375.31,231.69 376.39,231.19 377.46,230.68 378.54,230.15 379.61,229.60 380.69,229.05 381.77,228.47 382.84,227.88 383.92,227.26 385.00,226.63 386.07,225.99 387.15,225.32 388.22,224.63 389.30,223.92 390.38,223.18 391.45,222.43 392.53,221.65 393.61,220.85 394.68,220.02 395.76,219.16 396.83,218.28 397.91,217.37 398.99,216.43 400.06,215.46 401.14,214.46 402.22,213.43 403.29,212.36 404.37,211.25 405.44,210.12 406.52,208.94 407.60,207.72 408.67,206.46 409.75,205.15 410.83,203.80 411.90,202.40 412.98,200.95 414.05,199.44 415.13,197.87 416.21,196.25 417.28,194.55 418.36,192.78 419.44,190.92 420.51,188.98 421.59,186.94 422.66,184.78 423.74,182.49 424.82,180.04 425.89,177.40 426.97,174.52 428.05,171.33 429.12,168.14" fill="none" stroke="#c8c832" stroke-width="1.3" stroke-linejoin="round"/>
<path d="M258.00,264.28 259.09,264.11 260.18,263.93 261.27,263.75 262.36,263.56 263.45,263.37 264.54,263.18 265.63,262.98 266.71,262.77 267.80,262.57 268.89,262.36 269.98,262.15 271.07,261.93 272.16,261.72 273.25,261.50 274.34,261.28 275.43,261.06 276.52,260.84 277.61,260.61 278.70,260.39 279.79,260.16 280.88,259.94 281.96,259.71 283.05,259.48 284.14,259.26 285.23,259.03 286.32,258.81 287.41,258.58 288.50,258.36 289.59,258.13 290.68,257.91 291.77,257.69 292.86,257.47 293.95,257.25 295.04,257.03 296.13,256.82 297.22,256.60 298.30,256.39 299.39,256.18 300.48,255.97 301.57,255.76 302.66,255.56 303.75,255.35 304.84,255.15 305.93,254.95 307.02,254.75 308.11,254.56 309.20,254.36 310.29,254.17 311.38,253.98 312.47,253.79 313.55,253.61 314.64,253.42 315.73,253.24 316.82,253.06 317.91,252.88 319.00,252.70 320.09,252.53 321.18,252.35 322.27,252.18 323.36,252.00 324.45,251.83 325.54,251.66 326.63,251.49 327.72,251.32 328.81,251.15 329.89,250.98 330.98,250.82 332.07,250.65 333.16,250.48 334.25,250.31 335.34,250.14 336.43,249.97 337.52,249.80 338.61,249.63 339.70,249.45 340.79,249.28 341.88,249.10 342.97,248.92 344.06,248.74 345.14,248.55 346.23,248.37 347.32,248.18 348.41,247.98 349.50,247.78 350.59,247.58 351.68,247.37 352.77,247.16 353.86,246.94 354.95,246.72 356.04,246.49 357.13,246.26 358.22,246.01 359.31,245.76 360.39,245.51 361.48,245.24 362.57,244.97 363.66,244.69 364.75,244.40 365.84,244.10 366.93,243.79 368.02,243.47 369.11,243.14 370.20,242.79 371.29,242.44 372.38,242.07 373.47,241.69 374.56,241.29 375.65,240.89 376.73,240.46 377.82,240.02 378.91,239.57 380.00,239.10 381.09,238.61 382.18,238.10 383.27,237.58 384.36,237.04 385.45,236.47 386.54,235.89 387.63,235.28 388.72,234.66 389.81,234.00 390.90,233.33 391.98,232.63 393.07,231.91 394.16,231.16 395.25,230.38 396.34,229.58 397.43,228.75 398.52,227.88 399.61,226.99 400.70,226.06 401.79,225.10 402.88,224.11 403.97,223.07 405.06,222.01 406.15,220.90 407.24,219.75 408.32,218.56 409.41,217.32 410.50,216.04 411.59,214.71 412.68,213.33 413.77,211.90 414.86,210.41 415.95,208.85 417.04,207.23 418.13,205.54 419.22,203.78 420.31,201.93 421.40,199.99 422.49,197.94 423.57,195.78 424.66,193.48 425.75,191.01 426.84,188.33 427.93,185.39 429.02,182.07 430.11,178.18 431.20,173.27" fill="none" stroke="#ff1a1a" stroke-width="1.3" stroke-dasharray="2.6,1.4" stroke-linejoin="round"/>
<path d="M258.00,259.66 259.09,258.91 260.18,258.27 261.27,257.73 262.36,257.29 263.45,256.93 264.54,256.65 265.63,256.44 266.71,256.28 267.80,256.17 268.89,256.11 269.98,256.07 271.07,256.06 272.16,256.05 273.25,256.22 274.34,256.75 275.43,257.43 276.52,258.05 277.61,258.37 278.70,258.40 279.79,258.42 280.88,258.44 281.96,258.45 283.05,258.47 284.14,258.48 285.23,258.49 286.32,258.50 287.41,258.51 288.50,258.51 289.59,258.51 290.68,258.51 291.77,258.47 292.86,258.29 293.95,258.05 295.04,257.78 296.13,257.54 297.22,257.33 298.30,257.11 299.39,256.89 300.48,256.67 301.57,256.45 302.66,256.23 303.75,256.01 304.84,255.78 305.93,255.56 307.02,255.34 308.11,255.11 309.20,254.89 310.29,254.67 311.38,254.45 312.47,254.23 313.55,254.01 314.64,253.79 315.73,253.58 316.82,253.36 317.91,253.15 319.00,252.94 320.09,252.73 321.18,252.52 322.27,252.32 323.36,252.11 324.45,251.91 325.54,251.71 326.63,251.52 327.72,251.32 328.81,251.13 329.89,250.94 330.98,250.75 332.07,250.56 333.16,250.37 334.25,250.19 335.34,250.01 336.43,249.83 337.52,249.65 338.61,249.47 339.70,249.29 340.79,249.11 341.88,248.93 342.97,248.76 344.06,248.58 345.14,248.40 346.23,248.22 347.32,248.04 348.41,247.86 349.50,247.68 350.59,247.49 351.68,247.31 352.77,247.12 353.86,246.92 354.95,246.73 356.04,246.53 357.13,246.32 358.22,246.12 359.31,245.90 360.39,245.68 361.48,245.46 362.57,245.22 363.66,244.98 364.75,244.74 365.84,244.48 366.93,244.22 368.02,243.94 369.11,243.66 370.20,243.36 371.29,243.06 372.38,242.74 373.47,242.41 374.56,242.06 375.65,241.70 376.73,241.33 377.82,240.94 378.91,240.53 380.00,240.11 381.09,239.67 382.18,239.21 383.27,238.73 384.36,238.23 385.45,237.71 386.54,237.17 387.63,236.60 388.72,236.01 389.81,235.39 390.90,234.75 391.98,234.07 393.07,233.38 394.16,232.65 395.25,231.89 396.34,231.09 397.43,230.27 398.52,229.41 399.61,228.51 400.70,227.58 401.79,226.61 402.88,225.60 403.97,224.54 405.06,223.45 406.15,222.30 407.24,221.12 408.32,219.88 409.41,218.59 410.50,217.25 411.59,215.85 412.68,214.40 413.77,212.88 414.86,211.30 415.95,209.65 417.04,207.93 418.13,206.14 419.22,204.26 420.31,202.30 421.40,200.23 422.49,198.07 423.57,195.78 424.66,193.36 425.75,190.78 426.84,188.01 427.93,185.00 429.02,181.67 430.11,177.85 431.20,173.18" fill="none" stroke="#ff1a1a" stroke-width="1.3" stroke-linejoin="round"/>
</g>
<path d="M258.0,173.3 H431.2 V302.2" fill="none" stroke="#8c8c8c" stroke-width="1.2"/>
<line x1="258.0" y1="173.3" x2="258.0" y2="302.2" stroke="#aaaaaa" stroke-width="1.2"/>
<line x1="257.4" y1="302.2" x2="431.8" y2="302.2" stroke="#606060" stroke-width="1.2"/>
<line x1="256.2" y1="302.20" x2="258.0" y2="302.20" stroke="#aaaaaa" stroke-width="0.9"/>
<line x1="256.2" y1="276.42" x2="258.0" y2="276.42" stroke="#aaaaaa" stroke-width="0.9"/>
<line x1="256.2" y1="250.64" x2="258.0" y2="250.64" stroke="#aaaaaa" stroke-width="0.9"/>
<line x1="256.2" y1="224.86" x2="258.0" y2="224.86" stroke="#aaaaaa" stroke-width="0.9"/>
<line x1="256.2" y1="199.08" x2="258.0" y2="199.08" stroke="#aaaaaa" stroke-width="0.9"/>
<line x1="258.00" y1="302.2" x2="258.00" y2="304.0" stroke="#606060" stroke-width="0.9"/>
<line x1="292.64" y1="302.2" x2="292.64" y2="304.0" stroke="#606060" stroke-width="0.9"/>
<line x1="327.28" y1="302.2" x2="327.28" y2="304.0" stroke="#606060" stroke-width="0.9"/>
<line x1="361.92" y1="302.2" x2="361.92" y2="304.0" stroke="#606060" stroke-width="0.9"/>
<line x1="396.56" y1="302.2" x2="396.56" y2="304.0" stroke="#606060" stroke-width="0.9"/>
<line x1="431.20" y1="302.2" x2="431.20" y2="304.0" stroke="#606060" stroke-width="0.9"/>
<clipPath id="clf"><rect x="475.4" y="172.5" width="173.89999999999998" height="130.3"/></clipPath>
<g clip-path="url(#clf)">
<path d="M475.40,220.19 475.94,219.98 476.47,219.77 477.01,219.58 477.54,219.40 478.08,219.23 478.62,219.06 479.15,218.91 479.69,218.76 480.22,218.62 480.76,218.48 481.30,218.36 481.83,218.23 482.37,218.12 482.90,218.01 483.44,217.90 483.97,217.79 484.51,217.69 485.05,217.60 485.58,217.50 486.12,217.41 486.65,217.32 487.19,217.24 487.73,217.15 488.26,217.06 488.80,216.98 489.33,216.89 489.87,216.81 490.41,216.72 490.94,216.64 491.48,216.55 492.01,216.46 492.55,216.37 493.09,216.28 493.62,216.18 494.16,216.09 494.69,215.99 495.23,215.89 495.76,215.78 496.30,215.67 496.84,215.56 497.37,215.45 497.91,215.33 498.44,215.20 498.98,215.07 499.52,214.94 500.05,214.81 500.59,214.66 501.12,214.52 501.66,214.37 502.20,214.21 502.73,214.05 503.27,213.88 503.80,213.71 504.34,213.53 504.88,213.35 505.41,213.16 505.95,212.96 506.48,212.76 507.02,212.55 507.56,212.34 508.09,212.12 508.63,211.89 509.16,211.66 509.70,211.42 510.23,211.18 510.77,210.93 511.31,210.67 511.84,210.41 512.38,210.14 512.91,209.87 513.45,209.58 513.99,209.30 514.52,209.00 515.06,208.70 515.59,208.40 516.13,208.09 516.67,207.77 517.20,207.45 517.74,207.12 518.27,206.78 518.81,206.44 519.35,206.09 519.88,205.74 520.42,205.38 520.95,205.02 521.49,204.65 522.02,204.27 522.56,203.89 523.10,203.51 523.63,203.12 524.17,202.72 524.70,202.32 525.24,201.92 525.78,201.51 526.31,201.09 526.85,200.67 527.38,200.25 527.92,199.82 528.46,199.39 528.99,198.96 529.53,198.52 530.06,198.07 530.60,197.62 531.14,197.17 531.67,196.72 532.21,196.26 532.74,195.80 533.28,195.33 533.82,194.87 534.35,194.39 534.89,193.92 535.42,193.44 535.96,192.96 536.49,192.48 537.03,191.99 537.57,191.51 538.10,191.01 538.64,190.52 539.17,190.03 539.71,189.53 540.25,189.03 540.78,188.53 541.32,188.02 541.85,187.51 542.39,187.00 542.93,186.49 543.46,185.98 544.00,185.46 544.53,184.95 545.07,184.42 545.61,183.90 546.14,183.38 546.68,182.85 547.21,182.32 547.75,181.79 548.28,181.25 548.82,180.72 549.36,180.18 549.89,179.63 550.43,179.09 550.96,178.54 551.50,177.99 552.04,177.43 552.57,176.87 553.11,176.30 553.64,175.74 554.18,175.16 554.72,174.58 555.25,174.00 555.79,173.41 556.32,172.82 556.86,172.22 557.40,171.61 557.93,170.99 558.47,170.37 559.00,169.74 559.54,169.10 560.08,168.45 560.61,167.79" fill="none" stroke="#ff1a1a" stroke-width="1.3" stroke-dasharray="2.6,1.4" stroke-linejoin="round"/>
<path d="M475.40,222.80 475.94,222.58 476.47,222.38 477.01,222.19 477.54,222.01 478.08,221.83 478.62,221.67 479.15,221.51 479.69,221.36 480.22,221.22 480.76,221.09 481.30,220.96 481.83,220.84 482.37,220.72 482.90,220.61 483.44,220.50 483.97,220.40 484.51,220.30 485.05,220.20 485.58,220.11 486.12,220.02 486.65,219.93 487.19,219.84 487.73,219.75 488.26,219.67 488.80,219.58 489.33,219.50 489.87,219.41 490.41,219.33 490.94,219.24 491.48,219.15 492.01,219.07 492.55,218.98 493.09,218.88 493.62,218.79 494.16,218.69 494.69,218.59 495.23,218.49 495.76,218.39 496.30,218.28 496.84,218.17 497.37,218.05 497.91,217.93 498.44,217.81 498.98,217.68 499.52,217.55 500.05,217.41 500.59,217.27 501.12,217.12 501.66,216.97 502.20,216.82 502.73,216.65 503.27,216.49 503.80,216.31 504.34,216.14 504.88,215.95 505.41,215.76 505.95,215.57 506.48,215.36 507.02,215.16 507.56,214.94 508.09,214.72 508.63,214.50 509.16,214.27 509.70,214.03 510.23,213.79 510.77,213.54 511.31,213.28 511.84,213.02 512.38,212.75 512.91,212.47 513.45,212.19 513.99,211.90 514.52,211.61 515.06,211.31 515.59,211.00 516.13,210.69 516.67,210.37 517.20,210.05 517.74,209.72 518.27,209.39 518.81,209.04 519.35,208.70 519.88,208.34 520.42,207.99 520.95,207.62 521.49,207.25 522.02,206.88 522.56,206.50 523.10,206.11 523.63,205.72 524.17,205.33 524.70,204.93 525.24,204.52 525.78,204.11 526.31,203.70 526.85,203.28 527.38,202.86 527.92,202.43 528.46,202.00 528.99,201.56 529.53,201.12 530.06,200.68 530.60,200.23 531.14,199.78 531.67,199.32 532.21,198.87 532.74,198.40 533.28,197.94 533.82,197.47 534.35,197.00 534.89,196.53 535.42,196.05 535.96,195.57 536.49,195.09 537.03,194.60 537.57,194.11 538.10,193.62 538.64,193.13 539.17,192.63 539.71,192.13 540.25,191.63 540.78,191.13 541.32,190.63 541.85,190.12 542.39,189.61 542.93,189.10 543.46,188.58 544.00,188.07 544.53,187.55 545.07,187.03 545.61,186.51 546.14,185.98 546.68,185.46 547.21,184.93 547.75,184.40 548.28,183.86 548.82,183.32 549.36,182.78 549.89,182.24 550.43,181.69 550.96,181.14 551.50,180.59 552.04,180.04 552.57,179.48 553.11,178.91 553.64,178.34 554.18,177.77 554.72,177.19 555.25,176.61 555.79,176.02 556.32,175.42 556.86,174.82 557.40,174.21 557.93,173.60 558.47,172.98 559.00,172.35 559.54,171.71 560.08,171.06 560.61,170.40" fill="none" stroke="#ff1a1a" stroke-width="1.3" stroke-linejoin="round"/>
<path d="M475.40,241.82 476.01,241.82 476.61,241.81 477.22,241.79 477.82,241.76 478.43,241.72 479.04,241.67 479.64,241.60 480.25,241.53 480.85,241.45 481.46,241.36 482.07,241.25 482.67,241.14 483.28,241.02 483.88,240.89 484.49,240.75 485.09,240.60 485.70,240.43 486.31,240.25 486.91,240.05 487.52,239.84 488.12,239.62 488.73,239.38 489.34,239.13 489.94,238.87 490.55,238.60 491.15,238.32 491.76,238.02 492.37,237.72 492.97,237.40 493.58,237.08 494.18,236.74 494.79,236.40 495.40,236.05 496.00,235.69 496.61,235.32 497.21,234.94 497.82,234.55 498.42,234.16 499.03,233.76 499.64,233.36 500.24,232.95 500.85,232.53 501.45,232.11 502.06,231.68 502.67,231.24 503.27,230.81 503.88,230.36 504.48,229.92 505.09,229.47 505.70,229.02 506.30,228.56 506.91,228.10 507.51,227.64 508.12,227.18 508.73,226.72 509.33,226.25 509.94,225.78 510.54,225.32 511.15,224.85 511.75,224.38 512.36,223.91 512.97,223.44 513.57,222.98 514.18,222.51 514.78,222.05 515.39,221.58 516.00,221.12 516.60,220.66 517.21,220.21 517.81,219.75 518.42,219.30 519.03,218.85 519.63,218.41 520.24,217.95 520.84,217.50 521.45,217.04 522.06,216.59 522.66,216.12 523.27,215.66 523.87,215.19 524.48,214.73 525.09,214.26 525.69,213.78 526.30,213.31 526.90,212.83 527.51,212.35 528.11,211.87 528.72,211.39 529.33,210.90 529.93,210.41 530.54,209.92 531.14,209.43 531.75,208.94 532.36,208.44 532.96,207.94 533.57,207.44 534.17,206.94 534.78,206.43 535.39,205.93 535.99,205.42 536.60,204.91 537.20,204.39 537.81,203.88 538.42,203.36 539.02,202.84 539.63,202.31 540.23,201.79 540.84,201.26 541.44,200.73 542.05,200.20 542.66,199.66 543.26,199.12 543.87,198.58 544.47,198.03 545.08,197.48 545.69,196.93 546.29,196.37 546.90,195.82 547.50,195.25 548.11,194.69 548.72,194.12 549.32,193.54 549.93,192.96 550.53,192.38 551.14,191.79 551.75,191.20 552.35,190.60 552.96,190.00 553.56,189.39 554.17,188.78 554.77,188.16 555.38,187.54 555.99,186.91 556.59,186.27 557.20,185.63 557.80,184.98 558.41,184.32 559.02,183.65 559.62,182.98 560.23,182.30 560.83,181.61 561.44,180.91 562.05,180.20 562.65,179.49 563.26,178.76 563.86,178.03 564.47,177.28 565.08,176.52 565.68,175.76 566.29,174.98 566.89,174.18 567.50,173.38 568.11,172.56 568.71,171.73 569.32,170.89 569.92,170.03 570.53,169.16 571.13,168.27 571.74,167.36" fill="none" stroke="#1e1ee6" stroke-width="1.3" stroke-dasharray="2.6,1.4" stroke-linejoin="round"/>
<path d="M475.40,241.04 476.01,240.62 476.61,240.21 477.22,239.81 477.82,239.42 478.43,239.04 479.04,238.67 479.64,238.31 480.25,237.96 480.85,237.63 481.46,237.30 482.07,236.99 482.67,236.69 483.28,236.40 483.88,236.12 484.49,235.85 485.09,235.60 485.70,235.36 486.31,235.12 486.91,234.87 487.52,234.61 488.12,234.36 488.73,234.13 489.34,233.92 489.94,233.74 490.55,233.60 491.15,233.51 491.76,233.48 492.37,233.62 492.97,233.96 493.58,234.40 494.18,234.83 494.79,235.17 495.40,235.30 496.00,235.27 496.61,235.19 497.21,235.05 497.82,234.88 498.42,234.67 499.03,234.44 499.64,234.19 500.24,233.94 500.85,233.68 501.45,233.42 502.06,233.13 502.67,232.81 503.27,232.45 503.88,232.06 504.48,231.64 505.09,231.21 505.70,230.77 506.30,230.33 506.91,229.88 507.51,229.45 508.12,229.02 508.73,228.62 509.33,228.22 509.94,227.82 510.54,227.42 511.15,227.01 511.75,226.61 512.36,226.20 512.97,225.79 513.57,225.37 514.18,224.95 514.78,224.52 515.39,224.09 516.00,223.66 516.60,223.23 517.21,222.79 517.81,222.35 518.42,221.91 519.03,221.46 519.63,221.01 520.24,220.56 520.84,220.11 521.45,219.65 522.06,219.19 522.66,218.73 523.27,218.27 523.87,217.80 524.48,217.33 525.09,216.86 525.69,216.39 526.30,215.91 526.90,215.44 527.51,214.96 528.11,214.48 528.72,213.99 529.33,213.51 529.93,213.02 530.54,212.53 531.14,212.04 531.75,211.54 532.36,211.05 532.96,210.55 533.57,210.05 534.17,209.54 534.78,209.04 535.39,208.53 535.99,208.02 536.60,207.51 537.20,207.00 537.81,206.48 538.42,205.96 539.02,205.44 539.63,204.92 540.23,204.39 540.84,203.87 541.44,203.34 542.05,202.80 542.66,202.26 543.26,201.73 543.87,201.18 544.47,200.64 545.08,200.09 545.69,199.54 546.29,198.98 546.90,198.42 547.50,197.86 548.11,197.29 548.72,196.72 549.32,196.15 549.93,195.57 550.53,194.99 551.14,194.40 551.75,193.81 552.35,193.21 552.96,192.61 553.56,192.00 554.17,191.39 554.77,190.77 555.38,190.14 555.99,189.51 556.59,188.88 557.20,188.23 557.80,187.58 558.41,186.92 559.02,186.26 559.62,185.59 560.23,184.90 560.83,184.22 561.44,183.52 562.05,182.81 562.65,182.09 563.26,181.37 563.86,180.63 564.47,179.89 565.08,179.13 565.68,178.36 566.29,177.58 566.89,176.79 567.50,175.99 568.11,175.17 568.71,174.34 569.32,173.49 569.92,172.64 570.53,171.76 571.13,170.87 571.74,169.97" fill="none" stroke="#1e1ee6" stroke-width="1.3" stroke-linejoin="round"/>
<path d="M475.40,245.98 476.23,246.14 477.05,246.27 477.88,246.37 478.70,246.44 479.53,246.49 480.35,246.50 481.18,246.49 482.01,246.46 482.83,246.40 483.66,246.32 484.48,246.21 485.31,246.07 486.13,245.90 486.96,245.70 487.79,245.47 488.61,245.21 489.44,244.93 490.26,244.62 491.09,244.29 491.92,243.93 492.74,243.55 493.57,243.15 494.39,242.73 495.22,242.29 496.04,241.83 496.87,241.36 497.70,240.87 498.52,240.36 499.35,239.84 500.17,239.31 501.00,238.76 501.82,238.20 502.65,237.63 503.48,237.06 504.30,236.47 505.13,235.88 505.95,235.28 506.78,234.67 507.60,234.06 508.43,233.45 509.26,232.83 510.08,232.21 510.91,231.59 511.73,230.97 512.56,230.35 513.38,229.73 514.21,229.11 515.04,228.50 515.86,227.89 516.69,227.29 517.51,226.69 518.34,226.09 519.16,225.50 519.99,224.92 520.82,224.33 521.64,223.74 522.47,223.15 523.29,222.55 524.12,221.96 524.95,221.37 525.77,220.77 526.60,220.18 527.42,219.59 528.25,218.99 529.07,218.40 529.90,217.81 530.73,217.22 531.55,216.63 532.38,216.05 533.20,215.46 534.03,214.88 534.85,214.30 535.68,213.72 536.51,213.15 537.33,212.57 538.16,212.00 538.98,211.44 539.81,210.87 540.63,210.31 541.46,209.75 542.29,209.20 543.11,208.65 543.94,208.10 544.76,207.56 545.59,207.01 546.41,206.48 547.24,205.94 548.07,205.41 548.89,204.89 549.72,204.36 550.54,203.84 551.37,203.33 552.19,202.82 553.02,202.31 553.85,201.80 554.67,201.30 555.50,200.81 556.32,200.31 557.15,199.82 557.98,199.33 558.80,198.85 559.63,198.37 560.45,197.89 561.28,197.41 562.10,196.94 562.93,196.47 563.76,196.00 564.58,195.54 565.41,195.07 566.23,194.61 567.06,194.16 567.88,193.70 568.71,193.24 569.54,192.79 570.36,192.33 571.19,191.88 572.01,191.43 572.84,190.98 573.66,190.53 574.49,190.08 575.32,189.63 576.14,189.18 576.97,188.72 577.79,188.27 578.62,187.81 579.44,187.36 580.27,186.90 581.10,186.44 581.92,185.97 582.75,185.51 583.57,185.04 584.40,184.57 585.22,184.09 586.05,183.61 586.88,183.12 587.70,182.63 588.53,182.13 589.35,181.63 590.18,181.12 591.01,180.60 591.83,180.08 592.66,179.55 593.48,179.01 594.31,178.46 595.13,177.91 595.96,177.34 596.79,176.77 597.61,176.18 598.44,175.59 599.26,174.98 600.09,174.36 600.91,173.73 601.74,173.08 602.57,172.42 603.39,171.75 604.22,171.06 605.04,170.36 605.87,169.64 606.69,168.91" fill="none" stroke="#1e961e" stroke-width="1.3" stroke-dasharray="2.6,1.4" stroke-linejoin="round"/>
<path d="M475.40,245.21 476.23,244.27 477.05,243.42 477.88,242.65 478.70,241.96 479.53,241.34 480.35,240.80 481.18,240.31 482.01,239.90 482.83,239.54 483.66,239.23 484.48,238.97 485.31,238.76 486.13,238.58 486.96,238.45 487.79,238.34 488.61,238.27 489.44,238.22 490.26,238.19 491.09,238.17 491.92,238.18 492.74,238.50 493.57,239.08 494.39,239.66 495.22,239.98 496.04,239.97 496.87,239.89 497.70,239.75 498.52,239.55 499.35,239.30 500.17,239.01 501.00,238.69 501.82,238.33 502.65,237.94 503.48,237.53 504.30,237.10 505.13,236.67 505.95,236.22 506.78,235.78 507.60,235.34 508.43,234.91 509.26,234.46 510.08,233.94 510.91,233.38 511.73,232.80 512.56,232.21 513.38,231.63 514.21,231.06 515.04,230.49 515.86,229.92 516.69,229.34 517.51,228.76 518.34,228.17 519.16,227.59 519.99,227.00 520.82,226.41 521.64,225.82 522.47,225.23 523.29,224.64 524.12,224.04 524.95,223.45 525.77,222.86 526.60,222.26 527.42,221.67 528.25,221.08 529.07,220.49 529.90,219.90 530.73,219.31 531.55,218.72 532.38,218.13 533.20,217.55 534.03,216.97 534.85,216.39 535.68,215.81 536.51,215.23 537.33,214.66 538.16,214.09 538.98,213.52 539.81,212.96 540.63,212.40 541.46,211.84 542.29,211.28 543.11,210.73 543.94,210.19 544.76,209.64 545.59,209.10 546.41,208.56 547.24,208.03 548.07,207.50 548.89,206.97 549.72,206.45 550.54,205.93 551.37,205.41 552.19,204.90 553.02,204.39 553.85,203.89 554.67,203.39 555.50,202.89 556.32,202.40 557.15,201.91 557.98,201.42 558.80,200.93 559.63,200.45 560.45,199.97 561.28,199.50 562.10,199.03 562.93,198.56 563.76,198.09 564.58,197.62 565.41,197.16 566.23,196.70 567.06,196.24 567.88,195.78 568.71,195.33 569.54,194.87 570.36,194.42 571.19,193.97 572.01,193.52 572.84,193.06 573.66,192.61 574.49,192.16 575.32,191.71 576.14,191.26 576.97,190.81 577.79,190.35 578.62,189.90 579.44,189.44 580.27,188.98 581.10,188.52 581.92,188.06 582.75,187.59 583.57,187.12 584.40,186.65 585.22,186.17 586.05,185.69 586.88,185.20 587.70,184.71 588.53,184.22 589.35,183.71 590.18,183.20 591.01,182.69 591.83,182.17 592.66,181.63 593.48,181.10 594.31,180.55 595.13,179.99 595.96,179.43 596.79,178.85 597.61,178.27 598.44,177.67 599.26,177.06 600.09,176.44 600.91,175.81 601.74,175.17 602.57,174.51 603.39,173.83 604.22,173.15 605.04,172.45 605.87,171.73 606.69,170.99" fill="none" stroke="#1e961e" stroke-width="1.3" stroke-linejoin="round"/>
<path d="M475.40,249.12 476.37,248.81 477.34,248.50 478.32,248.19 479.29,247.87 480.26,247.56 481.23,247.24 482.21,246.93 483.18,246.61 484.15,246.30 485.12,245.97 486.10,245.63 487.07,245.27 488.04,244.90 489.01,244.52 489.98,244.13 490.96,243.72 491.93,243.31 492.90,242.88 493.87,242.45 494.85,242.01 495.82,241.57 496.79,241.11 497.76,240.66 498.74,240.20 499.71,239.74 500.68,239.27 501.65,238.81 502.62,238.34 503.60,237.87 504.57,237.41 505.54,236.95 506.51,236.49 507.49,236.04 508.46,235.59 509.43,235.15 510.40,234.72 511.38,234.29 512.35,233.87 513.32,233.46 514.29,233.07 515.26,232.68 516.24,232.31 517.21,231.95 518.18,231.60 519.15,231.27 520.13,230.94 521.10,230.61 522.07,230.28 523.04,229.96 524.02,229.63 524.99,229.30 525.96,228.97 526.93,228.64 527.90,228.31 528.88,227.98 529.85,227.65 530.82,227.32 531.79,226.99 532.77,226.65 533.74,226.32 534.71,225.99 535.68,225.66 536.66,225.32 537.63,224.99 538.60,224.65 539.57,224.32 540.54,223.98 541.52,223.65 542.49,223.31 543.46,222.97 544.43,222.63 545.41,222.29 546.38,221.95 547.35,221.61 548.32,221.27 549.30,220.93 550.27,220.58 551.24,220.24 552.21,219.89 553.18,219.54 554.16,219.20 555.13,218.85 556.10,218.49 557.07,218.14 558.05,217.79 559.02,217.43 559.99,217.07 560.96,216.71 561.94,216.35 562.91,215.99 563.88,215.62 564.85,215.25 565.82,214.88 566.80,214.51 567.77,214.13 568.74,213.75 569.71,213.37 570.69,212.98 571.66,212.59 572.63,212.20 573.60,211.81 574.58,211.41 575.55,211.01 576.52,210.60 577.49,210.19 578.46,209.77 579.44,209.35 580.41,208.92 581.38,208.49 582.35,208.06 583.33,207.62 584.30,207.17 585.27,206.71 586.24,206.25 587.22,205.78 588.19,205.31 589.16,204.82 590.13,204.33 591.10,203.83 592.08,203.32 593.05,202.81 594.02,202.28 594.99,201.74 595.97,201.19 596.94,200.63 597.91,200.06 598.88,199.47 599.86,198.88 600.83,198.26 601.80,197.64 602.77,197.00 603.74,196.34 604.72,195.66 605.69,194.97 606.66,194.26 607.63,193.52 608.61,192.77 609.58,191.99 610.55,191.19 611.52,190.36 612.50,189.51 613.47,188.63 614.44,187.72 615.41,186.77 616.38,185.79 617.36,184.78 618.33,183.72 619.30,182.62 620.27,181.48 621.25,180.29 622.22,179.05 623.19,177.75 624.16,176.40 625.14,174.98 626.11,173.48 627.08,171.92 628.05,170.26 629.02,168.52 630.00,167.29" fill="none" stroke="#32c8c8" stroke-width="1.3" stroke-dasharray="2.6,1.4" stroke-linejoin="round"/>
<path d="M475.40,248.33 476.37,247.79 477.34,247.30 478.32,246.84 479.29,246.43 480.26,246.06 481.23,245.72 482.21,245.42 483.18,245.16 484.15,244.93 485.12,244.74 486.10,244.57 487.07,244.44 488.04,244.33 489.01,244.25 489.98,244.20 490.96,244.17 491.93,244.17 492.90,244.29 493.87,244.49 494.85,244.65 495.82,244.67 496.79,244.51 497.76,244.20 498.74,243.77 499.71,243.23 500.68,242.61 501.65,241.93 502.62,241.22 503.60,240.49 504.57,239.78 505.54,239.09 506.51,238.47 507.49,237.92 508.46,237.47 509.43,237.10 510.40,236.77 511.38,236.45 512.35,236.15 513.32,235.84 514.29,235.51 515.26,235.19 516.24,234.86 517.21,234.53 518.18,234.20 519.15,233.88 520.13,233.55 521.10,233.22 522.07,232.89 523.04,232.56 524.02,232.23 524.99,231.90 525.96,231.57 526.93,231.24 527.90,230.91 528.88,230.58 529.85,230.25 530.82,229.92 531.79,229.59 532.77,229.26 533.74,228.93 534.71,228.59 535.68,228.26 536.66,227.93 537.63,227.59 538.60,227.26 539.57,226.92 540.54,226.59 541.52,226.25 542.49,225.92 543.46,225.58 544.43,225.24 545.41,224.90 546.38,224.56 547.35,224.22 548.32,223.88 549.30,223.53 550.27,223.19 551.24,222.84 552.21,222.50 553.18,222.15 554.16,221.80 555.13,221.45 556.10,221.10 557.07,220.75 558.05,220.39 559.02,220.04 559.99,219.68 560.96,219.32 561.94,218.96 562.91,218.59 563.88,218.22 564.85,217.86 565.82,217.49 566.80,217.11 567.77,216.74 568.74,216.36 569.71,215.97 570.69,215.59 571.66,215.20 572.63,214.81 573.60,214.41 574.58,214.01 575.55,213.61 576.52,213.20 577.49,212.79 578.46,212.38 579.44,211.96 580.41,211.53 581.38,211.10 582.35,210.66 583.33,210.22 584.30,209.77 585.27,209.32 586.24,208.86 587.22,208.39 588.19,207.91 589.16,207.43 590.13,206.94 591.10,206.44 592.08,205.93 593.05,205.41 594.02,204.88 594.99,204.35 595.97,203.80 596.94,203.24 597.91,202.67 598.88,202.08 599.86,201.48 600.83,200.87 601.80,200.24 602.77,199.60 603.74,198.94 604.72,198.27 605.69,197.57 606.66,196.86 607.63,196.13 608.61,195.37 609.58,194.60 610.55,193.80 611.52,192.97 612.50,192.12 613.47,191.23 614.44,190.32 615.41,189.38 616.38,188.40 617.36,187.38 618.33,186.33 619.30,185.23 620.27,184.09 621.25,182.90 622.22,181.66 623.19,180.36 624.16,179.00 625.14,177.58 626.11,176.09 627.08,174.52 628.05,172.87 629.02,171.13 630.00,169.29" fill="none" stroke="#32c8c8" stroke-width="1.3" stroke-linejoin="round"/>
<path d="M475.40,254.33 476.45,254.06 477.50,253.80 478.55,253.53 479.60,253.27 480.65,253.00 481.70,252.74 482.75,252.48 483.80,252.22 484.85,251.95 485.90,251.67 486.95,251.37 488.00,251.06 489.05,250.74 490.10,250.40 491.15,250.06 492.20,249.70 493.25,249.33 494.30,248.96 495.35,248.58 496.40,248.20 497.45,247.81 498.50,247.41 499.55,247.02 500.60,246.63 501.65,246.23 502.70,245.84 503.75,245.45 504.80,245.06 505.85,244.68 506.90,244.31 507.95,243.94 509.00,243.58 510.05,243.23 511.10,242.89 512.15,242.56 513.20,242.24 514.25,241.94 515.30,241.65 516.35,241.38 517.40,241.13 518.45,240.89 519.50,240.67 520.55,240.45 521.60,240.23 522.65,240.01 523.70,239.80 524.75,239.58 525.80,239.37 526.85,239.15 527.90,238.94 528.95,238.73 530.00,238.51 531.05,238.30 532.10,238.09 533.15,237.87 534.20,237.66 535.25,237.45 536.30,237.23 537.35,237.02 538.40,236.81 539.45,236.59 540.50,236.38 541.55,236.16 542.60,235.95 543.65,235.73 544.70,235.51 545.75,235.29 546.80,235.07 547.85,234.85 548.90,234.62 549.95,234.39 551.00,234.17 552.05,233.94 553.10,233.70 554.15,233.47 555.20,233.23 556.25,232.99 557.30,232.75 558.35,232.50 559.40,232.25 560.45,232.00 561.50,231.74 562.55,231.48 563.60,231.21 564.65,230.94 565.70,230.67 566.75,230.39 567.80,230.11 568.85,229.82 569.90,229.52 570.95,229.22 572.00,228.92 573.05,228.61 574.10,228.29 575.15,227.96 576.20,227.63 577.25,227.29 578.30,226.94 579.35,226.59 580.40,226.22 581.45,225.85 582.50,225.47 583.55,225.08 584.60,224.68 585.65,224.27 586.70,223.86 587.75,223.43 588.80,222.99 589.85,222.53 590.90,222.07 591.95,221.59 593.00,221.10 594.05,220.60 595.10,220.09 596.15,219.56 597.20,219.01 598.25,218.46 599.30,217.88 600.35,217.29 601.40,216.68 602.45,216.06 603.50,215.41 604.55,214.75 605.60,214.07 606.65,213.37 607.70,212.65 608.75,211.90 609.80,211.14 610.85,210.35 611.90,209.53 612.95,208.69 614.00,207.83 615.04,206.93 616.09,206.01 617.14,205.06 618.19,204.07 619.24,203.05 620.29,202.00 621.34,200.90 622.39,199.77 623.44,198.60 624.49,197.39 625.54,196.12 626.59,194.81 627.64,193.45 628.69,192.03 629.74,190.55 630.79,189.00 631.84,187.38 632.89,185.69 633.94,183.91 634.99,182.03 636.04,180.05 637.09,177.95 638.14,175.72 639.19,173.34 640.24,170.78 641.29,168.01 642.34,167.29" fill="none" stroke="#c83cc8" stroke-width="1.3" stroke-dasharray="2.6,1.4" stroke-linejoin="round"/>
<path d="M475.40,253.55 476.45,252.57 477.50,251.71 478.55,250.96 479.60,250.32 480.65,249.76 481.70,249.30 482.75,248.91 483.80,248.60 484.85,248.35 485.90,248.16 486.95,248.02 488.00,247.93 489.05,247.86 490.10,247.83 491.15,247.82 492.20,247.88 493.25,248.39 494.30,249.04 495.35,249.38 496.40,249.33 497.45,249.20 498.50,248.98 499.55,248.70 500.60,248.37 501.65,248.00 502.70,247.61 503.75,247.21 504.80,246.81 505.85,246.43 506.90,246.08 507.95,245.77 509.00,245.51 510.05,245.27 511.10,245.05 512.15,244.83 513.20,244.61 514.25,244.38 515.30,244.16 516.35,243.94 517.40,243.72 518.45,243.49 519.50,243.27 520.55,243.06 521.60,242.84 522.65,242.62 523.70,242.40 524.75,242.19 525.80,241.97 526.85,241.76 527.90,241.54 528.95,241.33 530.00,241.12 531.05,240.90 532.10,240.69 533.15,240.48 534.20,240.27 535.25,240.05 536.30,239.84 537.35,239.63 538.40,239.41 539.45,239.20 540.50,238.98 541.55,238.77 542.60,238.55 543.65,238.33 544.70,238.12 545.75,237.90 546.80,237.67 547.85,237.45 548.90,237.23 549.95,237.00 551.00,236.77 552.05,236.54 553.10,236.31 554.15,236.07 555.20,235.84 556.25,235.60 557.30,235.35 558.35,235.11 559.40,234.86 560.45,234.60 561.50,234.35 562.55,234.08 563.60,233.82 564.65,233.55 565.70,233.28 566.75,233.00 567.80,232.71 568.85,232.42 569.90,232.13 570.95,231.83 572.00,231.52 573.05,231.21 574.10,230.89 575.15,230.57 576.20,230.24 577.25,229.90 578.30,229.55 579.35,229.19 580.40,228.83 581.45,228.46 582.50,228.08 583.55,227.69 584.60,227.29 585.65,226.88 586.70,226.46 587.75,226.03 588.80,225.59 589.85,225.14 590.90,224.68 591.95,224.20 593.00,223.71 594.05,223.21 595.10,222.69 596.15,222.16 597.20,221.62 598.25,221.06 599.30,220.49 600.35,219.90 601.40,219.29 602.45,218.66 603.50,218.02 604.55,217.36 605.60,216.68 606.65,215.98 607.70,215.25 608.75,214.51 609.80,213.74 610.85,212.95 611.90,212.14 612.95,211.30 614.00,210.43 615.04,209.54 616.09,208.62 617.14,207.66 618.19,206.68 619.24,205.66 620.29,204.60 621.34,203.51 622.39,202.38 623.44,201.21 624.49,199.99 625.54,198.73 626.59,197.42 627.64,196.06 628.69,194.64 629.74,193.15 630.79,191.61 631.84,189.99 632.89,188.29 633.94,186.51 634.99,184.64 636.04,182.66 637.09,180.56 638.14,178.33 639.19,175.94 640.24,173.38 641.29,170.61 642.34,167.59" fill="none" stroke="#c83cc8" stroke-width="1.3" stroke-linejoin="round"/>
<path d="M475.40,256.93 476.49,256.89 477.58,256.83 478.66,256.77 479.75,256.70 480.84,256.63 481.93,256.55 483.02,256.46 484.11,256.37 485.19,256.25 486.28,256.12 487.37,255.96 488.46,255.77 489.55,255.56 490.64,255.34 491.72,255.09 492.81,254.83 493.90,254.55 494.99,254.26 496.08,253.96 497.16,253.65 498.25,253.33 499.34,253.00 500.43,252.67 501.52,252.34 502.61,252.00 503.69,251.67 504.78,251.33 505.87,251.00 506.96,250.67 508.05,250.35 509.14,250.04 510.22,249.73 511.31,249.44 512.40,249.16 513.49,248.89 514.58,248.64 515.66,248.41 516.75,248.19 517.84,247.99 518.93,247.82 520.02,247.66 521.11,247.49 522.19,247.33 523.28,247.17 524.37,247.00 525.46,246.84 526.55,246.68 527.64,246.52 528.72,246.36 529.81,246.19 530.90,246.03 531.99,245.87 533.08,245.71 534.17,245.55 535.25,245.39 536.34,245.23 537.43,245.07 538.52,244.91 539.61,244.76 540.69,244.60 541.78,244.44 542.87,244.28 543.96,244.12 545.05,243.96 546.14,243.80 547.22,243.63 548.31,243.47 549.40,243.31 550.49,243.15 551.58,242.98 552.67,242.81 553.75,242.65 554.84,242.48 555.93,242.30 557.02,242.13 558.11,241.96 559.19,241.78 560.28,241.60 561.37,241.41 562.46,241.23 563.55,241.04 564.64,240.84 565.72,240.65 566.81,240.44 567.90,240.24 568.99,240.03 570.08,239.81 571.17,239.59 572.25,239.37 573.34,239.13 574.43,238.90 575.52,238.65 576.61,238.40 577.69,238.14 578.78,237.87 579.87,237.60 580.96,237.32 582.05,237.03 583.14,236.73 584.22,236.41 585.31,236.09 586.40,235.76 587.49,235.42 588.58,235.07 589.67,234.70 590.75,234.32 591.84,233.93 592.93,233.53 594.02,233.11 595.11,232.68 596.19,232.23 597.28,231.77 598.37,231.28 599.46,230.79 600.55,230.27 601.64,229.74 602.72,229.18 603.81,228.61 604.90,228.02 605.99,227.40 607.08,226.76 608.17,226.10 609.25,225.41 610.34,224.70 611.43,223.96 612.52,223.20 613.61,222.41 614.69,221.58 615.78,220.73 616.87,219.84 617.96,218.93 619.05,217.97 620.14,216.98 621.22,215.95 622.31,214.88 623.40,213.77 624.49,212.61 625.58,211.41 626.67,210.16 627.75,208.85 628.84,207.49 629.93,206.07 631.02,204.59 632.11,203.03 633.20,201.41 634.28,199.70 635.37,197.90 636.46,196.01 637.55,194.01 638.64,191.88 639.72,189.62 640.81,187.20 641.90,184.58 642.99,181.74 644.08,178.61 645.17,175.12 646.25,171.13 647.34,167.29 648.43,167.29" fill="none" stroke="#c8c832" stroke-width="1.3" stroke-dasharray="2.6,1.4" stroke-linejoin="round"/>
<path d="M475.40,256.15 476.49,255.47 477.58,254.88 478.66,254.37 479.75,253.95 480.84,253.59 481.93,253.29 483.02,253.06 484.11,252.88 485.19,252.74 486.28,252.64 487.37,252.57 488.46,252.53 489.55,252.51 490.64,252.51 491.72,252.50 492.81,252.83 493.90,253.49 494.99,254.01 496.08,254.06 497.16,254.02 498.25,253.94 499.34,253.84 500.43,253.71 501.52,253.57 502.61,253.41 503.69,253.24 504.78,253.07 505.87,252.90 506.96,252.73 508.05,252.57 509.14,252.42 510.22,252.26 511.31,252.10 512.40,251.93 513.49,251.77 514.58,251.60 515.66,251.44 516.75,251.28 517.84,251.11 518.93,250.95 520.02,250.78 521.11,250.62 522.19,250.46 523.28,250.29 524.37,250.13 525.46,249.97 526.55,249.81 527.64,249.64 528.72,249.48 529.81,249.32 530.90,249.16 531.99,249.00 533.08,248.84 534.17,248.68 535.25,248.52 536.34,248.36 537.43,248.20 538.52,248.04 539.61,247.88 540.69,247.72 541.78,247.56 542.87,247.40 543.96,247.24 545.05,247.08 546.14,246.92 547.22,246.76 548.31,246.60 549.40,246.44 550.49,246.27 551.58,246.11 552.67,245.94 553.75,245.77 554.84,245.60 555.93,245.43 557.02,245.26 558.11,245.08 559.19,244.90 560.28,244.72 561.37,244.54 562.46,244.35 563.55,244.16 564.64,243.97 565.72,243.77 566.81,243.57 567.90,243.37 568.99,243.16 570.08,242.94 571.17,242.72 572.25,242.49 573.34,242.26 574.43,242.02 575.52,241.78 576.61,241.53 577.69,241.27 578.78,241.00 579.87,240.73 580.96,240.44 582.05,240.15 583.14,239.85 584.22,239.54 585.31,239.22 586.40,238.89 587.49,238.55 588.58,238.20 589.67,237.83 590.75,237.45 591.84,237.06 592.93,236.66 594.02,236.24 595.11,235.81 596.19,235.36 597.28,234.89 598.37,234.41 599.46,233.91 600.55,233.40 601.64,232.86 602.72,232.31 603.81,231.74 604.90,231.14 605.99,230.53 607.08,229.89 608.17,229.23 609.25,228.54 610.34,227.83 611.43,227.09 612.52,226.33 613.61,225.53 614.69,224.71 615.78,223.86 616.87,222.97 617.96,222.05 619.05,221.10 620.14,220.11 621.22,219.08 622.31,218.01 623.40,216.90 624.49,215.74 625.58,214.54 626.67,213.28 627.75,211.98 628.84,210.62 629.93,209.20 631.02,207.71 632.11,206.16 633.20,204.53 634.28,202.83 635.37,201.03 636.46,199.14 637.55,197.14 638.64,195.01 639.72,192.75 640.81,190.33 641.90,187.71 642.99,184.87 644.08,181.74 645.17,178.25 646.25,174.26 647.34,169.55 648.43,167.29" fill="none" stroke="#c8c832" stroke-width="1.3" stroke-linejoin="round"/>
<path d="M475.40,264.23 476.49,264.11 477.59,264.00 478.68,263.88 479.77,263.77 480.87,263.66 481.96,263.56 483.06,263.46 484.15,263.36 485.24,263.24 486.34,263.09 487.43,262.91 488.52,262.70 489.62,262.45 490.71,262.19 491.81,261.90 492.90,261.59 493.99,261.26 495.09,260.92 496.18,260.57 497.27,260.20 498.37,259.83 499.46,259.45 500.56,259.07 501.65,258.68 502.74,258.30 503.84,257.92 504.93,257.55 506.02,257.19 507.12,256.84 508.21,256.50 509.31,256.18 510.40,255.87 511.49,255.59 512.59,255.33 513.68,255.10 514.77,254.89 515.87,254.72 516.96,254.57 518.05,254.47 519.15,254.40 520.24,254.34 521.34,254.28 522.43,254.21 523.52,254.15 524.62,254.09 525.71,254.02 526.80,253.96 527.90,253.89 528.99,253.82 530.09,253.75 531.18,253.67 532.27,253.60 533.37,253.52 534.46,253.44 535.55,253.36 536.65,253.27 537.74,253.19 538.84,253.10 539.93,253.00 541.02,252.91 542.12,252.81 543.21,252.71 544.30,252.60 545.40,252.49 546.49,252.38 547.58,252.26 548.68,252.14 549.77,252.01 550.87,251.88 551.96,251.75 553.05,251.61 554.15,251.47 555.24,251.32 556.33,251.17 557.43,251.01 558.52,250.85 559.62,250.68 560.71,250.50 561.80,250.32 562.90,250.14 563.99,249.95 565.08,249.75 566.18,249.54 567.27,249.33 568.37,249.11 569.46,248.89 570.55,248.66 571.65,248.42 572.74,248.17 573.83,247.92 574.93,247.65 576.02,247.38 577.12,247.11 578.21,246.82 579.30,246.52 580.40,246.22 581.49,245.91 582.58,245.58 583.68,245.25 584.77,244.91 585.86,244.56 586.96,244.20 588.05,243.82 589.15,243.44 590.24,243.04 591.33,242.64 592.43,242.22 593.52,241.79 594.61,241.35 595.71,240.90 596.80,240.43 597.90,239.95 598.99,239.45 600.08,238.95 601.18,238.42 602.27,237.89 603.36,237.33 604.46,236.76 605.55,236.18 606.65,235.58 607.74,234.96 608.83,234.32 609.93,233.66 611.02,232.99 612.11,232.29 613.21,231.58 614.30,230.84 615.39,230.08 616.49,229.29 617.58,228.48 618.68,227.65 619.77,226.78 620.86,225.89 621.96,224.97 623.05,224.02 624.14,223.03 625.24,222.01 626.33,220.95 627.43,219.84 628.52,218.70 629.61,217.50 630.71,216.26 631.80,214.95 632.89,213.59 633.99,212.16 635.08,210.65 636.18,209.06 637.27,207.37 638.36,205.57 639.46,203.64 640.55,201.56 641.64,199.30 642.74,196.82 643.83,194.06 644.93,190.93 646.02,187.31 647.11,182.97 648.21,177.50 649.30,169.92" fill="none" stroke="#ff1a1a" stroke-width="1.3" stroke-dasharray="2.6,1.4" stroke-linejoin="round"/>
<path d="M475.40,260.06 476.49,259.52 477.59,259.06 478.68,258.66 479.77,258.32 480.87,258.04 481.96,257.81 483.06,257.63 484.15,257.48 485.24,257.38 486.34,257.30 487.43,257.25 488.52,257.22 489.62,257.20 490.71,257.20 491.81,257.20 492.90,257.75 493.99,258.77 495.09,259.49 496.18,259.52 497.27,259.45 498.37,259.32 499.46,259.15 500.56,258.95 501.65,258.73 502.74,258.50 503.84,258.28 504.93,258.06 506.02,257.87 507.12,257.71 508.21,257.59 509.31,257.51 510.40,257.45 511.49,257.40 512.59,257.35 513.68,257.29 514.77,257.24 515.87,257.18 516.96,257.12 518.05,257.06 519.15,257.00 520.24,256.94 521.34,256.88 522.43,256.82 523.52,256.76 524.62,256.69 525.71,256.63 526.80,256.56 527.90,256.49 528.99,256.42 530.09,256.35 531.18,256.28 532.27,256.20 533.37,256.13 534.46,256.05 535.55,255.96 536.65,255.88 537.74,255.79 538.84,255.70 539.93,255.61 541.02,255.51 542.12,255.41 543.21,255.31 544.30,255.21 545.40,255.10 546.49,254.98 547.58,254.87 548.68,254.74 549.77,254.62 550.87,254.49 551.96,254.36 553.05,254.22 554.15,254.07 555.24,253.93 556.33,253.77 557.43,253.62 558.52,253.45 559.62,253.28 560.71,253.11 561.80,252.93 562.90,252.74 563.99,252.55 565.08,252.35 566.18,252.15 567.27,251.94 568.37,251.72 569.46,251.49 570.55,251.26 571.65,251.02 572.74,250.78 573.83,250.52 574.93,250.26 576.02,249.99 577.12,249.71 578.21,249.43 579.30,249.13 580.40,248.83 581.49,248.51 582.58,248.19 583.68,247.86 584.77,247.52 585.86,247.16 586.96,246.80 588.05,246.43 589.15,246.05 590.24,245.65 591.33,245.24 592.43,244.83 593.52,244.40 594.61,243.96 595.71,243.50 596.80,243.04 597.90,242.55 598.99,242.06 600.08,241.55 601.18,241.03 602.27,240.49 603.36,239.94 604.46,239.37 605.55,238.79 606.65,238.18 607.74,237.56 608.83,236.93 609.93,236.27 611.02,235.59 612.11,234.90 613.21,234.18 614.30,233.44 615.39,232.68 616.49,231.90 617.58,231.09 618.68,230.25 619.77,229.39 620.86,228.50 621.96,227.58 623.05,226.62 624.14,225.64 625.24,224.61 626.33,223.55 627.43,222.45 628.52,221.30 629.61,220.11 630.71,218.86 631.80,217.56 632.89,216.20 633.99,214.76 635.08,213.26 636.18,211.66 637.27,209.97 638.36,208.17 639.46,206.24 640.55,204.17 641.64,201.90 642.74,199.42 643.83,196.66 644.93,193.54 646.02,189.92 647.11,185.58 648.21,180.10 649.30,172.52" fill="none" stroke="#ff1a1a" stroke-width="1.3" stroke-linejoin="round"/>
</g>
<path d="M475.4,172.5 H649.3 V302.8" fill="none" stroke="#8c8c8c" stroke-width="1.2"/>
<line x1="475.4" y1="172.5" x2="475.4" y2="302.8" stroke="#7a7a7a" stroke-width="1.2"/>
<line x1="474.79999999999995" y1="302.8" x2="649.9" y2="302.8" stroke="#9a9a9a" stroke-width="1.2"/>
<line x1="473.59999999999997" y1="302.80" x2="475.4" y2="302.80" stroke="#7a7a7a" stroke-width="0.9"/>
<line x1="473.59999999999997" y1="276.74" x2="475.4" y2="276.74" stroke="#7a7a7a" stroke-width="0.9"/>
<line x1="473.59999999999997" y1="250.68" x2="475.4" y2="250.68" stroke="#7a7a7a" stroke-width="0.9"/>
<line x1="473.59999999999997" y1="224.62" x2="475.4" y2="224.62" stroke="#7a7a7a" stroke-width="0.9"/>
<line x1="473.59999999999997" y1="198.56" x2="475.4" y2="198.56" stroke="#7a7a7a" stroke-width="0.9"/>
<line x1="475.40" y1="302.8" x2="475.40" y2="304.6" stroke="#9a9a9a" stroke-width="0.9"/>
<line x1="510.18" y1="302.8" x2="510.18" y2="304.6" stroke="#9a9a9a" stroke-width="0.9"/>
<line x1="544.96" y1="302.8" x2="544.96" y2="304.6" stroke="#9a9a9a" stroke-width="0.9"/>
<line x1="579.74" y1="302.8" x2="579.74" y2="304.6" stroke="#9a9a9a" stroke-width="0.9"/>
<line x1="614.52" y1="302.8" x2="614.52" y2="304.6" stroke="#9a9a9a" stroke-width="0.9"/>
<line x1="649.30" y1="302.8" x2="649.30" y2="304.6" stroke="#9a9a9a" stroke-width="0.9"/>
<text x="43.70" y="147.80" font-size="11.5" text-anchor="middle" fill="#111111" textLength="17.2" lengthAdjust="spacingAndGlyphs">0.0</text>
<text x="74.80" y="147.80" font-size="11.5" text-anchor="middle" fill="#111111" textLength="17.2" lengthAdjust="spacingAndGlyphs">0.2</text>
<text x="109.70" y="147.80" font-size="11.5" text-anchor="middle" fill="#111111" textLength="17.2" lengthAdjust="spacingAndGlyphs">0.4</text>
<text x="146.00" y="147.80" font-size="11.5" text-anchor="middle" fill="#111111" textLength="17.2" lengthAdjust="spacingAndGlyphs">0.6</text>
<text x="178.30" y="147.80" font-size="11.5" text-anchor="middle" fill="#111111" textLength="17.2" lengthAdjust="spacingAndGlyphs">0.8</text>
<text x="214.70" y="147.80" font-size="11.5" text-anchor="middle" fill="#111111" textLength="17.2" lengthAdjust="spacingAndGlyphs">1.0</text>
<text x="258.20" y="151.80" font-size="11.5" text-anchor="middle" fill="#111111" textLength="17.2" lengthAdjust="spacingAndGlyphs">0.0</text>
<text x="289.00" y="151.80" font-size="11.5" text-anchor="middle" fill="#111111" textLength="17.2" lengthAdjust="spacingAndGlyphs">0.2</text>
<text x="323.80" y="151.80" font-size="11.5" text-anchor="middle" fill="#111111" textLength="17.2" lengthAdjust="spacingAndGlyphs">0.4</text>
<text x="360.00" y="151.80" font-size="11.5" text-anchor="middle" fill="#111111" textLength="17.2" lengthAdjust="spacingAndGlyphs">0.6</text>
<text x="392.70" y="151.80" font-size="11.5" text-anchor="middle" fill="#111111" textLength="17.2" lengthAdjust="spacingAndGlyphs">0.8</text>
<text x="428.60" y="151.80" font-size="11.5" text-anchor="middle" fill="#111111" textLength="17.2" lengthAdjust="spacingAndGlyphs">1.0</text>
<text x="477.70" y="149.60" font-size="11.5" text-anchor="middle" fill="#111111" textLength="17.2" lengthAdjust="spacingAndGlyphs">0.0</text>
<text x="508.30" y="149.60" font-size="11.5" text-anchor="middle" fill="#111111" textLength="17.2" lengthAdjust="spacingAndGlyphs">0.2</text>
<text x="543.20" y="149.60" font-size="11.5" text-anchor="middle" fill="#111111" textLength="17.2" lengthAdjust="spacingAndGlyphs">0.4</text>
<text x="580.40" y="149.60" font-size="11.5" text-anchor="middle" fill="#111111" textLength="17.2" lengthAdjust="spacingAndGlyphs">0.6</text>
<text x="613.00" y="149.60" font-size="11.5" text-anchor="middle" fill="#111111" textLength="17.2" lengthAdjust="spacingAndGlyphs">0.8</text>
<text x="649.50" y="149.60" font-size="11.5" text-anchor="middle" fill="#111111" textLength="17.2" lengthAdjust="spacingAndGlyphs">1.0</text>
<text x="45.30" y="320.10" font-size="11.5" text-anchor="middle" fill="#111111" textLength="17.2" lengthAdjust="spacingAndGlyphs">0.0</text>
<text x="76.60" y="320.10" font-size="11.5" text-anchor="middle" fill="#111111" textLength="17.2" lengthAdjust="spacingAndGlyphs">0.2</text>
<text x="111.20" y="320.10" font-size="11.5" text-anchor="middle" fill="#111111" textLength="17.2" lengthAdjust="spacingAndGlyphs">0.4</text>
<text x="147.60" y="320.10" font-size="11.5" text-anchor="middle" fill="#111111" textLength="17.2" lengthAdjust="spacingAndGlyphs">0.6</text>
<text x="180.20" y="320.10" font-size="11.5" text-anchor="middle" fill="#111111" textLength="17.2" lengthAdjust="spacingAndGlyphs">0.8</text>
<text x="216.60" y="320.10" font-size="11.5" text-anchor="middle" fill="#111111" textLength="17.2" lengthAdjust="spacingAndGlyphs">1.0</text>
<text x="261.70" y="321.10" font-size="11.5" text-anchor="middle" fill="#111111" textLength="17.2" lengthAdjust="spacingAndGlyphs">0.0</text>
<text x="292.70" y="321.10" font-size="11.5" text-anchor="middle" fill="#111111" textLength="17.2" lengthAdjust="spacingAndGlyphs">0.2</text>
<text x="327.50" y="321.10" font-size="11.5" text-anchor="middle" fill="#111111" textLength="17.2" lengthAdjust="spacingAndGlyphs">0.4</text>
<text x="364.60" y="321.10" font-size="11.5" text-anchor="middle" fill="#111111" textLength="17.2" lengthAdjust="spacingAndGlyphs">0.6</text>
<text x="396.10" y="321.10" font-size="11.5" text-anchor="middle" fill="#111111" textLength="17.2" lengthAdjust="spacingAndGlyphs">0.8</text>
<text x="433.10" y="321.10" font-size="11.5" text-anchor="middle" fill="#111111" textLength="17.2" lengthAdjust="spacingAndGlyphs">1.0</text>
<text x="478.70" y="321.60" font-size="11.5" text-anchor="middle" fill="#111111" textLength="17.2" lengthAdjust="spacingAndGlyphs">0.0</text>
<text x="510.70" y="321.60" font-size="11.5" text-anchor="middle" fill="#111111" textLength="17.2" lengthAdjust="spacingAndGlyphs">0.2</text>
<text x="544.30" y="321.60" font-size="11.5" text-anchor="middle" fill="#111111" textLength="17.2" lengthAdjust="spacingAndGlyphs">0.4</text>
<text x="581.10" y="321.60" font-size="11.5" text-anchor="middle" fill="#111111" textLength="17.2" lengthAdjust="spacingAndGlyphs">0.6</text>
<text x="613.10" y="321.60" font-size="11.5" text-anchor="middle" fill="#111111" textLength="17.2" lengthAdjust="spacingAndGlyphs">0.8</text>
<text x="650.10" y="321.60" font-size="11.5" text-anchor="middle" fill="#111111" textLength="17.2" lengthAdjust="spacingAndGlyphs">1.0</text>
<text x="32.00" y="131.53" font-size="11.5" text-anchor="end" fill="#111111">0</text>
<text x="32.00" y="114.59" font-size="11.5" text-anchor="end" fill="#111111">2</text>
<text x="32.00" y="97.65" font-size="11.5" text-anchor="end" fill="#111111">4</text>
<text x="32.00" y="80.71" font-size="11.5" text-anchor="end" fill="#111111">6</text>
<text x="32.00" y="63.77" font-size="11.5" text-anchor="end" fill="#111111">8</text>
<text x="32.00" y="46.83" font-size="11.5" text-anchor="end" fill="#111111" textLength="13.6" lengthAdjust="spacingAndGlyphs">10</text>
<text x="32.00" y="29.89" font-size="11.5" text-anchor="end" fill="#111111" textLength="13.6" lengthAdjust="spacingAndGlyphs">12</text>
<text x="32.00" y="12.95" font-size="11.5" text-anchor="end" fill="#111111" textLength="13.6" lengthAdjust="spacingAndGlyphs">14</text>
<text x="246.00" y="135.13" font-size="11.5" text-anchor="end" fill="#111111">0</text>
<text x="246.00" y="118.14" font-size="11.5" text-anchor="end" fill="#111111">2</text>
<text x="246.00" y="101.15" font-size="11.5" text-anchor="end" fill="#111111">4</text>
<text x="246.00" y="84.16" font-size="11.5" text-anchor="end" fill="#111111">6</text>
<text x="246.00" y="67.17" font-size="11.5" text-anchor="end" fill="#111111">8</text>
<text x="246.00" y="50.18" font-size="11.5" text-anchor="end" fill="#111111" textLength="13.6" lengthAdjust="spacingAndGlyphs">10</text>
<text x="246.00" y="33.19" font-size="11.5" text-anchor="end" fill="#111111" textLength="13.6" lengthAdjust="spacingAndGlyphs">12</text>
<text x="246.00" y="16.20" font-size="11.5" text-anchor="end" fill="#111111" textLength="13.6" lengthAdjust="spacingAndGlyphs">14</text>
<text x="466.00" y="133.59" font-size="11.5" text-anchor="end" fill="#111111">0</text>
<text x="466.00" y="116.72" font-size="11.5" text-anchor="end" fill="#111111">2</text>
<text x="466.00" y="99.85" font-size="11.5" text-anchor="end" fill="#111111">4</text>
<text x="466.00" y="82.98" font-size="11.5" text-anchor="end" fill="#111111">6</text>
<text x="466.00" y="66.11" font-size="11.5" text-anchor="end" fill="#111111">8</text>
<text x="466.00" y="49.24" font-size="11.5" text-anchor="end" fill="#111111" textLength="13.6" lengthAdjust="spacingAndGlyphs">10</text>
<text x="466.00" y="32.37" font-size="11.5" text-anchor="end" fill="#111111" textLength="13.6" lengthAdjust="spacingAndGlyphs">12</text>
<text x="466.00" y="15.50" font-size="11.5" text-anchor="end" fill="#111111" textLength="13.6" lengthAdjust="spacingAndGlyphs">14</text>
<text x="31.80" y="303.10" font-size="11.5" text-anchor="end" fill="#111111">0</text>
<text x="31.80" y="278.60" font-size="11.5" text-anchor="end" fill="#111111">1</text>
<text x="31.80" y="254.10" font-size="11.5" text-anchor="end" fill="#111111">2</text>
<text x="31.80" y="229.60" font-size="11.5" text-anchor="end" fill="#111111">3</text>
<text x="31.80" y="205.10" font-size="11.5" text-anchor="end" fill="#111111">4</text>
<text x="31.80" y="180.60" font-size="11.5" text-anchor="end" fill="#111111">5</text>
<text x="247.00" y="303.90" font-size="11.5" text-anchor="end" fill="#111111">0</text>
<text x="247.00" y="279.38" font-size="11.5" text-anchor="end" fill="#111111">1</text>
<text x="247.00" y="254.86" font-size="11.5" text-anchor="end" fill="#111111">2</text>
<text x="247.00" y="230.34" font-size="11.5" text-anchor="end" fill="#111111">3</text>
<text x="247.00" y="205.82" font-size="11.5" text-anchor="end" fill="#111111">4</text>
<text x="247.00" y="181.30" font-size="11.5" text-anchor="end" fill="#111111">5</text>
<text x="464.20" y="304.10" font-size="11.5" text-anchor="end" fill="#111111">0</text>
<text x="464.20" y="279.60" font-size="11.5" text-anchor="end" fill="#111111">1</text>
<text x="464.20" y="255.10" font-size="11.5" text-anchor="end" fill="#111111">2</text>
<text x="464.20" y="230.60" font-size="11.5" text-anchor="end" fill="#111111">3</text>
<text x="464.20" y="206.10" font-size="11.5" text-anchor="end" fill="#111111">4</text>
<text x="464.20" y="181.60" font-size="11.5" text-anchor="end" fill="#111111">5</text>
<text x="45.30" y="20.55" font-size="15" fill="#111111" textLength="79.24" lengthAdjust="spacingAndGlyphs">(a) Z<tspan font-size="10.5" dy="4">eff</tspan><tspan dy="-4"> = 1.5</tspan></text>
<text x="262.60" y="18.75" font-size="15" fill="#111111" textLength="79.24" lengthAdjust="spacingAndGlyphs">(b) Z<tspan font-size="10.5" dy="4">eff</tspan><tspan dy="-4"> = 2.5</tspan></text>
<text x="554.70" y="20.85" font-size="15" fill="#111111" textLength="77.75" lengthAdjust="spacingAndGlyphs">(c) Z<tspan font-size="10.5" dy="4">eff</tspan><tspan dy="-4"> = 3.5</tspan></text>
<text x="121.80" y="289.05" font-size="15" fill="#111111" textLength="79.12" lengthAdjust="spacingAndGlyphs">(d) Z<tspan font-size="10.5" dy="4">eff</tspan><tspan dy="-4"> = 1.5</tspan></text>
<text x="344.40" y="289.25" font-size="15" fill="#111111" textLength="78.65" lengthAdjust="spacingAndGlyphs">(e) Z<tspan font-size="10.5" dy="4">eff</tspan><tspan dy="-4"> = 2.5</tspan></text>
<text x="564.50" y="292.15" font-size="15" fill="#111111" textLength="76.24" lengthAdjust="spacingAndGlyphs">(f) Z<tspan font-size="10.5" dy="4">eff</tspan><tspan dy="-4"> = 3.5</tspan></text>
<text x="130.60" y="159.00" font-size="14.5" text-anchor="middle" fill="#111111">ρ</text>
<text x="344.70" y="161.00" font-size="14.5" text-anchor="middle" fill="#111111">ρ</text>
<text x="565.70" y="158.50" font-size="14.5" text-anchor="middle" fill="#111111">ρ</text>
<text x="132.00" y="331.00" font-size="14.5" text-anchor="middle" fill="#111111">ρ</text>
<text x="348.30" y="331.00" font-size="14.5" text-anchor="middle" fill="#111111">ρ</text>
<text x="566.00" y="333.00" font-size="14.5" text-anchor="middle" fill="#111111">ρ</text>
<text transform="translate(12.6,95.6) rotate(-90)" font-size="14.5" fill="#111111" textLength="50.5" lengthAdjust="spacingAndGlyphs">T<tspan font-size="10.5" dy="3.5">e</tspan><tspan dy="-3.5"> [keV]</tspan></text>
<text transform="translate(16.2,266.2) rotate(-90)" font-size="14.5" fill="#111111" textLength="83" lengthAdjust="spacingAndGlyphs">safety factor</text>
</svg></body></html>
